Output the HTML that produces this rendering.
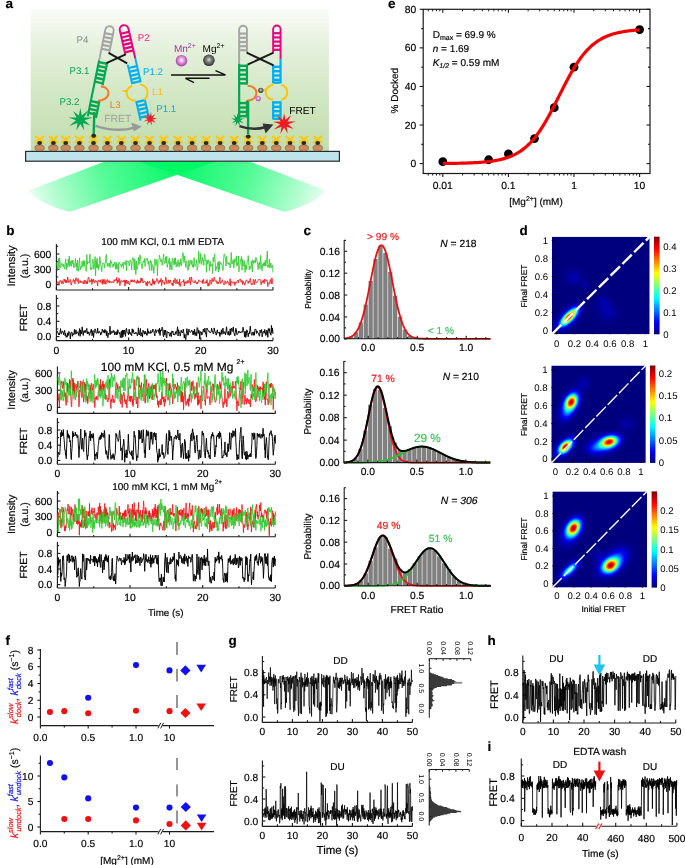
<!DOCTYPE html>
<html><head><meta charset="utf-8"><style>
html,body{margin:0;padding:0;background:#fff;}
svg{display:block;font-family:"Liberation Sans",sans-serif;will-change:transform;text-rendering:geometricPrecision;}
</style></head><body>
<svg width="685" height="865" viewBox="0 0 685 865">
<defs><linearGradient id="abg" x1="0" y1="0" x2="0" y2="1"><stop offset="0" stop-color="#fafcf8"/><stop offset="0.25" stop-color="#e6f1de"/><stop offset="0.6" stop-color="#d2e7c4"/><stop offset="1" stop-color="#c2dcae"/></linearGradient>
<linearGradient id="beamL" gradientUnits="userSpaceOnUse" x1="188" y1="163" x2="30" y2="222"><stop offset="0" stop-color="#00f864"/><stop offset="0.1" stop-color="#00f864" stop-opacity="0.95"/><stop offset="0.5" stop-color="#00f864" stop-opacity="0.66"/><stop offset="0.8" stop-color="#00f864" stop-opacity="0.3"/><stop offset="1" stop-color="#00f864" stop-opacity="0"/></linearGradient>
<linearGradient id="beamR" gradientUnits="userSpaceOnUse" x1="166.2" y1="163" x2="324.2" y2="222"><stop offset="0" stop-color="#00f864"/><stop offset="0.1" stop-color="#00f864" stop-opacity="0.95"/><stop offset="0.5" stop-color="#00f864" stop-opacity="0.66"/><stop offset="0.8" stop-color="#00f864" stop-opacity="0.3"/><stop offset="1" stop-color="#00f864" stop-opacity="0"/></linearGradient>
<radialGradient id="mnball" cx="0.5" cy="0.45" r="0.55"><stop offset="0" stop-color="#ffffff"/><stop offset="0.35" stop-color="#e9a6e6"/><stop offset="1" stop-color="#a33aa2"/></radialGradient>
<radialGradient id="mgball" cx="0.5" cy="0.45" r="0.55"><stop offset="0" stop-color="#e0e0e0"/><stop offset="0.35" stop-color="#8a8a8a"/><stop offset="1" stop-color="#2a2a2a"/></radialGradient>
<filter id="jet" x="0" y="0" width="685" height="865" filterUnits="userSpaceOnUse" color-interpolation-filters="sRGB"><feComponentTransfer><feFuncR type="table" tableValues="0.000 0.000 0.000 0.000 0.000 0.000 0.000 0.000 0.000 0.000 0.000 0.000 0.000 0.000 0.000 0.000 0.000 0.000 0.000 0.000 0.000 0.000 0.000 0.000 0.000 0.062 0.125 0.188 0.250 0.312 0.375 0.438 0.500 0.562 0.625 0.688 0.750 0.812 0.875 0.938 1.000 1.000 1.000 1.000 1.000 1.000 1.000 1.000 1.000 1.000 1.000 1.000 1.000 1.000 1.000 1.000 1.000 0.938 0.875 0.812 0.750 0.688 0.625 0.562 0.500"/><feFuncG type="table" tableValues="0.000 0.000 0.000 0.000 0.000 0.000 0.000 0.000 0.000 0.062 0.125 0.188 0.250 0.312 0.375 0.438 0.500 0.562 0.625 0.688 0.750 0.812 0.875 0.938 1.000 1.000 1.000 1.000 1.000 1.000 1.000 1.000 1.000 1.000 1.000 1.000 1.000 1.000 1.000 1.000 1.000 0.938 0.875 0.812 0.750 0.688 0.625 0.562 0.500 0.438 0.375 0.312 0.250 0.188 0.125 0.062 0.000 0.000 0.000 0.000 0.000 0.000 0.000 0.000 0.000"/><feFuncB type="table" tableValues="0.500 0.562 0.625 0.688 0.750 0.812 0.875 0.938 1.000 1.000 1.000 1.000 1.000 1.000 1.000 1.000 1.000 1.000 1.000 1.000 1.000 1.000 1.000 1.000 1.000 0.938 0.875 0.812 0.750 0.688 0.625 0.562 0.500 0.438 0.375 0.312 0.250 0.188 0.125 0.062 0.000 0.000 0.000 0.000 0.000 0.000 0.000 0.000 0.000 0.000 0.000 0.000 0.000 0.000 0.000 0.000 0.000 0.000 0.000 0.000 0.000 0.000 0.000 0.000 0.000"/><feFuncA type="identity"/></feComponentTransfer></filter>
<linearGradient id="jetbar" x1="0" y1="1" x2="0" y2="0"><stop offset="0" stop-color="#000080"/><stop offset="0.02" stop-color="#00008f"/><stop offset="0.03" stop-color="#00009f"/><stop offset="0.05" stop-color="#0000af"/><stop offset="0.06" stop-color="#0000bf"/><stop offset="0.08" stop-color="#0000cf"/><stop offset="0.09" stop-color="#0000df"/><stop offset="0.11" stop-color="#0000ef"/><stop offset="0.12" stop-color="#0000ff"/><stop offset="0.14" stop-color="#0010ff"/><stop offset="0.16" stop-color="#0020ff"/><stop offset="0.17" stop-color="#0030ff"/><stop offset="0.19" stop-color="#0040ff"/><stop offset="0.2" stop-color="#0050ff"/><stop offset="0.22" stop-color="#0060ff"/><stop offset="0.23" stop-color="#0070ff"/><stop offset="0.25" stop-color="#0080ff"/><stop offset="0.27" stop-color="#008fff"/><stop offset="0.28" stop-color="#009fff"/><stop offset="0.3" stop-color="#00afff"/><stop offset="0.31" stop-color="#00bfff"/><stop offset="0.33" stop-color="#00cfff"/><stop offset="0.34" stop-color="#00dfff"/><stop offset="0.36" stop-color="#00efff"/><stop offset="0.38" stop-color="#00ffff"/><stop offset="0.39" stop-color="#10ffef"/><stop offset="0.41" stop-color="#20ffdf"/><stop offset="0.42" stop-color="#30ffcf"/><stop offset="0.44" stop-color="#40ffbf"/><stop offset="0.45" stop-color="#50ffaf"/><stop offset="0.47" stop-color="#60ff9f"/><stop offset="0.48" stop-color="#70ff8f"/><stop offset="0.5" stop-color="#80ff80"/><stop offset="0.52" stop-color="#8fff70"/><stop offset="0.53" stop-color="#9fff60"/><stop offset="0.55" stop-color="#afff50"/><stop offset="0.56" stop-color="#bfff40"/><stop offset="0.58" stop-color="#cfff30"/><stop offset="0.59" stop-color="#dfff20"/><stop offset="0.61" stop-color="#efff10"/><stop offset="0.62" stop-color="#ffff00"/><stop offset="0.64" stop-color="#ffef00"/><stop offset="0.66" stop-color="#ffdf00"/><stop offset="0.67" stop-color="#ffcf00"/><stop offset="0.69" stop-color="#ffbf00"/><stop offset="0.7" stop-color="#ffaf00"/><stop offset="0.72" stop-color="#ff9f00"/><stop offset="0.73" stop-color="#ff8f00"/><stop offset="0.75" stop-color="#ff8000"/><stop offset="0.77" stop-color="#ff7000"/><stop offset="0.78" stop-color="#ff6000"/><stop offset="0.8" stop-color="#ff5000"/><stop offset="0.81" stop-color="#ff4000"/><stop offset="0.83" stop-color="#ff3000"/><stop offset="0.84" stop-color="#ff2000"/><stop offset="0.86" stop-color="#ff1000"/><stop offset="0.88" stop-color="#ff0000"/><stop offset="0.89" stop-color="#ef0000"/><stop offset="0.91" stop-color="#df0000"/><stop offset="0.92" stop-color="#cf0000"/><stop offset="0.94" stop-color="#bf0000"/><stop offset="0.95" stop-color="#af0000"/><stop offset="0.97" stop-color="#9f0000"/><stop offset="0.98" stop-color="#8f0000"/><stop offset="1" stop-color="#800000"/></linearGradient>
<radialGradient id="bg1"><stop offset="0" stop-color="#fff" stop-opacity="0.970"/><stop offset="0.08" stop-color="#fff" stop-opacity="0.940"/><stop offset="0.17" stop-color="#fff" stop-opacity="0.856"/><stop offset="0.25" stop-color="#fff" stop-opacity="0.732"/><stop offset="0.33" stop-color="#fff" stop-opacity="0.588"/><stop offset="0.42" stop-color="#fff" stop-opacity="0.444"/><stop offset="0.5" stop-color="#fff" stop-opacity="0.315"/><stop offset="0.58" stop-color="#fff" stop-opacity="0.210"/><stop offset="0.67" stop-color="#fff" stop-opacity="0.131"/><stop offset="0.75" stop-color="#fff" stop-opacity="0.077"/><stop offset="0.83" stop-color="#fff" stop-opacity="0.043"/><stop offset="0.92" stop-color="#fff" stop-opacity="0.022"/><stop offset="1" stop-color="#fff" stop-opacity="0.000"/></radialGradient>
<radialGradient id="bg2"><stop offset="0" stop-color="#fff" stop-opacity="0.250"/><stop offset="0.08" stop-color="#fff" stop-opacity="0.242"/><stop offset="0.17" stop-color="#fff" stop-opacity="0.221"/><stop offset="0.25" stop-color="#fff" stop-opacity="0.189"/><stop offset="0.33" stop-color="#fff" stop-opacity="0.152"/><stop offset="0.42" stop-color="#fff" stop-opacity="0.114"/><stop offset="0.5" stop-color="#fff" stop-opacity="0.081"/><stop offset="0.58" stop-color="#fff" stop-opacity="0.054"/><stop offset="0.67" stop-color="#fff" stop-opacity="0.034"/><stop offset="0.75" stop-color="#fff" stop-opacity="0.020"/><stop offset="0.83" stop-color="#fff" stop-opacity="0.011"/><stop offset="0.92" stop-color="#fff" stop-opacity="0.006"/><stop offset="1" stop-color="#fff" stop-opacity="0.000"/></radialGradient>
<radialGradient id="bg3"><stop offset="0" stop-color="#fff" stop-opacity="0.050"/><stop offset="0.08" stop-color="#fff" stop-opacity="0.048"/><stop offset="0.17" stop-color="#fff" stop-opacity="0.044"/><stop offset="0.25" stop-color="#fff" stop-opacity="0.038"/><stop offset="0.33" stop-color="#fff" stop-opacity="0.030"/><stop offset="0.42" stop-color="#fff" stop-opacity="0.023"/><stop offset="0.5" stop-color="#fff" stop-opacity="0.016"/><stop offset="0.58" stop-color="#fff" stop-opacity="0.011"/><stop offset="0.67" stop-color="#fff" stop-opacity="0.007"/><stop offset="0.75" stop-color="#fff" stop-opacity="0.004"/><stop offset="0.83" stop-color="#fff" stop-opacity="0.002"/><stop offset="0.92" stop-color="#fff" stop-opacity="0.001"/><stop offset="1" stop-color="#fff" stop-opacity="0.000"/></radialGradient>
<radialGradient id="bg4"><stop offset="0" stop-color="#fff" stop-opacity="0.040"/><stop offset="0.08" stop-color="#fff" stop-opacity="0.039"/><stop offset="0.17" stop-color="#fff" stop-opacity="0.035"/><stop offset="0.25" stop-color="#fff" stop-opacity="0.030"/><stop offset="0.33" stop-color="#fff" stop-opacity="0.024"/><stop offset="0.42" stop-color="#fff" stop-opacity="0.018"/><stop offset="0.5" stop-color="#fff" stop-opacity="0.013"/><stop offset="0.58" stop-color="#fff" stop-opacity="0.009"/><stop offset="0.67" stop-color="#fff" stop-opacity="0.005"/><stop offset="0.75" stop-color="#fff" stop-opacity="0.003"/><stop offset="0.83" stop-color="#fff" stop-opacity="0.002"/><stop offset="0.92" stop-color="#fff" stop-opacity="0.001"/><stop offset="1" stop-color="#fff" stop-opacity="0.000"/></radialGradient>
<radialGradient id="bg5"><stop offset="0" stop-color="#fff" stop-opacity="0.050"/><stop offset="0.08" stop-color="#fff" stop-opacity="0.048"/><stop offset="0.17" stop-color="#fff" stop-opacity="0.044"/><stop offset="0.25" stop-color="#fff" stop-opacity="0.038"/><stop offset="0.33" stop-color="#fff" stop-opacity="0.030"/><stop offset="0.42" stop-color="#fff" stop-opacity="0.023"/><stop offset="0.5" stop-color="#fff" stop-opacity="0.016"/><stop offset="0.58" stop-color="#fff" stop-opacity="0.011"/><stop offset="0.67" stop-color="#fff" stop-opacity="0.007"/><stop offset="0.75" stop-color="#fff" stop-opacity="0.004"/><stop offset="0.83" stop-color="#fff" stop-opacity="0.002"/><stop offset="0.92" stop-color="#fff" stop-opacity="0.001"/><stop offset="1" stop-color="#fff" stop-opacity="0.000"/></radialGradient>
<radialGradient id="bg6"><stop offset="0" stop-color="#fff" stop-opacity="0.040"/><stop offset="0.08" stop-color="#fff" stop-opacity="0.039"/><stop offset="0.17" stop-color="#fff" stop-opacity="0.035"/><stop offset="0.25" stop-color="#fff" stop-opacity="0.030"/><stop offset="0.33" stop-color="#fff" stop-opacity="0.024"/><stop offset="0.42" stop-color="#fff" stop-opacity="0.018"/><stop offset="0.5" stop-color="#fff" stop-opacity="0.013"/><stop offset="0.58" stop-color="#fff" stop-opacity="0.009"/><stop offset="0.67" stop-color="#fff" stop-opacity="0.005"/><stop offset="0.75" stop-color="#fff" stop-opacity="0.003"/><stop offset="0.83" stop-color="#fff" stop-opacity="0.002"/><stop offset="0.92" stop-color="#fff" stop-opacity="0.001"/><stop offset="1" stop-color="#fff" stop-opacity="0.000"/></radialGradient>
<clipPath id="hc7"><rect x="551.8" y="236.7" width="97.9" height="97.6"/></clipPath>
<radialGradient id="bg8"><stop offset="0" stop-color="#fff" stop-opacity="0.920"/><stop offset="0.08" stop-color="#fff" stop-opacity="0.892"/><stop offset="0.17" stop-color="#fff" stop-opacity="0.812"/><stop offset="0.25" stop-color="#fff" stop-opacity="0.694"/><stop offset="0.33" stop-color="#fff" stop-opacity="0.558"/><stop offset="0.42" stop-color="#fff" stop-opacity="0.421"/><stop offset="0.5" stop-color="#fff" stop-opacity="0.299"/><stop offset="0.58" stop-color="#fff" stop-opacity="0.199"/><stop offset="0.67" stop-color="#fff" stop-opacity="0.125"/><stop offset="0.75" stop-color="#fff" stop-opacity="0.073"/><stop offset="0.83" stop-color="#fff" stop-opacity="0.040"/><stop offset="0.92" stop-color="#fff" stop-opacity="0.021"/><stop offset="1" stop-color="#fff" stop-opacity="0.000"/></radialGradient>
<radialGradient id="bg9"><stop offset="0" stop-color="#fff" stop-opacity="0.260"/><stop offset="0.08" stop-color="#fff" stop-opacity="0.252"/><stop offset="0.17" stop-color="#fff" stop-opacity="0.229"/><stop offset="0.25" stop-color="#fff" stop-opacity="0.196"/><stop offset="0.33" stop-color="#fff" stop-opacity="0.158"/><stop offset="0.42" stop-color="#fff" stop-opacity="0.119"/><stop offset="0.5" stop-color="#fff" stop-opacity="0.084"/><stop offset="0.58" stop-color="#fff" stop-opacity="0.056"/><stop offset="0.67" stop-color="#fff" stop-opacity="0.035"/><stop offset="0.75" stop-color="#fff" stop-opacity="0.021"/><stop offset="0.83" stop-color="#fff" stop-opacity="0.011"/><stop offset="0.92" stop-color="#fff" stop-opacity="0.006"/><stop offset="1" stop-color="#fff" stop-opacity="0.000"/></radialGradient>
<radialGradient id="bg10"><stop offset="0" stop-color="#fff" stop-opacity="0.100"/><stop offset="0.08" stop-color="#fff" stop-opacity="0.097"/><stop offset="0.17" stop-color="#fff" stop-opacity="0.088"/><stop offset="0.25" stop-color="#fff" stop-opacity="0.075"/><stop offset="0.33" stop-color="#fff" stop-opacity="0.061"/><stop offset="0.42" stop-color="#fff" stop-opacity="0.046"/><stop offset="0.5" stop-color="#fff" stop-opacity="0.032"/><stop offset="0.58" stop-color="#fff" stop-opacity="0.022"/><stop offset="0.67" stop-color="#fff" stop-opacity="0.014"/><stop offset="0.75" stop-color="#fff" stop-opacity="0.008"/><stop offset="0.83" stop-color="#fff" stop-opacity="0.004"/><stop offset="0.92" stop-color="#fff" stop-opacity="0.002"/><stop offset="1" stop-color="#fff" stop-opacity="0.000"/></radialGradient>
<radialGradient id="bg11"><stop offset="0" stop-color="#fff" stop-opacity="0.900"/><stop offset="0.08" stop-color="#fff" stop-opacity="0.872"/><stop offset="0.17" stop-color="#fff" stop-opacity="0.794"/><stop offset="0.25" stop-color="#fff" stop-opacity="0.679"/><stop offset="0.33" stop-color="#fff" stop-opacity="0.546"/><stop offset="0.42" stop-color="#fff" stop-opacity="0.412"/><stop offset="0.5" stop-color="#fff" stop-opacity="0.292"/><stop offset="0.58" stop-color="#fff" stop-opacity="0.195"/><stop offset="0.67" stop-color="#fff" stop-opacity="0.122"/><stop offset="0.75" stop-color="#fff" stop-opacity="0.072"/><stop offset="0.83" stop-color="#fff" stop-opacity="0.040"/><stop offset="0.92" stop-color="#fff" stop-opacity="0.021"/><stop offset="1" stop-color="#fff" stop-opacity="0.000"/></radialGradient>
<radialGradient id="bg12"><stop offset="0" stop-color="#fff" stop-opacity="0.180"/><stop offset="0.08" stop-color="#fff" stop-opacity="0.174"/><stop offset="0.17" stop-color="#fff" stop-opacity="0.159"/><stop offset="0.25" stop-color="#fff" stop-opacity="0.136"/><stop offset="0.33" stop-color="#fff" stop-opacity="0.109"/><stop offset="0.42" stop-color="#fff" stop-opacity="0.082"/><stop offset="0.5" stop-color="#fff" stop-opacity="0.058"/><stop offset="0.58" stop-color="#fff" stop-opacity="0.039"/><stop offset="0.67" stop-color="#fff" stop-opacity="0.024"/><stop offset="0.75" stop-color="#fff" stop-opacity="0.014"/><stop offset="0.83" stop-color="#fff" stop-opacity="0.008"/><stop offset="0.92" stop-color="#fff" stop-opacity="0.004"/><stop offset="1" stop-color="#fff" stop-opacity="0.000"/></radialGradient>
<radialGradient id="bg13"><stop offset="0" stop-color="#fff" stop-opacity="0.900"/><stop offset="0.08" stop-color="#fff" stop-opacity="0.872"/><stop offset="0.17" stop-color="#fff" stop-opacity="0.794"/><stop offset="0.25" stop-color="#fff" stop-opacity="0.679"/><stop offset="0.33" stop-color="#fff" stop-opacity="0.546"/><stop offset="0.42" stop-color="#fff" stop-opacity="0.412"/><stop offset="0.5" stop-color="#fff" stop-opacity="0.292"/><stop offset="0.58" stop-color="#fff" stop-opacity="0.195"/><stop offset="0.67" stop-color="#fff" stop-opacity="0.122"/><stop offset="0.75" stop-color="#fff" stop-opacity="0.072"/><stop offset="0.83" stop-color="#fff" stop-opacity="0.040"/><stop offset="0.92" stop-color="#fff" stop-opacity="0.021"/><stop offset="1" stop-color="#fff" stop-opacity="0.000"/></radialGradient>
<radialGradient id="bg14"><stop offset="0" stop-color="#fff" stop-opacity="0.240"/><stop offset="0.08" stop-color="#fff" stop-opacity="0.233"/><stop offset="0.17" stop-color="#fff" stop-opacity="0.212"/><stop offset="0.25" stop-color="#fff" stop-opacity="0.181"/><stop offset="0.33" stop-color="#fff" stop-opacity="0.146"/><stop offset="0.42" stop-color="#fff" stop-opacity="0.110"/><stop offset="0.5" stop-color="#fff" stop-opacity="0.078"/><stop offset="0.58" stop-color="#fff" stop-opacity="0.052"/><stop offset="0.67" stop-color="#fff" stop-opacity="0.032"/><stop offset="0.75" stop-color="#fff" stop-opacity="0.019"/><stop offset="0.83" stop-color="#fff" stop-opacity="0.011"/><stop offset="0.92" stop-color="#fff" stop-opacity="0.005"/><stop offset="1" stop-color="#fff" stop-opacity="0.000"/></radialGradient>
<radialGradient id="bg15"><stop offset="0" stop-color="#fff" stop-opacity="0.120"/><stop offset="0.08" stop-color="#fff" stop-opacity="0.116"/><stop offset="0.17" stop-color="#fff" stop-opacity="0.106"/><stop offset="0.25" stop-color="#fff" stop-opacity="0.091"/><stop offset="0.33" stop-color="#fff" stop-opacity="0.073"/><stop offset="0.42" stop-color="#fff" stop-opacity="0.055"/><stop offset="0.5" stop-color="#fff" stop-opacity="0.039"/><stop offset="0.58" stop-color="#fff" stop-opacity="0.026"/><stop offset="0.67" stop-color="#fff" stop-opacity="0.016"/><stop offset="0.75" stop-color="#fff" stop-opacity="0.010"/><stop offset="0.83" stop-color="#fff" stop-opacity="0.005"/><stop offset="0.92" stop-color="#fff" stop-opacity="0.003"/><stop offset="1" stop-color="#fff" stop-opacity="0.000"/></radialGradient>
<radialGradient id="bg16"><stop offset="0" stop-color="#fff" stop-opacity="0.050"/><stop offset="0.08" stop-color="#fff" stop-opacity="0.048"/><stop offset="0.17" stop-color="#fff" stop-opacity="0.044"/><stop offset="0.25" stop-color="#fff" stop-opacity="0.038"/><stop offset="0.33" stop-color="#fff" stop-opacity="0.030"/><stop offset="0.42" stop-color="#fff" stop-opacity="0.023"/><stop offset="0.5" stop-color="#fff" stop-opacity="0.016"/><stop offset="0.58" stop-color="#fff" stop-opacity="0.011"/><stop offset="0.67" stop-color="#fff" stop-opacity="0.007"/><stop offset="0.75" stop-color="#fff" stop-opacity="0.004"/><stop offset="0.83" stop-color="#fff" stop-opacity="0.002"/><stop offset="0.92" stop-color="#fff" stop-opacity="0.001"/><stop offset="1" stop-color="#fff" stop-opacity="0.000"/></radialGradient>
<radialGradient id="bg17"><stop offset="0" stop-color="#fff" stop-opacity="0.040"/><stop offset="0.08" stop-color="#fff" stop-opacity="0.039"/><stop offset="0.17" stop-color="#fff" stop-opacity="0.035"/><stop offset="0.25" stop-color="#fff" stop-opacity="0.030"/><stop offset="0.33" stop-color="#fff" stop-opacity="0.024"/><stop offset="0.42" stop-color="#fff" stop-opacity="0.018"/><stop offset="0.5" stop-color="#fff" stop-opacity="0.013"/><stop offset="0.58" stop-color="#fff" stop-opacity="0.009"/><stop offset="0.67" stop-color="#fff" stop-opacity="0.005"/><stop offset="0.75" stop-color="#fff" stop-opacity="0.003"/><stop offset="0.83" stop-color="#fff" stop-opacity="0.002"/><stop offset="0.92" stop-color="#fff" stop-opacity="0.001"/><stop offset="1" stop-color="#fff" stop-opacity="0.000"/></radialGradient>
<clipPath id="hc18"><rect x="551.3" y="365.5" width="94.5" height="97.4"/></clipPath>
<radialGradient id="bg19"><stop offset="0" stop-color="#fff" stop-opacity="0.950"/><stop offset="0.08" stop-color="#fff" stop-opacity="0.921"/><stop offset="0.17" stop-color="#fff" stop-opacity="0.838"/><stop offset="0.25" stop-color="#fff" stop-opacity="0.717"/><stop offset="0.33" stop-color="#fff" stop-opacity="0.576"/><stop offset="0.42" stop-color="#fff" stop-opacity="0.435"/><stop offset="0.5" stop-color="#fff" stop-opacity="0.308"/><stop offset="0.58" stop-color="#fff" stop-opacity="0.205"/><stop offset="0.67" stop-color="#fff" stop-opacity="0.129"/><stop offset="0.75" stop-color="#fff" stop-opacity="0.076"/><stop offset="0.83" stop-color="#fff" stop-opacity="0.042"/><stop offset="0.92" stop-color="#fff" stop-opacity="0.022"/><stop offset="1" stop-color="#fff" stop-opacity="0.000"/></radialGradient>
<radialGradient id="bg20"><stop offset="0" stop-color="#fff" stop-opacity="0.250"/><stop offset="0.08" stop-color="#fff" stop-opacity="0.242"/><stop offset="0.17" stop-color="#fff" stop-opacity="0.221"/><stop offset="0.25" stop-color="#fff" stop-opacity="0.189"/><stop offset="0.33" stop-color="#fff" stop-opacity="0.152"/><stop offset="0.42" stop-color="#fff" stop-opacity="0.114"/><stop offset="0.5" stop-color="#fff" stop-opacity="0.081"/><stop offset="0.58" stop-color="#fff" stop-opacity="0.054"/><stop offset="0.67" stop-color="#fff" stop-opacity="0.034"/><stop offset="0.75" stop-color="#fff" stop-opacity="0.020"/><stop offset="0.83" stop-color="#fff" stop-opacity="0.011"/><stop offset="0.92" stop-color="#fff" stop-opacity="0.006"/><stop offset="1" stop-color="#fff" stop-opacity="0.000"/></radialGradient>
<radialGradient id="bg21"><stop offset="0" stop-color="#fff" stop-opacity="0.420"/><stop offset="0.08" stop-color="#fff" stop-opacity="0.407"/><stop offset="0.17" stop-color="#fff" stop-opacity="0.371"/><stop offset="0.25" stop-color="#fff" stop-opacity="0.317"/><stop offset="0.33" stop-color="#fff" stop-opacity="0.255"/><stop offset="0.42" stop-color="#fff" stop-opacity="0.192"/><stop offset="0.5" stop-color="#fff" stop-opacity="0.136"/><stop offset="0.58" stop-color="#fff" stop-opacity="0.091"/><stop offset="0.67" stop-color="#fff" stop-opacity="0.057"/><stop offset="0.75" stop-color="#fff" stop-opacity="0.033"/><stop offset="0.83" stop-color="#fff" stop-opacity="0.018"/><stop offset="0.92" stop-color="#fff" stop-opacity="0.010"/><stop offset="1" stop-color="#fff" stop-opacity="0.000"/></radialGradient>
<radialGradient id="bg22"><stop offset="0" stop-color="#fff" stop-opacity="0.100"/><stop offset="0.08" stop-color="#fff" stop-opacity="0.097"/><stop offset="0.17" stop-color="#fff" stop-opacity="0.088"/><stop offset="0.25" stop-color="#fff" stop-opacity="0.075"/><stop offset="0.33" stop-color="#fff" stop-opacity="0.061"/><stop offset="0.42" stop-color="#fff" stop-opacity="0.046"/><stop offset="0.5" stop-color="#fff" stop-opacity="0.032"/><stop offset="0.58" stop-color="#fff" stop-opacity="0.022"/><stop offset="0.67" stop-color="#fff" stop-opacity="0.014"/><stop offset="0.75" stop-color="#fff" stop-opacity="0.008"/><stop offset="0.83" stop-color="#fff" stop-opacity="0.004"/><stop offset="0.92" stop-color="#fff" stop-opacity="0.002"/><stop offset="1" stop-color="#fff" stop-opacity="0.000"/></radialGradient>
<radialGradient id="bg23"><stop offset="0" stop-color="#fff" stop-opacity="0.950"/><stop offset="0.08" stop-color="#fff" stop-opacity="0.921"/><stop offset="0.17" stop-color="#fff" stop-opacity="0.838"/><stop offset="0.25" stop-color="#fff" stop-opacity="0.717"/><stop offset="0.33" stop-color="#fff" stop-opacity="0.576"/><stop offset="0.42" stop-color="#fff" stop-opacity="0.435"/><stop offset="0.5" stop-color="#fff" stop-opacity="0.308"/><stop offset="0.58" stop-color="#fff" stop-opacity="0.205"/><stop offset="0.67" stop-color="#fff" stop-opacity="0.129"/><stop offset="0.75" stop-color="#fff" stop-opacity="0.076"/><stop offset="0.83" stop-color="#fff" stop-opacity="0.042"/><stop offset="0.92" stop-color="#fff" stop-opacity="0.022"/><stop offset="1" stop-color="#fff" stop-opacity="0.000"/></radialGradient>
<radialGradient id="bg24"><stop offset="0" stop-color="#fff" stop-opacity="0.250"/><stop offset="0.08" stop-color="#fff" stop-opacity="0.242"/><stop offset="0.17" stop-color="#fff" stop-opacity="0.221"/><stop offset="0.25" stop-color="#fff" stop-opacity="0.189"/><stop offset="0.33" stop-color="#fff" stop-opacity="0.152"/><stop offset="0.42" stop-color="#fff" stop-opacity="0.114"/><stop offset="0.5" stop-color="#fff" stop-opacity="0.081"/><stop offset="0.58" stop-color="#fff" stop-opacity="0.054"/><stop offset="0.67" stop-color="#fff" stop-opacity="0.034"/><stop offset="0.75" stop-color="#fff" stop-opacity="0.020"/><stop offset="0.83" stop-color="#fff" stop-opacity="0.011"/><stop offset="0.92" stop-color="#fff" stop-opacity="0.006"/><stop offset="1" stop-color="#fff" stop-opacity="0.000"/></radialGradient>
<radialGradient id="bg25"><stop offset="0" stop-color="#fff" stop-opacity="0.090"/><stop offset="0.08" stop-color="#fff" stop-opacity="0.087"/><stop offset="0.17" stop-color="#fff" stop-opacity="0.079"/><stop offset="0.25" stop-color="#fff" stop-opacity="0.068"/><stop offset="0.33" stop-color="#fff" stop-opacity="0.055"/><stop offset="0.42" stop-color="#fff" stop-opacity="0.041"/><stop offset="0.5" stop-color="#fff" stop-opacity="0.029"/><stop offset="0.58" stop-color="#fff" stop-opacity="0.019"/><stop offset="0.67" stop-color="#fff" stop-opacity="0.012"/><stop offset="0.75" stop-color="#fff" stop-opacity="0.007"/><stop offset="0.83" stop-color="#fff" stop-opacity="0.004"/><stop offset="0.92" stop-color="#fff" stop-opacity="0.002"/><stop offset="1" stop-color="#fff" stop-opacity="0.000"/></radialGradient>
<radialGradient id="bg26"><stop offset="0" stop-color="#fff" stop-opacity="0.050"/><stop offset="0.08" stop-color="#fff" stop-opacity="0.048"/><stop offset="0.17" stop-color="#fff" stop-opacity="0.044"/><stop offset="0.25" stop-color="#fff" stop-opacity="0.038"/><stop offset="0.33" stop-color="#fff" stop-opacity="0.030"/><stop offset="0.42" stop-color="#fff" stop-opacity="0.023"/><stop offset="0.5" stop-color="#fff" stop-opacity="0.016"/><stop offset="0.58" stop-color="#fff" stop-opacity="0.011"/><stop offset="0.67" stop-color="#fff" stop-opacity="0.007"/><stop offset="0.75" stop-color="#fff" stop-opacity="0.004"/><stop offset="0.83" stop-color="#fff" stop-opacity="0.002"/><stop offset="0.92" stop-color="#fff" stop-opacity="0.001"/><stop offset="1" stop-color="#fff" stop-opacity="0.000"/></radialGradient>
<clipPath id="hc27"><rect x="552.4" y="491.4" width="94.6" height="96.2"/></clipPath></defs>
<line x1="56.4" y1="244" x2="56.4" y2="290" stroke="#1a1a1a" stroke-width="1.1" />
<line x1="56.4" y1="284.6" x2="59.4" y2="284.6" stroke="#1a1a1a" stroke-width="1.1" />
<line x1="56.4" y1="269.3" x2="59.4" y2="269.3" stroke="#1a1a1a" stroke-width="1.1" />
<line x1="56.4" y1="254" x2="59.4" y2="254" stroke="#1a1a1a" stroke-width="1.1" />
<line x1="56.4" y1="276.95" x2="58.2" y2="276.95" stroke="#1a1a1a" stroke-width="1.1" />
<line x1="56.4" y1="261.65" x2="58.2" y2="261.65" stroke="#1a1a1a" stroke-width="1.1" />
<line x1="56.4" y1="246.35" x2="58.2" y2="246.35" stroke="#1a1a1a" stroke-width="1.1" />
<line x1="56.4" y1="290" x2="273" y2="290" stroke="#1a1a1a" stroke-width="1.1" />
<line x1="56.4" y1="290" x2="56.4" y2="287" stroke="#1a1a1a" stroke-width="1.1" />
<line x1="128.6" y1="290" x2="128.6" y2="287" stroke="#1a1a1a" stroke-width="1.1" />
<line x1="200.8" y1="290" x2="200.8" y2="287" stroke="#1a1a1a" stroke-width="1.1" />
<line x1="273" y1="290" x2="273" y2="287" stroke="#1a1a1a" stroke-width="1.1" />
<line x1="92.5" y1="290" x2="92.5" y2="288.2" stroke="#1a1a1a" stroke-width="1.1" />
<line x1="164.7" y1="290" x2="164.7" y2="288.2" stroke="#1a1a1a" stroke-width="1.1" />
<line x1="236.9" y1="290" x2="236.9" y2="288.2" stroke="#1a1a1a" stroke-width="1.1" />
<line x1="56.4" y1="295" x2="56.4" y2="340.6" stroke="#1a1a1a" stroke-width="1.1" />
<line x1="56.4" y1="336.6" x2="59.4" y2="336.6" stroke="#1a1a1a" stroke-width="1.1" />
<line x1="56.4" y1="321.3" x2="59.4" y2="321.3" stroke="#1a1a1a" stroke-width="1.1" />
<line x1="56.4" y1="306" x2="59.4" y2="306" stroke="#1a1a1a" stroke-width="1.1" />
<line x1="56.4" y1="328.95" x2="58.2" y2="328.95" stroke="#1a1a1a" stroke-width="1.1" />
<line x1="56.4" y1="313.65" x2="58.2" y2="313.65" stroke="#1a1a1a" stroke-width="1.1" />
<line x1="56.4" y1="298.35" x2="58.2" y2="298.35" stroke="#1a1a1a" stroke-width="1.1" />
<line x1="56.4" y1="340.6" x2="273" y2="340.6" stroke="#1a1a1a" stroke-width="1.1" />
<line x1="56.4" y1="340.6" x2="56.4" y2="337.6" stroke="#1a1a1a" stroke-width="1.1" />
<line x1="128.6" y1="340.6" x2="128.6" y2="337.6" stroke="#1a1a1a" stroke-width="1.1" />
<line x1="200.8" y1="340.6" x2="200.8" y2="337.6" stroke="#1a1a1a" stroke-width="1.1" />
<line x1="273" y1="340.6" x2="273" y2="337.6" stroke="#1a1a1a" stroke-width="1.1" />
<line x1="92.5" y1="340.6" x2="92.5" y2="338.8" stroke="#1a1a1a" stroke-width="1.1" />
<line x1="164.7" y1="340.6" x2="164.7" y2="338.8" stroke="#1a1a1a" stroke-width="1.1" />
<line x1="236.9" y1="340.6" x2="236.9" y2="338.8" stroke="#1a1a1a" stroke-width="1.1" />
<path d="M56.9 262.17 57.42 270.6 57.93 264.68 58.45 258.41 58.96 268.67 59.48 258 59.99 261.38 60.51 267.72 61.03 265.23 61.54 265.03 62.06 263.15 62.57 265.39 63.09 266.72 63.6 264.32 64.12 267.64 64.64 268.84 65.15 263.15 65.67 258.87 66.18 269.94 66.7 262.91 67.21 265.91 67.73 267.41 68.25 259.01 68.76 265.3 69.28 256.05 69.79 266.5 70.31 261.15 70.82 263.97 71.34 266.39 71.86 260.23 72.37 263.64 72.89 260.16 73.4 263.14 73.92 267.91 74.43 263.39 74.95 262.69 75.47 258.53 75.98 267.08 76.5 263.11 77.01 270.83 77.53 259.93 78.04 267.89 78.56 271.22 79.08 263.2 79.59 257.85 80.11 269.92 80.62 267.92 81.14 266.34 81.65 268.11 82.17 261.18 82.69 266.63 83.2 266.24 83.72 260.25 84.23 266.39 84.75 260.94 85.26 267.38 85.78 268.49 86.3 271.35 86.81 254.38 87.33 264.39 87.84 261.81 88.36 263.07 88.87 262.19 89.39 262.7 89.91 254.17 90.42 267.69 90.94 270.07 91.45 267.57 91.97 269.05 92.48 259.5 93 259.16 93.52 267.34 94.03 269.31 94.55 264.55 95.06 256.54 95.58 275.87 96.09 260.51 96.61 267.86 97.13 258.15 97.64 267.87 98.16 264.24 98.67 269.84 99.19 267.41 99.7 256.56 100.22 259.16 100.74 264.77 101.25 266.92 101.77 271.62 102.28 264.73 102.8 263.07 103.31 263.31 103.83 263.36 104.35 268.07 104.86 263.23 105.38 263.1 105.89 257 106.41 254.36 106.92 263.55 107.44 266.44 107.96 263.22 108.47 265.71 108.99 266.33 109.5 263.19 110.02 267.71 110.53 260.14 111.05 263.4 111.57 261.78 112.08 263.76 112.6 266.26 113.11 267.28 113.63 264.01 114.14 265.44 114.66 261.85 115.18 262.95 115.69 269.18 116.21 262.62 116.72 269.09 117.24 265.75 117.75 264.28 118.27 272.45 118.79 262.5 119.3 262.23 119.82 263.65 120.33 264.87 120.85 264.64 121.36 267.41 121.88 264.16 122.4 265.46 122.91 262.5 123.43 268.45 123.94 261.84 124.46 262.27 124.97 263.57 125.49 264.94 126.01 260.39 126.52 270.57 127.04 260.81 127.55 261.81 128.07 261.62 128.58 261.17 129.1 265.93 129.62 264.12 130.13 260 130.65 260.95 131.16 261.98 131.68 269.88 132.19 260.46 132.71 257.56 133.23 258.29 133.74 261.85 134.26 270.07 134.77 258.6 135.29 263.6 135.8 274.55 136.32 261.19 136.84 269.77 137.35 268.88 137.87 265.84 138.38 257.08 138.9 264.63 139.41 261.68 139.93 254.9 140.45 255.61 140.96 263.4 141.48 264.03 141.99 268.71 142.51 266.11 143.02 260.97 143.54 261.11 144.06 262.42 144.57 258.36 145.09 266.47 145.6 263.18 146.12 259.57 146.63 260.24 147.15 258.01 147.67 261.1 148.18 264.35 148.7 261.26 149.21 267.53 149.73 270.45 150.24 260.26 150.76 263.18 151.28 261.51 151.79 270.72 152.31 264.6 152.82 265.68 153.34 266.89 153.85 273.28 154.37 264.46 154.89 258.81 155.4 261.18 155.92 265.68 156.43 262.99 156.95 259.45 157.46 275.6 157.98 263.5 158.5 260.43 159.01 259.79 159.53 255.12 160.04 257.72 160.56 261.49 161.07 261.54 161.59 259.31 162.11 265.4 162.62 263.11 163.14 258.77 163.65 253.94 164.17 263.66 164.68 263.15 165.2 262.01 165.72 256.76 166.23 263.06 166.75 256.18 167.26 267.36 167.78 263.78 168.29 263.83 168.81 259.31 169.33 258.13 169.84 269.85 170.36 267.13 170.87 261.38 171.39 265.95 171.9 269.91 172.42 258.16 172.94 260.66 173.45 260.66 173.97 265.11 174.48 258.2 175 264.03 175.51 257.89 176.03 267.11 176.55 266.85 177.06 261.99 177.58 266.15 178.09 259.82 178.61 261.73 179.12 267.16 179.64 262.59 180.16 264.54 180.67 258.72 181.19 265.83 181.7 264.94 182.22 257.37 182.73 252.65 183.25 253.75 183.77 262.63 184.28 261.92 184.8 255.89 185.31 263.5 185.83 267.41 186.34 262.39 186.86 260.85 187.38 266.73 187.89 270.48 188.41 269.52 188.92 259.87 189.44 266.41 189.95 263.57 190.47 261.95 190.99 260.08 191.5 264.46 192.02 260.64 192.53 267.01 193.05 264.59 193.56 267.63 194.08 257.73 194.6 263.05 195.11 266.32 195.63 264.54 196.14 263.94 196.66 259.71 197.17 270.25 197.69 267.69 198.21 264.66 198.72 251.3 199.24 258.54 199.75 263.44 200.27 259.66 200.78 253.48 201.3 264 201.82 264.61 202.33 257.36 202.85 260.66 203.36 259.84 203.88 265.26 204.39 254.09 204.91 255.08 205.43 260.33 205.94 259.78 206.46 272.23 206.97 260 207.49 263.82 208 260.93 208.52 259.79 209.04 264.49 209.55 270.68 210.07 261.24 210.58 266.33 211.1 264.44 211.61 265.7 212.13 264.49 212.65 273.53 213.16 257.34 213.68 261.76 214.19 257.82 214.71 253.84 215.22 262.82 215.74 271.2 216.26 267.03 216.77 268.46 217.29 265.23 217.8 262.56 218.32 272.12 218.83 261.35 219.35 269.86 219.87 261.56 220.38 263.43 220.9 264.36 221.41 263.26 221.93 265.4 222.44 265.74 222.96 270.65 223.48 263.06 223.99 254.45 224.51 253.83 225.02 256.86 225.54 259.69 226.05 266.03 226.57 256.3 227.09 263.18 227.6 263.24 228.12 264.26 228.63 262.5 229.15 264.92 229.66 263.31 230.18 267.9 230.7 264.64 231.21 252.46 231.73 263.24 232.24 264.02 232.76 260.48 233.27 259.67 233.79 268.04 234.31 263.88 234.82 258.71 235.34 261.69 235.85 262.37 236.37 255.79 236.88 266.04 237.4 262.55 237.92 265.31 238.43 256.08 238.95 271.88 239.46 266 239.98 265.35 240.49 259.88 241.01 260.14 241.53 256.52 242.04 270.15 242.56 259.48 243.07 264.27 243.59 265.98 244.1 260.45 244.62 267.15 245.14 272.46 245.65 264.62 246.17 269.8 246.68 265.9 247.2 261.22 247.71 261.49 248.23 255.64 248.75 263.84 249.26 269.96 249.78 266.4 250.29 267.14 250.81 268.51 251.32 260.93 251.84 265.89 252.36 272 252.87 259.73 253.39 263.44 253.9 261.29 254.42 262.44 254.93 260.03 255.45 262.75 255.97 257.25 256.48 260.97 257 261.13 257.51 261.04 258.03 269.61 258.54 263.68 259.06 264.12 259.58 261.97 260.09 269.16 260.61 255.42 261.12 262.45 261.64 268.48 262.15 270.77 262.67 264.22 263.19 263.34 263.7 266.22 264.22 262.5 264.73 265.87 265.25 260.39 265.76 266.25 266.28 263.1 266.8 258.43 267.31 251.12 267.83 267.55 268.34 265.06 268.86 266.78 269.37 259.32 269.89 268.19 270.41 265.15 270.92 263.06 271.44 267.42 271.95 267.32 272.47 265.11 272.98 272.57" fill="none" stroke="#2fca2f" stroke-width="0.85" stroke-linejoin="round" />
<path d="M56.9 284.6 57.42 282.6 57.93 281.51 58.45 282.16 58.96 285.23 59.48 282.69 59.99 280.25 60.51 280.72 61.03 281.95 61.54 283.51 62.06 280.57 62.57 282.92 63.09 284.06 63.6 283.35 64.12 278.99 64.64 281.37 65.15 279.55 65.67 282.72 66.18 279.98 66.7 282.96 67.21 282.1 67.73 276.98 68.25 280.31 68.76 282.77 69.28 281.96 69.79 281.16 70.31 279.45 70.82 282.74 71.34 285.17 71.86 282.34 72.37 281.77 72.89 281.58 73.4 279.24 73.92 281.18 74.43 280.22 74.95 283.93 75.47 280.11 75.98 277.73 76.5 280.3 77.01 281.3 77.53 281.5 78.04 278.33 78.56 283.59 79.08 282.01 79.59 280.9 80.11 280.35 80.62 282.64 81.14 281.2 81.65 282.33 82.17 281.56 82.69 282.05 83.2 284.01 83.72 281.84 84.23 280.1 84.75 283.67 85.26 282.26 85.78 280.51 86.3 283.87 86.81 281.44 87.33 283.85 87.84 279.6 88.36 277.31 88.87 277.88 89.39 282.22 89.91 280.36 90.42 281.56 90.94 281.6 91.45 278.8 91.97 284.35 92.48 279.75 93 281.89 93.52 279.07 94.03 281.43 94.55 283.1 95.06 281.26 95.58 280.37 96.09 281.73 96.61 280.85 97.13 282.81 97.64 285.93 98.16 280.05 98.67 280.44 99.19 281.51 99.7 281.66 100.22 279.79 100.74 282.68 101.25 283.16 101.77 282.16 102.28 279.49 102.8 284.48 103.31 279.49 103.83 283.03 104.35 283.93 104.86 279.35 105.38 281.98 105.89 284.31 106.41 282.49 106.92 279.99 107.44 279.48 107.96 282.62 108.47 281.01 108.99 280.41 109.5 283.04 110.02 281.11 110.53 281.86 111.05 282.83 111.57 282.75 112.08 281.67 112.6 281.74 113.11 282.89 113.63 282.62 114.14 279.64 114.66 281.38 115.18 280.08 115.69 279.47 116.21 280.65 116.72 277.39 117.24 283.39 117.75 280.23 118.27 282.41 118.79 278.2 119.3 278.5 119.82 285.58 120.33 283.67 120.85 280.51 121.36 280.26 121.88 280.37 122.4 281.93 122.91 280.91 123.43 280.53 123.94 281.95 124.46 279.8 124.97 286.17 125.49 280.57 126.01 283.8 126.52 279.94 127.04 282.24 127.55 283.52 128.07 281.07 128.58 283.56 129.1 283.56 129.62 284.83 130.13 281.85 130.65 280.83 131.16 279.81 131.68 282.07 132.19 279.76 132.71 281.76 133.23 281.98 133.74 280.68 134.26 279.74 134.77 282.46 135.29 282.27 135.8 282.11 136.32 281.63 136.84 283.54 137.35 279.8 137.87 282.57 138.38 280.9 138.9 283.39 139.41 281.1 139.93 281.04 140.45 282.61 140.96 277.88 141.48 281.08 141.99 278.35 142.51 279.94 143.02 283.08 143.54 282.54 144.06 280.95 144.57 281.68 145.09 281.7 145.6 282.35 146.12 285.3 146.63 282.23 147.15 286.09 147.67 281.07 148.18 283.2 148.7 283.18 149.21 282.22 149.73 281.27 150.24 284.57 150.76 285.18 151.28 283.86 151.79 285.75 152.31 283.67 152.82 278.71 153.34 283.84 153.85 280.53 154.37 284.45 154.89 281.22 155.4 282.41 155.92 281.91 156.43 280.69 156.95 278.39 157.46 281.42 157.98 281.55 158.5 283.68 159.01 280.66 159.53 282.27 160.04 280.18 160.56 281.88 161.07 278.42 161.59 285.64 162.11 282.37 162.62 280.09 163.14 282.47 163.65 283.33 164.17 282.31 164.68 284.47 165.2 281.56 165.72 277.07 166.23 279.58 166.75 283.94 167.26 283.49 167.78 282.58 168.29 279.85 168.81 283.39 169.33 283.13 169.84 280.08 170.36 280.12 170.87 282.52 171.39 283.96 171.9 284.8 172.42 283.15 172.94 286.12 173.45 280.34 173.97 283.02 174.48 280.86 175 278.17 175.51 279.52 176.03 284.03 176.55 280.11 177.06 279.55 177.58 283.24 178.09 283.64 178.61 282.01 179.12 284.9 179.64 278.94 180.16 286.46 180.67 283.94 181.19 282.32 181.7 282.24 182.22 281.47 182.73 281.27 183.25 282.21 183.77 279.59 184.28 285.94 184.8 281.8 185.31 283.18 185.83 281.54 186.34 281.37 186.86 283.56 187.38 283.04 187.89 280.26 188.41 281.12 188.92 283.11 189.44 277.84 189.95 277.32 190.47 284.63 190.99 281.21 191.5 276.93 192.02 280.28 192.53 281.37 193.05 282.2 193.56 282.84 194.08 282.21 194.6 282.86 195.11 280.35 195.63 282.57 196.14 282.65 196.66 284.12 197.17 281.89 197.69 283.53 198.21 282.15 198.72 279.78 199.24 281.09 199.75 280.82 200.27 281.1 200.78 281.68 201.3 282.04 201.82 282.39 202.33 280.32 202.85 283.9 203.36 279.2 203.88 281.73 204.39 283.25 204.91 282.74 205.43 283.11 205.94 281.48 206.46 283.19 206.97 279.58 207.49 283.31 208 286.2 208.52 283.21 209.04 285.69 209.55 281.87 210.07 279.74 210.58 280.54 211.1 284.39 211.61 283.27 212.13 278.35 212.65 281.18 213.16 281.79 213.68 279.75 214.19 277.04 214.71 279.28 215.22 281.52 215.74 281.11 216.26 280.6 216.77 282.98 217.29 283.85 217.8 281.69 218.32 283.63 218.83 281.91 219.35 281.61 219.87 277.26 220.38 283.44 220.9 282.03 221.41 282.11 221.93 280.95 222.44 279.77 222.96 282.75 223.48 283.39 223.99 284.97 224.51 283.59 225.02 280.76 225.54 281.71 226.05 283.76 226.57 282.52 227.09 281.73 227.6 280.82 228.12 282.94 228.63 282.28 229.15 285.32 229.66 284.03 230.18 278.66 230.7 286.04 231.21 282.45 231.73 281.37 232.24 282.52 232.76 283.36 233.27 281.91 233.79 281.8 234.31 281.95 234.82 285.43 235.34 282.08 235.85 283.45 236.37 282.86 236.88 281.36 237.4 280.55 237.92 280.06 238.43 282.76 238.95 280 239.46 279.52 239.98 279.59 240.49 279.1 241.01 282.08 241.53 282.13 242.04 280.2 242.56 284.44 243.07 281.39 243.59 282.82 244.1 282.51 244.62 285.17 245.14 283.52 245.65 281.83 246.17 280.07 246.68 279.88 247.2 281.95 247.71 282.16 248.23 283.4 248.75 281.02 249.26 282.27 249.78 280.62 250.29 278.4 250.81 281.86 251.32 284.7 251.84 283.46 252.36 284.62 252.87 284.11 253.39 279.27 253.9 281.36 254.42 284.74 254.93 280.53 255.45 279.35 255.97 282.49 256.48 283.11 257 282.45 257.51 281.24 258.03 280.55 258.54 279.5 259.06 279.45 259.58 279.5 260.09 279.16 260.61 280.51 261.12 284.76 261.64 282.05 262.15 281.19 262.67 282.54 263.19 280.03 263.7 282.49 264.22 283.59 264.73 279 265.25 280.5 265.76 281.37 266.28 280 266.8 279.74 267.31 281.13 267.83 286.56 268.34 283.1 268.86 282.68 269.37 283.7 269.89 281.41 270.41 279.48 270.92 282.73 271.44 283.99 271.95 277.86 272.47 282.67 272.98 284.18" fill="none" stroke="#f01414" stroke-width="0.85" stroke-linejoin="round" />
<path d="M56.9 332.2 57.42 331.4 57.93 332.94 58.45 334.59 58.96 333.42 59.48 334.86 59.99 332.04 60.51 328.61 61.03 333.52 61.54 333.86 62.06 330.89 62.57 331.25 63.09 331.92 63.6 334.69 64.12 332.28 64.64 330.34 65.15 335.8 65.67 333.43 66.18 337.29 66.7 335.65 67.21 337.13 67.73 332.83 68.25 335.59 68.76 331.47 69.28 331.78 69.79 332.7 70.31 338.94 70.82 333.64 71.34 332.33 71.86 331.9 72.37 336.3 72.89 333.48 73.4 334.82 73.92 334.37 74.43 329.36 74.95 334.36 75.47 332.29 75.98 329.83 76.5 333.76 77.01 332.5 77.53 331.91 78.04 332.03 78.56 335.48 79.08 332 79.59 328.56 80.11 336.34 80.62 329.9 81.14 331.88 81.65 333.92 82.17 326.85 82.69 330.16 83.2 335.41 83.72 332 84.23 330.66 84.75 332.71 85.26 330.37 85.78 332.38 86.3 330.41 86.81 328.35 87.33 334.01 87.84 331.66 88.36 333.44 88.87 331.86 89.39 335.38 89.91 333.75 90.42 332.73 90.94 329.79 91.45 329.13 91.97 335.74 92.48 334.33 93 330.47 93.52 337.54 94.03 333.44 94.55 332.46 95.06 328.84 95.58 330.36 96.09 333.08 96.61 333.19 97.13 332.87 97.64 328.12 98.16 333.35 98.67 333.01 99.19 331.26 99.7 332.52 100.22 332.73 100.74 335.18 101.25 332.23 101.77 333.39 102.28 329.08 102.8 330.45 103.31 332.27 103.83 330.41 104.35 333.11 104.86 329.38 105.38 332.22 105.89 330.64 106.41 335.66 106.92 331.27 107.44 336.72 107.96 337.65 108.47 333.02 108.99 334.61 109.5 331.76 110.02 326.19 110.53 334.43 111.05 333.87 111.57 331.65 112.08 330.88 112.6 332.67 113.11 332.75 113.63 330.32 114.14 330.81 114.66 334.97 115.18 332.41 115.69 332.11 116.21 335.02 116.72 331.51 117.24 334.5 117.75 329.6 118.27 331.69 118.79 331.96 119.3 333.78 119.82 332.52 120.33 337.55 120.85 335.23 121.36 331.23 121.88 337.9 122.4 329.93 122.91 336.88 123.43 330.18 123.94 334.47 124.46 330.12 124.97 331.85 125.49 336.32 126.01 328.86 126.52 328.34 127.04 332.38 127.55 332.93 128.07 332.63 128.58 334.81 129.1 329.26 129.62 333.65 130.13 332.34 130.65 334.33 131.16 333.88 131.68 335.62 132.19 328.84 132.71 332.61 133.23 329.61 133.74 332.17 134.26 334.06 134.77 333.08 135.29 333.7 135.8 332.18 136.32 333.21 136.84 333 137.35 335.89 137.87 334.36 138.38 327.77 138.9 334 139.41 335.02 139.93 331.3 140.45 328.43 140.96 336.09 141.48 332.76 141.99 333.89 142.51 336.92 143.02 330.23 143.54 332.26 144.06 332.01 144.57 334.22 145.09 330.98 145.6 333.65 146.12 332.58 146.63 335.17 147.15 335.46 147.67 328.63 148.18 333.56 148.7 331.42 149.21 332.29 149.73 333.38 150.24 333.56 150.76 330.51 151.28 333.01 151.79 332.61 152.31 332.14 152.82 329.05 153.34 330.38 153.85 331.18 154.37 333.71 154.89 335.9 155.4 329.66 155.92 329.61 156.43 332.58 156.95 330.75 157.46 330.11 157.98 329.98 158.5 329.73 159.01 333.42 159.53 328.14 160.04 335.54 160.56 329.89 161.07 330.88 161.59 329.86 162.11 327.17 162.62 328.23 163.14 335.27 163.65 336.72 164.17 330.01 164.68 334.92 165.2 332.23 165.72 329.95 166.23 336.6 166.75 337.85 167.26 331.51 167.78 332.08 168.29 332.86 168.81 332.1 169.33 334.51 169.84 336.25 170.36 332.65 170.87 334.8 171.39 336.6 171.9 330.85 172.42 332.37 172.94 331.11 173.45 334.85 173.97 333.96 174.48 334.88 175 334.58 175.51 331.68 176.03 334.3 176.55 331.25 177.06 331.29 177.58 326.78 178.09 335.93 178.61 329.82 179.12 332.44 179.64 332.24 180.16 336.08 180.67 333.43 181.19 330.21 181.7 332.42 182.22 331.98 182.73 332.98 183.25 329.11 183.77 332.26 184.28 338.09 184.8 334.05 185.31 337.47 185.83 339.6 186.34 333.62 186.86 328.63 187.38 332.08 187.89 335.34 188.41 334.72 188.92 329.17 189.44 331.78 189.95 332.07 190.47 332.34 190.99 332.1 191.5 330.04 192.02 330.72 192.53 331.62 193.05 334.99 193.56 330.83 194.08 334.03 194.6 329.27 195.11 335.6 195.63 332.57 196.14 332.22 196.66 335.75 197.17 327.59 197.69 328.29 198.21 333.44 198.72 330.13 199.24 331.19 199.75 339.2 200.27 331.53 200.78 332.37 201.3 331.98 201.82 335.08 202.33 332.92 202.85 332.68 203.36 329.02 203.88 331.31 204.39 332.22 204.91 328.11 205.43 333.69 205.94 333.24 206.46 337.07 206.97 328 207.49 329.62 208 329.75 208.52 330.41 209.04 331.91 209.55 331.62 210.07 332.88 210.58 332.75 211.1 332.06 211.61 328.15 212.13 330.71 212.65 332.36 213.16 333.75 213.68 333.9 214.19 327.91 214.71 330.84 215.22 332.02 215.74 333.13 216.26 335.17 216.77 332.38 217.29 329.86 217.8 333.25 218.32 332.81 218.83 332.79 219.35 331.91 219.87 336.47 220.38 332.83 220.9 334.49 221.41 329.83 221.93 334.26 222.44 330.66 222.96 328.12 223.48 333.04 223.99 333.81 224.51 331.69 225.02 332.21 225.54 334.86 226.05 330.97 226.57 326.8 227.09 332.89 227.6 332.74 228.12 335 228.63 331.35 229.15 335.54 229.66 335.17 230.18 328.77 230.7 334.63 231.21 329.31 231.73 328.12 232.24 331.51 232.76 330.72 233.27 326.97 233.79 332.73 234.31 333.79 234.82 335.82 235.34 332.09 235.85 328.24 236.37 329.63 236.88 334.72 237.4 334.49 237.92 333.55 238.43 331.42 238.95 332.75 239.46 331.63 239.98 331.41 240.49 333 241.01 332.31 241.53 331.65 242.04 332.43 242.56 330.85 243.07 327.19 243.59 330.62 244.1 332.05 244.62 336.72 245.14 331.16 245.65 337.41 246.17 335.97 246.68 329.91 247.2 330.31 247.71 332.6 248.23 336.78 248.75 333.2 249.26 334.02 249.78 330.5 250.29 326.16 250.81 331.62 251.32 334.29 251.84 335.34 252.36 332.35 252.87 332.67 253.39 335.28 253.9 331.89 254.42 335.28 254.93 329.22 255.45 329.36 255.97 329.3 256.48 333.47 257 330.82 257.51 332.55 258.03 333.24 258.54 333.11 259.06 335.68 259.58 336.07 260.09 330.07 260.61 332.71 261.12 331.62 261.64 329.52 262.15 336.84 262.67 334.3 263.19 331.73 263.7 331.15 264.22 333.21 264.73 329.45 265.25 331.64 265.76 335.45 266.28 334.69 266.8 330.04 267.31 330.96 267.83 337.29 268.34 328.59 268.86 330.6 269.37 328.6 269.89 333.23 270.41 332.99 270.92 335.22 271.44 325.41 271.95 332.67 272.47 327.95 272.98 333.93" fill="none" stroke="#000" stroke-width="0.95" stroke-linejoin="round" />
<line x1="57.4" y1="366.6" x2="57.4" y2="413.4" stroke="#1a1a1a" stroke-width="1.1" />
<line x1="57.4" y1="407.4" x2="60.4" y2="407.4" stroke="#1a1a1a" stroke-width="1.1" />
<line x1="57.4" y1="390.2" x2="60.4" y2="390.2" stroke="#1a1a1a" stroke-width="1.1" />
<line x1="57.4" y1="373" x2="60.4" y2="373" stroke="#1a1a1a" stroke-width="1.1" />
<line x1="57.4" y1="398.8" x2="59.2" y2="398.8" stroke="#1a1a1a" stroke-width="1.1" />
<line x1="57.4" y1="381.6" x2="59.2" y2="381.6" stroke="#1a1a1a" stroke-width="1.1" />
<line x1="57.4" y1="413.4" x2="275.3" y2="413.4" stroke="#1a1a1a" stroke-width="1.1" />
<line x1="57.4" y1="413.4" x2="57.4" y2="410.4" stroke="#1a1a1a" stroke-width="1.1" />
<line x1="130.03" y1="413.4" x2="130.03" y2="410.4" stroke="#1a1a1a" stroke-width="1.1" />
<line x1="202.67" y1="413.4" x2="202.67" y2="410.4" stroke="#1a1a1a" stroke-width="1.1" />
<line x1="275.3" y1="413.4" x2="275.3" y2="410.4" stroke="#1a1a1a" stroke-width="1.1" />
<line x1="93.72" y1="413.4" x2="93.72" y2="411.6" stroke="#1a1a1a" stroke-width="1.1" />
<line x1="166.35" y1="413.4" x2="166.35" y2="411.6" stroke="#1a1a1a" stroke-width="1.1" />
<line x1="238.98" y1="413.4" x2="238.98" y2="411.6" stroke="#1a1a1a" stroke-width="1.1" />
<line x1="57.4" y1="418" x2="57.4" y2="464.2" stroke="#1a1a1a" stroke-width="1.1" />
<line x1="57.4" y1="460.4" x2="60.4" y2="460.4" stroke="#1a1a1a" stroke-width="1.1" />
<line x1="57.4" y1="445.2" x2="60.4" y2="445.2" stroke="#1a1a1a" stroke-width="1.1" />
<line x1="57.4" y1="430" x2="60.4" y2="430" stroke="#1a1a1a" stroke-width="1.1" />
<line x1="57.4" y1="452.8" x2="59.2" y2="452.8" stroke="#1a1a1a" stroke-width="1.1" />
<line x1="57.4" y1="437.6" x2="59.2" y2="437.6" stroke="#1a1a1a" stroke-width="1.1" />
<line x1="57.4" y1="422.4" x2="59.2" y2="422.4" stroke="#1a1a1a" stroke-width="1.1" />
<line x1="57.4" y1="464.2" x2="275.3" y2="464.2" stroke="#1a1a1a" stroke-width="1.1" />
<line x1="57.4" y1="464.2" x2="57.4" y2="461.2" stroke="#1a1a1a" stroke-width="1.1" />
<line x1="130.03" y1="464.2" x2="130.03" y2="461.2" stroke="#1a1a1a" stroke-width="1.1" />
<line x1="202.67" y1="464.2" x2="202.67" y2="461.2" stroke="#1a1a1a" stroke-width="1.1" />
<line x1="275.3" y1="464.2" x2="275.3" y2="461.2" stroke="#1a1a1a" stroke-width="1.1" />
<line x1="93.72" y1="464.2" x2="93.72" y2="462.4" stroke="#1a1a1a" stroke-width="1.1" />
<line x1="166.35" y1="464.2" x2="166.35" y2="462.4" stroke="#1a1a1a" stroke-width="1.1" />
<line x1="238.98" y1="464.2" x2="238.98" y2="462.4" stroke="#1a1a1a" stroke-width="1.1" />
<path d="M57.9 402.2 58.26 400.48 58.63 399.19 58.99 393.51 59.35 406.8 59.72 399.7 60.08 395.74 60.44 393.52 60.81 388.74 61.17 380.73 61.53 383.11 61.89 381.96 62.26 384.59 62.62 388.42 62.98 387.33 63.35 381.35 63.71 386.31 64.07 389.75 64.44 392.25 64.8 396.76 65.16 392.6 65.53 399.01 65.89 403.05 66.25 405.42 66.62 394.87 66.98 393.3 67.34 382.99 67.71 391.64 68.07 386.77 68.43 385.21 68.8 385.04 69.16 387.93 69.52 379.39 69.88 391.45 70.25 380.45 70.61 392.38 70.97 400.57 71.34 405.54 71.7 406.83 72.06 396.31 72.43 388.14 72.79 378.1 73.15 390.65 73.52 379.6 73.88 391.68 74.24 382.87 74.61 395.17 74.97 388.61 75.33 386.41 75.7 386.21 76.06 383.86 76.42 390.54 76.78 386.13 77.15 385.95 77.51 386.88 77.87 381.02 78.24 390.67 78.6 398.54 78.96 406.85 79.33 402.02 79.69 390.16 80.05 391.45 80.42 386.27 80.78 380.85 81.14 393.51 81.51 395.89 81.87 397.55 82.23 390.62 82.6 381.67 82.96 396.09 83.32 398.39 83.68 402.19 84.05 393.59 84.41 385.86 84.77 382.18 85.14 391.27 85.5 383.87 85.86 386.92 86.23 393.77 86.59 394.55 86.95 401.24 87.32 396.37 87.68 403.65 88.04 402.15 88.41 394.49 88.77 392.85 89.13 393.03 89.5 390.9 89.86 384.78 90.22 385.13 90.59 390.99 90.95 385.73 91.31 383.23 91.67 384.4 92.04 388.93 92.4 390.37 92.76 387.31 93.13 384.22 93.49 385.63 93.85 390.94 94.22 397.58 94.58 406.08 94.94 407.59 95.31 398.02 95.67 399 96.03 396.74 96.4 399.4 96.76 396.18 97.12 399.43 97.49 399.85 97.85 400.33 98.21 392.9 98.57 391.4 98.94 392.96 99.3 384.53 99.66 384.98 100.03 391.31 100.39 379.46 100.75 390.21 101.12 386.84 101.48 385.68 101.84 392.52 102.21 383.91 102.57 386.57 102.93 380.86 103.3 390.54 103.66 383.76 104.02 388.3 104.39 386.64 104.75 384.47 105.11 395.12 105.47 393.66 105.84 399.67 106.2 395.46 106.56 395.67 106.93 395.46 107.29 401.64 107.65 401.26 108.02 401.82 108.38 398.04 108.74 399.2 109.11 384.29 109.47 379.36 109.83 397.55 110.2 399.45 110.56 402.78 110.92 408.52 111.29 399.31 111.65 401.77 112.01 399.53 112.38 396.21 112.74 395.26 113.1 402.56 113.46 398.96 113.83 400.52 114.19 402.89 114.55 401.26 114.92 399.7 115.28 394.65 115.64 390.8 116.01 383.95 116.37 383.8 116.73 382.47 117.1 389.66 117.46 388.11 117.82 384.4 118.19 391.17 118.55 390.63 118.91 391.87 119.28 387.05 119.64 386.32 120 388.59 120.36 388.7 120.73 404.03 121.09 396.75 121.45 393.79 121.82 396.24 122.18 407.41 122.54 395.4 122.91 395.77 123.27 396 123.63 392.4 124 392.33 124.36 394.33 124.72 402.06 125.09 399.76 125.45 403.99 125.81 404.31 126.18 399.54 126.54 401.48 126.9 408.17 127.26 400.73 127.63 395.99 127.99 394.93 128.35 387.28 128.72 394.43 129.08 401.16 129.44 399.78 129.81 395.93 130.17 396.47 130.53 402.04 130.9 396.04 131.26 399.15 131.62 396.5 131.99 395.95 132.35 404.55 132.71 399.24 133.08 406.51 133.44 401.05 133.8 394.81 134.16 379.39 134.53 389.41 134.89 387.6 135.25 387.79 135.62 387.83 135.98 400 136.34 404.03 136.71 400.88 137.07 397.05 137.43 400.51 137.8 408.07 138.16 400.69 138.52 391.96 138.89 377.28 139.25 383.85 139.61 387.03 139.98 385.38 140.34 390.85 140.7 386.76 141.07 386.3 141.43 382.6 141.79 392 142.15 397.17 142.52 394.69 142.88 394.9 143.24 389.14 143.61 383.82 143.97 386.53 144.33 397.73 144.7 399.79 145.06 403.24 145.42 402.94 145.79 389.22 146.15 382.83 146.51 379.5 146.88 389.43 147.24 395.4 147.6 387.77 147.97 391.1 148.33 387.37 148.69 383.46 149.05 393.31 149.42 398.78 149.78 390.84 150.14 396.09 150.51 391.46 150.87 386.4 151.23 393.25 151.6 385.36 151.96 385.38 152.32 384.43 152.69 399.63 153.05 390.16 153.41 387.95 153.78 384.91 154.14 389.18 154.5 388.68 154.87 384.86 155.23 387.05 155.59 392.35 155.96 383.59 156.32 392.22 156.68 397.91 157.04 395.74 157.41 399.79 157.77 405.08 158.13 400.97 158.5 407.4 158.86 402.09 159.22 400.54 159.59 402.13 159.95 403.89 160.31 405.08 160.68 400.05 161.04 398.91 161.4 404.67 161.77 392.4 162.13 393.77 162.49 399.14 162.86 397 163.22 398.64 163.58 401.85 163.94 396.38 164.31 406.4 164.67 402.84 165.03 398.94 165.4 402.59 165.76 399.33 166.12 389.07 166.49 378 166.85 393.33 167.21 396.69 167.58 397.53 167.94 400.36 168.3 399.59 168.67 390.33 169.03 383.82 169.39 391.08 169.76 383.11 170.12 384.64 170.48 386.25 170.84 389.04 171.21 393.69 171.57 388.68 171.93 393.63 172.3 396.89 172.66 403.93 173.02 401.53 173.39 390.35 173.75 384.06 174.11 387.58 174.48 388.66 174.84 387.31 175.2 384.08 175.57 386.19 175.93 387.63 176.29 389.85 176.66 387.21 177.02 392.34 177.38 382.62 177.75 387.14 178.11 386.04 178.47 386.14 178.83 386 179.2 388.53 179.56 388.66 179.92 386.76 180.29 390.99 180.65 395.91 181.01 402.21 181.38 400.9 181.74 391.19 182.1 401.28 182.47 392.35 182.83 402.28 183.19 396.06 183.56 409.7 183.92 401.59 184.28 399.01 184.65 383.44 185.01 396.03 185.37 391.28 185.73 404.92 186.1 405.48 186.46 402.2 186.82 401.39 187.19 402.12 187.55 399.16 187.91 404.31 188.28 398.48 188.64 406.29 189 399.59 189.37 394.52 189.73 401.4 190.09 396.26 190.46 391.92 190.82 390.82 191.18 381.8 191.55 390.42 191.91 390.74 192.27 383.02 192.63 385.7 193 380.84 193.36 393.41 193.72 391.03 194.09 386.31 194.45 397.79 194.81 399.28 195.18 398.3 195.54 393.55 195.9 396.6 196.27 397.39 196.63 384.52 196.99 382.53 197.36 393.17 197.72 405.42 198.08 392.4 198.45 404.37 198.81 399.91 199.17 403.4 199.54 400.85 199.9 398.15 200.26 395.58 200.62 398.23 200.99 408.8 201.35 397.87 201.71 388.47 202.08 386.7 202.44 386.84 202.8 386.46 203.17 386.64 203.53 386.57 203.89 389.54 204.26 399.52 204.62 400.9 204.98 400.68 205.35 405.41 205.71 397.34 206.07 391.11 206.44 383.53 206.8 393.95 207.16 398.54 207.52 397.41 207.89 396.64 208.25 397.59 208.61 396.82 208.98 397.11 209.34 397.1 209.7 401.23 210.07 404.91 210.43 395.92 210.79 389.76 211.16 387.15 211.52 391.42 211.88 391.58 212.25 385.21 212.61 383.79 212.97 383.49 213.34 391.58 213.7 384.4 214.06 394.03 214.42 396.77 214.79 400.81 215.15 402.25 215.51 402.17 215.88 401.35 216.24 397.49 216.6 396.23 216.97 387.55 217.33 384.09 217.69 389.3 218.06 388.1 218.42 386.42 218.78 388.43 219.15 387.07 219.51 387.4 219.87 381.63 220.24 389.07 220.6 383.9 220.96 388.77 221.33 390.16 221.69 394.87 222.05 397.44 222.41 403.52 222.78 404.03 223.14 407.76 223.5 401.8 223.87 402.79 224.23 404.45 224.59 398.89 224.96 388.47 225.32 402.56 225.68 402.58 226.05 402.21 226.41 398.7 226.77 407.07 227.14 402.7 227.5 391.25 227.86 391.79 228.23 392.33 228.59 398.37 228.95 398.04 229.31 391.04 229.68 384.96 230.04 396.19 230.4 396.28 230.77 392.64 231.13 386.44 231.49 386.8 231.86 387.64 232.22 393.21 232.58 385.64 232.95 381.22 233.31 385.54 233.67 388.23 234.04 386.18 234.4 386.29 234.76 386.97 235.13 388.55 235.49 381.44 235.85 389.38 236.21 393.85 236.58 405.09 236.94 410.84 237.3 404.85 237.67 400.77 238.03 401.11 238.39 403.5 238.76 405.91 239.12 397.58 239.48 391.91 239.85 389.74 240.21 388.43 240.57 389.9 240.94 381.25 241.3 395.3 241.66 401.59 242.03 404.08 242.39 399.67 242.75 390.31 243.12 382.08 243.48 389.6 243.84 396.29 244.2 404.68 244.57 402.45 244.93 395.09 245.29 398.21 245.66 401.06 246.02 399.95 246.38 404.11 246.75 398.55 247.11 399.1 247.47 398.28 247.84 402.16 248.2 399.4 248.56 401.71 248.93 403.54 249.29 402.67 249.65 404.03 250.02 399.49 250.38 407.04 250.74 401.49 251.1 394.44 251.47 398.11 251.83 396.04 252.19 384.56 252.56 386.91 252.92 387.59 253.28 387.28 253.65 391.43 254.01 387.52 254.37 379.49 254.74 386.06 255.1 394.58 255.46 401.66 255.83 401.8 256.19 401.31 256.55 396.8 256.92 393.53 257.28 389.18 257.64 385.23 258 389.26 258.37 387.39 258.73 392.55 259.09 392.13 259.46 390.48 259.82 386.32 260.18 390.5 260.55 386.96 260.91 388.95 261.27 388.84 261.64 388.32 262 388.98 262.36 387.88 262.73 396.75 263.09 381.75 263.45 395.16 263.82 388.36 264.18 383.91 264.54 399.3 264.9 396.3 265.27 405.21 265.63 390.28 265.99 388.53 266.36 381.78 266.72 396.49 267.08 399.8 267.45 398.94 267.81 401.58 268.17 404.91 268.54 400.75 268.9 399.23 269.26 384.72 269.63 385.44 269.99 384.02 270.35 387.71 270.72 383.45 271.08 387.39 271.44 383.22 271.81 384.06 272.17 384.01 272.53 391.33 272.89 392.81 273.26 409.56 273.62 396.36 273.98 396.05 274.35 389.3 274.71 391.43 275.07 391.44 275.44 394.37" fill="none" stroke="#f01414" stroke-width="0.85" stroke-linejoin="round" />
<path d="M57.9 381.26 58.26 376.96 58.63 382.89 58.99 385.13 59.35 373.38 59.72 380.75 60.08 380.87 60.44 389.28 60.81 399.72 61.17 390.23 61.53 392.14 61.89 400.35 62.26 391.98 62.62 396.5 62.98 390.07 63.35 400.38 63.71 401.11 64.07 391.88 64.44 384.87 64.8 377.83 65.16 378.46 65.53 382.8 65.89 385.01 66.25 381.91 66.62 387.2 66.98 395.13 67.34 399.05 67.71 402.45 68.07 395.58 68.43 395.7 68.8 383.45 69.16 392.76 69.52 395.16 69.88 387.9 70.25 395.5 70.61 388.61 70.97 385.2 71.34 370.79 71.7 379.91 72.06 389.48 72.43 391.54 72.79 394.46 73.15 391.12 73.52 395.32 73.88 399.3 74.24 395.96 74.61 394.43 74.97 392.81 75.33 400.19 75.7 399.83 76.06 388.97 76.42 397.23 76.78 393.18 77.15 391.87 77.51 391.36 77.87 387.3 78.24 388.23 78.6 386.52 78.96 382.61 79.33 387.77 79.69 386.56 80.05 388.42 80.42 389.76 80.78 390.65 81.14 392.15 81.51 382.65 81.87 383.61 82.23 387.97 82.6 392.83 82.96 389.43 83.32 379.59 83.68 386.5 84.05 390.56 84.41 397.2 84.77 395.08 85.14 399.49 85.5 390.29 85.86 402.53 86.23 394.9 86.59 378.64 86.95 386.33 87.32 381.07 87.68 383.78 88.04 389.67 88.41 383.66 88.77 385.88 89.13 398.49 89.5 391.09 89.86 398.35 90.22 402.05 90.59 390.91 90.95 397.93 91.31 385.34 91.67 401 92.04 390.58 92.4 392.47 92.76 399.65 93.13 402.89 93.49 392.7 93.85 391.77 94.22 386.28 94.58 374.37 94.94 377.26 95.31 386.85 95.67 388.33 96.03 380.44 96.4 386.55 96.76 381.89 97.12 379.61 97.49 385.03 97.85 378.22 98.21 382.4 98.57 383.8 98.94 397.03 99.3 393.63 99.66 395.95 100.03 392.89 100.39 398.21 100.75 390.68 101.12 389.3 101.48 395.4 101.84 396.55 102.21 389.33 102.57 395.9 102.93 406.24 103.3 399.21 103.66 394.47 104.02 389.26 104.39 399.09 104.75 396.46 105.11 387.89 105.47 383.34 105.84 381.86 106.2 385.35 106.56 387.61 106.93 379.59 107.29 380.69 107.65 389.27 108.02 375.27 108.38 384.09 108.74 385.98 109.11 393.99 109.47 391.39 109.83 385.14 110.2 388.22 110.56 377.84 110.92 386.36 111.29 372.81 111.65 377.21 112.01 375.35 112.38 384.24 112.74 386.84 113.1 376.81 113.46 377.62 113.83 380.8 114.19 380.68 114.55 374.74 114.92 378.02 115.28 387.08 115.64 387.18 116.01 397.97 116.37 395.78 116.73 388.89 117.1 390.93 117.46 393.91 117.82 399 118.19 391.54 118.55 389.45 118.91 393.19 119.28 401.49 119.64 400.91 120 401.01 120.36 392.05 120.73 380.74 121.09 381.14 121.45 386.22 121.82 387.52 122.18 379.53 122.54 383.95 122.91 387.99 123.27 377.57 123.63 390.97 124 388.98 124.36 384.27 124.72 378.35 125.09 391.26 125.45 375.67 125.81 375.03 126.18 376.5 126.54 375.77 126.9 372.82 127.26 380.22 127.63 383.24 127.99 390.77 128.35 394.72 128.72 389.93 129.08 378.8 129.44 386.54 129.81 388.17 130.17 385.54 130.53 388.98 130.9 383.32 131.26 378.54 131.62 380.37 131.99 383.03 132.35 372.51 132.71 374.86 133.08 378.03 133.44 382.36 133.8 389.38 134.16 396.63 134.53 392.67 134.89 400.03 135.25 396.21 135.62 387.85 135.98 379.89 136.34 385.65 136.71 376.59 137.07 380.2 137.43 377.75 137.8 375.62 138.16 379.74 138.52 387.7 138.89 398.23 139.25 390.43 139.61 398.73 139.98 398.59 140.34 389.19 140.7 394.53 141.07 400.73 141.43 397.31 141.79 387.51 142.15 389.68 142.52 389.19 142.88 394.16 143.24 401.28 143.61 395.84 143.97 391.77 144.33 374.77 144.7 387.07 145.06 374.5 145.42 383.24 145.79 392.69 146.15 389.91 146.51 396.05 146.88 393.57 147.24 401.63 147.6 394.66 147.97 402.67 148.33 386.71 148.69 397.32 149.05 390.56 149.42 389.76 149.78 385.73 150.14 396.08 150.51 389.54 150.87 398.61 151.23 391.26 151.6 399.39 151.96 399.27 152.32 383.22 152.69 392.93 153.05 393.42 153.41 395.36 153.78 399.99 154.14 398.02 154.5 394.7 154.87 396.58 155.23 391.92 155.59 395.68 155.96 390.58 156.32 387.01 156.68 386.11 157.04 383.09 157.41 383.83 157.77 380.24 158.13 373.47 158.5 381.55 158.86 380.58 159.22 392 159.59 386.53 159.95 390 160.31 371.87 160.68 382 161.04 383.53 161.4 386.67 161.77 376.97 162.13 396.34 162.49 384.7 162.86 370.93 163.22 383.51 163.58 382.06 163.94 378.04 164.31 385.74 164.67 382.42 165.03 378.43 165.4 382.82 165.76 381.02 166.12 391.75 166.49 394.97 166.85 390.93 167.21 383.09 167.58 385.33 167.94 383.67 168.3 397.13 168.67 389.69 169.03 396.09 169.39 395.88 169.76 405.08 170.12 398.51 170.48 391.17 170.84 397.42 171.21 392.32 171.57 393.7 171.93 386.13 172.3 386.51 172.66 373.7 173.02 386.79 173.39 378.53 173.75 384.31 174.11 392.5 174.48 399.06 174.84 393.41 175.2 391.84 175.57 397.72 175.93 391.79 176.29 390.32 176.66 393.44 177.02 391.18 177.38 392.59 177.75 401.99 178.11 398.11 178.47 385.64 178.83 395.17 179.2 392.66 179.56 389.24 179.92 396.24 180.29 390.88 180.65 387.23 181.01 380.55 181.38 377.01 181.74 383.89 182.1 390.95 182.47 386.96 182.83 385.41 183.19 382.88 183.56 382.79 183.92 381.04 184.28 383.45 184.65 387.48 185.01 395.54 185.37 386.32 185.73 378.07 186.1 387.5 186.46 383.46 186.82 381.72 187.19 376.81 187.55 381.87 187.91 386.03 188.28 385.37 188.64 380.65 189 381.83 189.37 385.13 189.73 379.84 190.09 389.94 190.46 393.39 190.82 396.41 191.18 395.21 191.55 402.49 191.91 393.16 192.27 398.51 192.63 398.22 193 396.36 193.36 394.22 193.72 389.54 194.09 393.69 194.45 389.79 194.81 386.33 195.18 386.8 195.54 387.02 195.9 390.83 196.27 391.87 196.63 394.74 196.99 395.89 197.36 385.13 197.72 384.56 198.08 381.59 198.45 376.75 198.81 380.62 199.17 387.35 199.54 383.96 199.9 382.21 200.26 379.3 200.62 380.35 200.99 370.43 201.35 390.87 201.71 389.76 202.08 397.34 202.44 401.22 202.8 394.47 203.17 390.27 203.53 393.51 203.89 390.62 204.26 380.81 204.62 384.35 204.98 372.97 205.35 379.24 205.71 387.18 206.07 387.57 206.44 388.91 206.8 386.12 207.16 380.35 207.52 392.64 207.89 381.72 208.25 378.61 208.61 376.2 208.98 385.12 209.34 382.1 209.7 382.14 210.07 384.36 210.43 381.46 210.79 391.94 211.16 390.53 211.52 386.42 211.88 402.49 212.25 392.71 212.61 399.81 212.97 399.26 213.34 396.41 213.7 396.39 214.06 386.5 214.42 389.57 214.79 375.97 215.15 374.53 215.51 381.05 215.88 387.29 216.24 385.8 216.6 399.81 216.97 392.91 217.33 392.79 217.69 394.07 218.06 385.8 218.42 393.58 218.78 395.21 219.15 384.63 219.51 403.79 219.87 399.98 220.24 393.72 220.6 398.29 220.96 391.39 221.33 393.21 221.69 380.69 222.05 372.13 222.41 379.89 222.78 381.24 223.14 376.96 223.5 380.71 223.87 385.32 224.23 382.94 224.59 383.22 224.96 388.26 225.32 375.69 225.68 380.29 226.05 385.96 226.41 382.54 226.77 384.36 227.14 378.29 227.5 389.49 227.86 384.7 228.23 388.76 228.59 378.54 228.95 388.45 229.31 394.17 229.68 391.18 230.04 391.04 230.4 382.9 230.77 382.72 231.13 387.76 231.49 388.91 231.86 393.3 232.22 388.63 232.58 398.78 232.95 395.09 233.31 395.32 233.67 393.61 234.04 397.34 234.4 396.49 234.76 390.87 235.13 399.37 235.49 399.38 235.85 393.79 236.21 380.7 236.58 382.76 236.94 377.11 237.3 380.64 237.67 383.37 238.03 376.29 238.39 384.34 238.76 379.66 239.12 389.04 239.48 387.61 239.85 389.27 240.21 398.69 240.57 394.47 240.94 407.76 241.3 400.01 241.66 388.59 242.03 379.9 242.39 378.7 242.75 386.56 243.12 394.44 243.48 389.05 243.84 388.14 244.2 386.7 244.57 383.47 244.93 372.61 245.29 394.2 245.66 376.84 246.02 373.74 246.38 374.09 246.75 385.99 247.11 385.73 247.47 381.67 247.84 369.97 248.2 383.7 248.56 380.82 248.93 379.35 249.29 377.42 249.65 380.82 250.02 386.28 250.38 390.66 250.74 379.35 251.1 374.22 251.47 383.39 251.83 388.23 252.19 387.95 252.56 399.9 252.92 392.72 253.28 396.95 253.65 393.27 254.01 396.86 254.37 387.84 254.74 399.76 255.1 394.68 255.46 388.72 255.83 372.59 256.19 383.72 256.55 385.6 256.92 391.23 257.28 397.3 257.64 390.56 258 397.22 258.37 391.11 258.73 394.4 259.09 395.84 259.46 400.83 259.82 392.85 260.18 393.93 260.55 390.16 260.91 399.81 261.27 400.29 261.64 403 262 396.73 262.36 391.27 262.73 395.28 263.09 399.74 263.45 395.19 263.82 393.29 264.18 396.87 264.54 384.69 264.9 386.07 265.27 383.76 265.63 393.27 265.99 383.94 266.36 392.61 266.72 390.31 267.08 387.99 267.45 379.73 267.81 372.89 268.17 381.89 268.54 383.68 268.9 398.06 269.26 395.62 269.63 403.06 269.99 401.31 270.35 394.87 270.72 394.55 271.08 405.24 271.44 394.64 271.81 393.32 272.17 398.33 272.53 389.55 272.89 389.14 273.26 385.63 273.62 391.51 273.98 388.13 274.35 391.38 274.71 394.99 275.07 399.12 275.44 392.16" fill="none" stroke="#2fca2f" stroke-width="0.85" stroke-linejoin="round" />
<path d="M57.9 457.33 58.26 452.43 58.63 453.43 58.99 453.8 59.35 454.4 59.72 454.71 60.08 448.34 60.44 441.52 60.81 432.5 61.17 436.78 61.53 430.37 61.89 435.62 62.26 432.51 62.62 435.58 62.98 436.02 63.35 429.53 63.71 436.2 64.07 438.96 64.44 444.2 64.8 449.9 65.16 449.7 65.53 455.25 65.89 453.18 66.25 458.69 66.62 448 66.98 440.25 67.34 430.19 67.71 437.3 68.07 433.6 68.43 434.46 68.8 438.23 69.16 435.38 69.52 436.07 69.88 441.95 70.25 440.45 70.61 447.46 70.97 457.09 71.34 459.65 71.7 451.62 72.06 448.24 72.43 439.26 72.79 431.3 73.15 436.8 73.52 433.01 73.88 436.01 74.24 435.5 74.61 435.56 74.97 435.32 75.33 432.15 75.7 434.97 76.06 435.76 76.42 436.11 76.78 434.35 77.15 437.87 77.51 436.75 77.87 435.47 78.24 443.77 78.6 449.34 78.96 457.58 79.33 450.13 79.69 445.21 80.05 440.88 80.42 435.47 80.78 429.08 81.14 441.24 81.51 449.25 81.87 448.14 82.23 441.29 82.6 438.14 82.96 449.05 83.32 449.86 83.68 451.51 84.05 440.18 84.41 438.18 84.77 430.14 85.14 436.26 85.5 435.49 85.86 432.69 86.23 438.58 86.59 452.17 86.95 456.83 87.32 459.82 87.68 455.45 88.04 456.13 88.41 449.99 88.77 444.11 89.13 436.42 89.5 437.45 89.86 433.81 90.22 431 90.59 440.82 90.95 435.65 91.31 436.51 91.67 433.92 92.04 438.03 92.4 435.74 92.76 438.28 93.13 433.33 93.49 435.04 93.85 442.62 94.22 447.94 94.58 456.54 94.94 460.27 95.31 454.14 95.67 455.02 96.03 456.28 96.4 453.03 96.76 452.37 97.12 458.95 97.49 458.07 97.85 451.43 98.21 444.96 98.57 444.26 98.94 438.69 99.3 437.14 99.66 436.74 100.03 439.83 100.39 435.23 100.75 438.97 101.12 438.77 101.48 432.71 101.84 437.27 102.21 435.52 102.57 433.53 102.93 433 103.3 436.28 103.66 435.19 104.02 437.67 104.39 430.34 104.75 433.47 105.11 445.3 105.47 448.99 105.84 453.81 106.2 454.47 106.56 450.63 106.93 451.93 107.29 457.38 107.65 456.09 108.02 459.49 108.38 455.13 108.74 448.57 109.11 434.46 109.47 435.04 109.83 448.13 110.2 450.92 110.56 455.52 110.92 459.42 111.29 458.31 111.65 456.88 112.01 454.87 112.38 456.31 112.74 458.37 113.1 453.6 113.46 457.38 113.83 457.26 114.19 459.77 114.55 458.08 114.92 453.98 115.28 453.61 115.64 442.36 116.01 433.27 116.37 436.39 116.73 434.64 117.1 438.5 117.46 438.43 117.82 439.02 118.19 441.49 118.55 440.32 118.91 438.3 119.28 432.54 119.64 430.44 120 434.47 120.36 438.61 120.73 450.73 121.09 449.54 121.45 449 121.82 447.79 122.18 460.2 122.54 453.16 122.91 445.23 123.27 445.43 123.63 439.18 124 441.16 124.36 450.86 124.72 462.3 125.09 453.54 125.45 455.4 125.81 457.2 126.18 449.82 126.54 455.44 126.9 457.99 127.26 455.55 127.63 451.96 127.99 444.33 128.35 434.22 128.72 443.74 129.08 450.29 129.44 451.08 129.81 453.39 130.17 453.55 130.53 454.33 130.9 454.46 131.26 451.69 131.62 455.9 131.99 450.55 132.35 458.55 132.71 456.57 133.08 459.77 133.44 449.98 133.8 440.68 134.16 431.18 134.53 437.21 134.89 435.3 135.25 436.34 135.62 444.27 135.98 452.39 136.34 455.67 136.71 460.78 137.07 455.52 137.43 455.78 137.8 457.71 138.16 451.88 138.52 446.11 138.89 429.99 139.25 439.14 139.61 430.88 139.98 433.61 140.34 436.36 140.7 438.62 141.07 432.35 141.43 430.39 141.79 437.98 142.15 443.01 142.52 439.16 142.88 441.2 143.24 429.62 143.61 436.94 143.97 440.61 144.33 452.57 144.7 449.87 145.06 457.92 145.42 455.29 145.79 442.52 146.15 435.72 146.51 429.86 146.88 436.29 147.24 435.36 147.6 433.63 147.97 430.8 148.33 435.5 148.69 432.36 149.05 440.68 149.42 449.84 149.78 448.78 150.14 442.08 150.51 437.93 150.87 431.86 151.23 439.27 151.6 431.98 151.96 432.6 152.32 442.43 152.69 444.34 153.05 442.81 153.41 433.97 153.78 433.2 154.14 434.5 154.5 432.49 154.87 436.91 155.23 434.65 155.59 439.79 155.96 433.14 156.32 441.72 156.68 450.18 157.04 452.53 157.41 453.87 157.77 462.3 158.13 455.73 158.5 459.99 158.86 452.8 159.22 448.75 159.59 457.32 159.95 455.63 160.31 456.56 160.68 454.84 161.04 454 161.4 452.17 161.77 451.81 162.13 444.52 162.49 451.65 162.86 455.05 163.22 452.54 163.58 453.81 163.94 458.51 164.31 457.84 164.67 457.16 165.03 455.99 165.4 452.57 165.76 452.68 166.12 440.83 166.49 433.58 166.85 440.57 167.21 447.67 167.58 451.51 167.94 454.45 168.3 446.56 168.67 440.55 169.03 430.21 169.39 440.73 169.76 431.67 170.12 436.06 170.48 436.12 170.84 438.08 171.21 440.65 171.57 436.41 171.93 444.12 172.3 447.59 172.66 460.04 173.02 451.76 173.39 448.22 173.75 442.87 174.11 437.34 174.48 437.56 174.84 438.54 175.2 436.87 175.57 435.3 175.93 435.83 176.29 439.35 176.66 436.08 177.02 437.87 177.38 434.86 177.75 430.01 178.11 433.54 178.47 436.21 178.83 439.95 179.2 439.35 179.56 440.13 179.92 433.25 180.29 444.34 180.65 448.82 181.01 457.61 181.38 455.58 181.74 445.01 182.1 444.11 182.47 443.13 182.83 451.3 183.19 453.35 183.56 458.76 183.92 452.23 184.28 446.11 184.65 439.33 185.01 440.82 185.37 441.68 185.73 458.68 186.1 453.13 186.46 455.12 186.82 458.98 187.19 456.63 187.55 456.5 187.91 457.81 188.28 450.34 188.64 461.27 189 454.75 189.37 454.9 189.73 457.49 190.09 448.57 190.46 439.66 190.82 434.88 191.18 434.13 191.55 433.35 191.91 441.11 192.27 431.11 192.63 428.83 193 432.52 193.36 432.43 193.72 439.33 194.09 435.66 194.45 444.47 194.81 450.67 195.18 453.08 195.54 451.29 195.9 442.53 196.27 440.76 196.63 435.77 196.99 435.06 197.36 444.17 197.72 451.05 198.08 450.46 198.45 459.29 198.81 458.83 199.17 458.15 199.54 452.42 199.9 449.85 200.26 454.89 200.62 457.88 200.99 457.06 201.35 445.97 201.71 444.76 202.08 431.18 202.44 431.28 202.8 435.12 203.17 433.48 203.53 433.18 203.89 437.73 204.26 452 204.62 452.47 204.98 456.91 205.35 458.03 205.71 448.71 206.07 442.77 206.44 438.13 206.8 446.71 207.16 451.68 207.52 451.7 207.89 450.25 208.25 453.99 208.61 452.46 208.98 457.31 209.34 456.06 209.7 455.03 210.07 458.92 210.43 451.82 210.79 441.88 211.16 436.23 211.52 438.35 211.88 434.22 212.25 436.07 212.61 432.41 212.97 435.33 213.34 436.18 213.7 434.96 214.06 442.65 214.42 450.9 214.79 456.99 215.15 453.7 215.51 454 215.88 445.33 216.24 446.99 216.6 436.44 216.97 436.5 217.33 434.83 217.69 436.61 218.06 436.78 218.42 433.09 218.78 434.81 219.15 438.64 219.51 431.52 219.87 432.48 220.24 436.96 220.6 432.95 220.96 437.42 221.33 438.95 221.69 449.62 222.05 458.13 222.41 456.9 222.78 458.02 223.14 455.29 223.5 455.34 223.87 455.74 224.23 450.59 224.59 452.59 224.96 441.9 225.32 454.4 225.68 455.14 226.05 452.62 226.41 455.06 226.77 456.95 227.14 456.35 227.5 449.38 227.86 443.73 228.23 443.82 228.59 451.63 228.95 445.61 229.31 442.2 229.68 432.59 230.04 442.87 230.4 448.79 230.77 449.49 231.13 440.84 231.49 432.96 231.86 434.64 232.22 437.24 232.58 437.54 232.95 430.59 233.31 436.12 233.67 436.15 234.04 431.14 234.4 432.22 234.76 433.8 235.13 436.46 235.49 428.61 235.85 441.04 236.21 447.44 236.58 456.33 236.94 459.87 237.3 459.64 237.67 454.68 238.03 454.72 238.39 456.52 238.76 459.18 239.12 453.11 239.48 443.09 239.85 439.47 240.21 432.76 240.57 432.03 240.94 427.26 241.3 439.66 241.66 450.69 242.03 458.32 242.39 458.84 242.75 443.86 243.12 435.82 243.48 439.4 243.84 447.26 244.2 454.16 244.57 455.23 244.93 453.96 245.29 451.71 245.66 458.87 246.02 457.14 246.38 459.8 246.75 451.23 247.11 452.14 247.47 453.7 247.84 459.26 248.2 455.35 248.56 456.51 248.93 455.61 249.29 456.38 249.65 454.36 250.02 456.97 250.38 453.4 250.74 455.15 251.1 456.68 251.47 449.32 251.83 443.42 252.19 433 252.56 436.09 252.92 434.48 253.28 436.44 253.65 439.55 254.01 432.74 254.37 438.34 254.74 433.38 255.1 440.96 255.46 453.72 255.83 458.53 256.19 457.31 256.55 451.34 256.92 445.53 257.28 433.21 257.64 436 258 434.22 258.37 436.55 258.73 434.45 259.09 437.46 259.46 435.4 259.82 433.66 260.18 435.19 260.55 436.62 260.91 438.42 261.27 434.84 261.64 434.34 262 436.06 262.36 437.51 262.73 433.77 263.09 428.25 263.45 436.18 263.82 434.36 264.18 434.24 264.54 449.47 264.9 448.65 265.27 457.85 265.63 445.05 265.99 442.88 266.36 437.54 266.72 442.78 267.08 448.53 267.45 457.44 267.81 455.99 268.17 459.7 268.54 456.48 268.9 446.79 269.26 436.55 269.63 433.31 269.99 434.54 270.35 431.95 270.72 432.42 271.08 430.58 271.44 432.23 271.81 435.66 272.17 434.58 272.53 441.65 272.89 448.14 273.26 455.27 273.62 451.23 273.98 448.16 274.35 437.23 274.71 441.09 275.07 435.13 275.44 443.67" fill="none" stroke="#000" stroke-width="0.95" stroke-linejoin="round" />
<line x1="57.4" y1="491" x2="57.4" y2="536.8" stroke="#1a1a1a" stroke-width="1.1" />
<line x1="57.4" y1="532.4" x2="60.4" y2="532.4" stroke="#1a1a1a" stroke-width="1.1" />
<line x1="57.4" y1="516.7" x2="60.4" y2="516.7" stroke="#1a1a1a" stroke-width="1.1" />
<line x1="57.4" y1="501" x2="60.4" y2="501" stroke="#1a1a1a" stroke-width="1.1" />
<line x1="57.4" y1="524.55" x2="59.2" y2="524.55" stroke="#1a1a1a" stroke-width="1.1" />
<line x1="57.4" y1="508.85" x2="59.2" y2="508.85" stroke="#1a1a1a" stroke-width="1.1" />
<line x1="57.4" y1="493.15" x2="59.2" y2="493.15" stroke="#1a1a1a" stroke-width="1.1" />
<line x1="57.4" y1="536.8" x2="275.3" y2="536.8" stroke="#1a1a1a" stroke-width="1.1" />
<line x1="57.4" y1="536.8" x2="57.4" y2="533.8" stroke="#1a1a1a" stroke-width="1.1" />
<line x1="130.03" y1="536.8" x2="130.03" y2="533.8" stroke="#1a1a1a" stroke-width="1.1" />
<line x1="202.67" y1="536.8" x2="202.67" y2="533.8" stroke="#1a1a1a" stroke-width="1.1" />
<line x1="275.3" y1="536.8" x2="275.3" y2="533.8" stroke="#1a1a1a" stroke-width="1.1" />
<line x1="93.72" y1="536.8" x2="93.72" y2="535" stroke="#1a1a1a" stroke-width="1.1" />
<line x1="166.35" y1="536.8" x2="166.35" y2="535" stroke="#1a1a1a" stroke-width="1.1" />
<line x1="238.98" y1="536.8" x2="238.98" y2="535" stroke="#1a1a1a" stroke-width="1.1" />
<line x1="57.4" y1="542" x2="57.4" y2="588" stroke="#1a1a1a" stroke-width="1.1" />
<line x1="57.4" y1="584.6" x2="60.4" y2="584.6" stroke="#1a1a1a" stroke-width="1.1" />
<line x1="57.4" y1="569" x2="60.4" y2="569" stroke="#1a1a1a" stroke-width="1.1" />
<line x1="57.4" y1="553.4" x2="60.4" y2="553.4" stroke="#1a1a1a" stroke-width="1.1" />
<line x1="57.4" y1="576.8" x2="59.2" y2="576.8" stroke="#1a1a1a" stroke-width="1.1" />
<line x1="57.4" y1="561.2" x2="59.2" y2="561.2" stroke="#1a1a1a" stroke-width="1.1" />
<line x1="57.4" y1="545.6" x2="59.2" y2="545.6" stroke="#1a1a1a" stroke-width="1.1" />
<line x1="57.4" y1="588" x2="275.3" y2="588" stroke="#1a1a1a" stroke-width="1.1" />
<line x1="57.4" y1="588" x2="57.4" y2="585" stroke="#1a1a1a" stroke-width="1.1" />
<line x1="130.03" y1="588" x2="130.03" y2="585" stroke="#1a1a1a" stroke-width="1.1" />
<line x1="202.67" y1="588" x2="202.67" y2="585" stroke="#1a1a1a" stroke-width="1.1" />
<line x1="275.3" y1="588" x2="275.3" y2="585" stroke="#1a1a1a" stroke-width="1.1" />
<line x1="93.72" y1="588" x2="93.72" y2="586.2" stroke="#1a1a1a" stroke-width="1.1" />
<line x1="166.35" y1="588" x2="166.35" y2="586.2" stroke="#1a1a1a" stroke-width="1.1" />
<line x1="238.98" y1="588" x2="238.98" y2="586.2" stroke="#1a1a1a" stroke-width="1.1" />
<path d="M57.9 520.29 58.26 512.61 58.63 519.63 58.99 512.86 59.35 511.92 59.72 511.09 60.08 509.17 60.44 519.26 60.81 527.12 61.17 528.29 61.53 520.51 61.89 518.66 62.26 522.28 62.62 510.2 62.98 507.16 63.35 511.42 63.71 509.5 64.07 524.78 64.44 530.81 64.8 526.53 65.16 531.22 65.53 525.74 65.89 528.2 66.25 525.57 66.62 523.4 66.98 511.08 67.34 508.73 67.71 510.79 68.07 504.11 68.43 513.7 68.8 513.02 69.16 513.92 69.52 512.71 69.88 506.1 70.25 525.57 70.61 513.36 70.97 514.39 71.34 507.3 71.7 515.44 72.06 509.42 72.43 509.19 72.79 513.14 73.15 520.86 73.52 514.54 73.88 517.11 74.24 509.02 74.61 521.56 74.97 504.45 75.33 512.01 75.7 512.71 76.06 513.16 76.42 523.7 76.78 522.31 77.15 519.04 77.51 524.45 77.87 514.17 78.24 523.82 78.6 522.22 78.96 514.06 79.33 535.23 79.69 521.49 80.05 522.2 80.42 526.75 80.78 523.27 81.14 527.58 81.51 519.79 81.87 526.07 82.23 518.16 82.6 505.56 82.96 517.95 83.32 511.79 83.68 510.33 84.05 508.5 84.41 526.21 84.77 516 85.14 527.02 85.5 528.56 85.86 513.95 86.23 510.91 86.59 527.57 86.95 516.37 87.32 516.08 87.68 515.7 88.04 511.5 88.41 516.17 88.77 511.6 89.13 516.25 89.5 503.47 89.86 514.24 90.22 521.67 90.59 514.12 90.95 513.85 91.31 509.98 91.67 513.47 92.04 507.7 92.4 513.54 92.76 514.95 93.13 512.62 93.49 511.23 93.85 512.57 94.22 507.96 94.58 513.53 94.94 518.16 95.31 517.1 95.67 515.19 96.03 513.46 96.4 520.65 96.76 519.72 97.12 512.55 97.49 518.11 97.85 515.6 98.21 507.17 98.57 506.77 98.94 514.76 99.3 509.13 99.66 503.13 100.03 521.1 100.39 506.11 100.75 521.09 101.12 510.11 101.48 519.52 101.84 513.31 102.21 522.13 102.57 520.08 102.93 511.83 103.3 514.44 103.66 514.45 104.02 512.21 104.39 522.23 104.75 503.44 105.11 516.72 105.47 512.27 105.84 507.39 106.2 516.94 106.56 509.02 106.93 516.35 107.29 516.95 107.65 512.36 108.02 514.3 108.38 517.43 108.74 521.1 109.11 527.72 109.47 524.58 109.83 522.27 110.2 525.61 110.56 526.15 110.92 525.47 111.29 529.08 111.65 531.68 112.01 511.79 112.38 519.39 112.74 524.75 113.1 530.55 113.46 523.37 113.83 527.85 114.19 525.5 114.55 527.05 114.92 525.13 115.28 529.99 115.64 526.47 116.01 523.09 116.37 514.64 116.73 508.29 117.1 510.57 117.46 511.3 117.82 514.01 118.19 515.78 118.55 516.18 118.91 516.34 119.28 506.17 119.64 519.47 120 515.16 120.36 512.49 120.73 512.77 121.09 518.47 121.45 519.68 121.82 516.03 122.18 520.38 122.54 513.08 122.91 516.15 123.27 514.97 123.63 512.92 124 518.9 124.36 511.17 124.72 519.51 125.09 510.49 125.45 516.01 125.81 509.73 126.18 516.72 126.54 515.28 126.9 515.21 127.26 511.34 127.63 509.76 127.99 504.36 128.35 513.3 128.72 510.54 129.08 517.26 129.44 523.82 129.81 508.26 130.17 514.53 130.53 523.68 130.9 528.29 131.26 509.67 131.62 515.23 131.99 522.85 132.35 504.04 132.71 511 133.08 517.78 133.44 509.88 133.8 514.23 134.16 502.6 134.53 515.15 134.89 515.3 135.25 512.07 135.62 520.6 135.98 510.15 136.34 521.54 136.71 519.67 137.07 509.39 137.43 509.91 137.8 510.69 138.16 513.23 138.52 502.51 138.89 517.55 139.25 513.73 139.61 512.63 139.98 518.24 140.34 510.08 140.7 514.28 141.07 514.14 141.43 521.34 141.79 515 142.15 521.95 142.52 510.05 142.88 519.37 143.24 506.81 143.61 500.99 143.97 506.46 144.33 515.5 144.7 522.59 145.06 511.11 145.42 514.05 145.79 507.54 146.15 513.89 146.51 510.33 146.88 518.28 147.24 515.49 147.6 523.05 147.97 518.8 148.33 512.34 148.69 511.27 149.05 518.89 149.42 510.63 149.78 518.3 150.14 512.91 150.51 520.97 150.87 518.74 151.23 515.78 151.6 518.13 151.96 521.34 152.32 509.06 152.69 516.74 153.05 514.5 153.41 511.04 153.78 518.35 154.14 507.56 154.5 515.68 154.87 512.58 155.23 504.1 155.59 511.01 155.96 518.06 156.32 509.25 156.68 517.23 157.04 514.82 157.41 506.79 157.77 524.7 158.13 505.02 158.5 520.73 158.86 518.58 159.22 527.3 159.59 530.08 159.95 524.26 160.31 525.18 160.68 522.75 161.04 525.56 161.4 525.41 161.77 525.41 162.13 526.92 162.49 528.18 162.86 530.33 163.22 528.09 163.58 523.9 163.94 520.79 164.31 530.36 164.67 517.28 165.03 506.02 165.4 517.52 165.76 513.3 166.12 520.83 166.49 527.89 166.85 511.59 167.21 510.37 167.58 510.43 167.94 513.43 168.3 522.16 168.67 511.61 169.03 512.08 169.39 518.2 169.76 520.42 170.12 508.11 170.48 513.22 170.84 514.9 171.21 512.83 171.57 512.01 171.93 514.69 172.3 510.29 172.66 504.46 173.02 514 173.39 516.27 173.75 513.25 174.11 515.59 174.48 513.46 174.84 515.95 175.2 516.61 175.57 522.27 175.93 531.01 176.29 515.61 176.66 522.06 177.02 517.19 177.38 506.88 177.75 514.66 178.11 520.23 178.47 526.16 178.83 510.51 179.2 514.66 179.56 510.32 179.92 514.59 180.29 512.85 180.65 515.52 181.01 509.22 181.38 511.1 181.74 516.57 182.1 516.19 182.47 509.92 182.83 518.23 183.19 514.52 183.56 512.79 183.92 508.06 184.28 519.69 184.65 515.24 185.01 513.53 185.37 519.51 185.73 511.74 186.1 502.9 186.46 516.18 186.82 518.78 187.19 515.1 187.55 513.16 187.91 522.18 188.28 514.26 188.64 516.89 189 510.4 189.37 506.46 189.73 502.84 190.09 511.81 190.46 514.42 190.82 515.5 191.18 509.68 191.55 515.43 191.91 514.51 192.27 505.45 192.63 508.31 193 522.77 193.36 532.14 193.72 524.23 194.09 521.41 194.45 521.07 194.81 524.64 195.18 528.97 195.54 525.68 195.9 528.93 196.27 529.19 196.63 521.79 196.99 514.57 197.36 515.31 197.72 526.38 198.08 522.71 198.45 522.9 198.81 506.12 199.17 515.67 199.54 521.78 199.9 523.04 200.26 521.25 200.62 515.14 200.99 508.49 201.35 511.52 201.71 508.41 202.08 513.65 202.44 509.39 202.8 516.33 203.17 513.73 203.53 512.68 203.89 512.04 204.26 508.02 204.62 515.46 204.98 514.91 205.35 517.05 205.71 514.96 206.07 506.6 206.44 512.54 206.8 516.06 207.16 509.76 207.52 511.17 207.89 516.1 208.25 524.1 208.61 509.69 208.98 514.58 209.34 522.19 209.7 532.1 210.07 528.4 210.43 520.52 210.79 527.96 211.16 529.81 211.52 524.52 211.88 530.88 212.25 523.3 212.61 522.02 212.97 528.32 213.34 528.29 213.7 524.42 214.06 522.01 214.42 527.63 214.79 517.81 215.15 512.23 215.51 520.3 215.88 512.78 216.24 511.3 216.6 510.59 216.97 507.48 217.33 515.07 217.69 504.14 218.06 510.09 218.42 511.21 218.78 513.72 219.15 512 219.51 504.17 219.87 511.96 220.24 510.74 220.6 515.83 220.96 512.86 221.33 508.55 221.69 511.2 222.05 518.87 222.41 512.28 222.78 517.32 223.14 531.35 223.5 522.34 223.87 527.5 224.23 523.75 224.59 520.51 224.96 515.86 225.32 521.58 225.68 528.53 226.05 514.7 226.41 528.64 226.77 527.42 227.14 526.7 227.5 523.53 227.86 515.31 228.23 509.39 228.59 513.74 228.95 515.76 229.31 515.06 229.68 514.88 230.04 508.75 230.4 510.33 230.77 510.61 231.13 519.79 231.49 516.93 231.86 519.69 232.22 510.71 232.58 517.88 232.95 509.59 233.31 510.62 233.67 514.61 234.04 508.32 234.4 523.86 234.76 516.84 235.13 515.6 235.49 513.49 235.85 515 236.21 520.96 236.58 507.45 236.94 514.44 237.3 514.11 237.67 516.25 238.03 519.67 238.39 518.08 238.76 509.46 239.12 518.49 239.48 509.51 239.85 514.15 240.21 512.69 240.57 510.24 240.94 515.73 241.3 521.47 241.66 515.88 242.03 504.58 242.39 517.24 242.75 522.5 243.12 525.36 243.48 532.59 243.84 524.35 244.2 525.82 244.57 527.61 244.93 526.95 245.29 518.24 245.66 514.3 246.02 513.1 246.38 511.96 246.75 523.86 247.11 513.95 247.47 523.79 247.84 530.02 248.2 525.72 248.56 526.11 248.93 521.67 249.29 517.13 249.65 515.54 250.02 520.28 250.38 516.61 250.74 506.87 251.1 523.72 251.47 532.08 251.83 525.86 252.19 522.84 252.56 523.53 252.92 520.74 253.28 527.01 253.65 527.29 254.01 521.66 254.37 516.78 254.74 523.83 255.1 509.8 255.46 518.58 255.83 506.75 256.19 506.96 256.55 504.42 256.92 510.87 257.28 516.65 257.64 511.63 258 519.19 258.37 515.37 258.73 516.49 259.09 515.88 259.46 504.8 259.82 508.42 260.18 511.01 260.55 505.56 260.91 502.43 261.27 517.27 261.64 512.8 262 515.96 262.36 514.9 262.73 519.1 263.09 515.55 263.45 521.79 263.82 515.87 264.18 513.15 264.54 509.96 264.9 510.5 265.27 509.74 265.63 511.95 265.99 513.71 266.36 511.4 266.72 518.64 267.08 513.72 267.45 509.38 267.81 508.39 268.17 520.98 268.54 518.8 268.9 525.51 269.26 535.8 269.63 526.53 269.99 521.36 270.35 524.62 270.72 518.29 271.08 523.42 271.44 526.38 271.81 523.99 272.17 518.86 272.53 510.63 272.89 513.9 273.26 523.55 273.62 513.24 273.98 516.42 274.35 515.67 274.71 524.41 275.07 517.7 275.44 511.54" fill="none" stroke="#f01414" stroke-width="0.85" stroke-linejoin="round" />
<path d="M57.9 514.71 58.26 531.71 58.63 519.93 58.99 525.37 59.35 519.97 59.72 520.99 60.08 521.54 60.44 513.35 60.81 510.01 61.17 512.34 61.53 506.72 61.89 510.66 62.26 513.81 62.62 526.59 62.98 519.77 63.35 523.15 63.71 524.27 64.07 515.12 64.44 512.39 64.8 511.82 65.16 507.13 65.53 507.79 65.89 512.53 66.25 512.94 66.62 520.26 66.98 523.34 67.34 519.06 67.71 518.17 68.07 521.57 68.43 528.01 68.8 527.06 69.16 519.75 69.52 530.35 69.88 525.52 70.25 518.45 70.61 525.37 70.97 514.6 71.34 529.44 71.7 521.28 72.06 528.49 72.43 522.32 72.79 522.12 73.15 521.22 73.52 524.51 73.88 521.83 74.24 519.06 74.61 508.38 74.97 521.19 75.33 520.89 75.7 521.95 76.06 520.77 76.42 507.54 76.78 520.03 77.15 520.95 77.51 520.76 77.87 514.5 78.24 520.54 78.6 498.98 78.96 510.79 79.33 498.65 79.69 501.08 80.05 515.41 80.42 514.14 80.78 509.12 81.14 514.66 81.51 511.67 81.87 505.29 82.23 520.5 82.6 527.74 82.96 521.8 83.32 520.21 83.68 527.86 84.05 523.8 84.41 513.4 84.77 506.62 85.14 508.34 85.5 512.64 85.86 517.44 86.23 528.27 86.59 520.57 86.95 516.95 87.32 528.08 87.68 520.63 88.04 525.74 88.41 525.41 88.77 518.12 89.13 523.93 89.5 524.11 89.86 521.79 90.22 520.29 90.59 513.15 90.95 527.74 91.31 520.4 91.67 522.44 92.04 517.28 92.4 523.75 92.76 532.65 93.13 514.53 93.49 527.47 93.85 520.19 94.22 528.92 94.58 522.12 94.94 522.28 95.31 519.85 95.67 517.43 96.03 522.9 96.4 519.81 96.76 523.16 97.12 522.08 97.49 515.26 97.85 516.84 98.21 522.71 98.57 523.29 98.94 523.31 99.3 519.47 99.66 527.33 100.03 515.38 100.39 519.12 100.75 513.84 101.12 523.47 101.48 517.79 101.84 528.56 102.21 513.89 102.57 512.96 102.93 523.63 103.3 522.09 103.66 509.54 104.02 512.53 104.39 523.17 104.75 523.57 105.11 516.8 105.47 526.51 105.84 524.64 106.2 524.46 106.56 514.77 106.93 522.93 107.29 515.28 107.65 526.11 108.02 523.48 108.38 520.71 108.74 517.05 109.11 519.11 109.47 512.27 109.83 506.9 110.2 515.99 110.56 513.49 110.92 510.55 111.29 514.36 111.65 515.85 112.01 523.88 112.38 523.79 112.74 520.93 113.1 510.72 113.46 514.51 113.83 511.1 114.19 511.52 114.55 520.14 114.92 507.17 115.28 502.64 115.64 502.7 116.01 516.26 116.37 514.12 116.73 521.31 117.1 524.18 117.46 525.37 117.82 523.04 118.19 517.2 118.55 519.03 118.91 522.41 119.28 524.91 119.64 524.33 120 521.83 120.36 514.15 120.73 526.12 121.09 523.43 121.45 522.38 121.82 522.92 122.18 519.61 122.54 518.84 122.91 527.19 123.27 524.8 123.63 515.91 124 522.84 124.36 520.33 124.72 521.17 125.09 522.74 125.45 518.46 125.81 526.99 126.18 524.48 126.54 520 126.9 517.79 127.26 524.52 127.63 517.19 127.99 521.44 128.35 524.86 128.72 523 129.08 523.95 129.44 517.43 129.81 521.03 130.17 528.09 130.53 523.86 130.9 511.63 131.26 522.85 131.62 520.73 131.99 520.61 132.35 520.72 132.71 527.29 133.08 518.56 133.44 525.12 133.8 520.52 134.16 517.91 134.53 527 134.89 522.2 135.25 525.83 135.62 521.98 135.98 521.5 136.34 524.15 136.71 527.42 137.07 521.8 137.43 519.7 137.8 521.44 138.16 527.22 138.52 514.6 138.89 517.27 139.25 520.63 139.61 527.73 139.98 520.63 140.34 521.2 140.7 526.02 141.07 516.34 141.43 520.53 141.79 517.46 142.15 525.45 142.52 525.13 142.88 524.89 143.24 521.74 143.61 525.56 143.97 525.26 144.33 519.11 144.7 513.86 145.06 513.98 145.42 522.33 145.79 527.94 146.15 524.94 146.51 515.1 146.88 524.06 147.24 522.99 147.6 522.31 147.97 518.99 148.33 520.07 148.69 525.67 149.05 523.45 149.42 517.67 149.78 518.8 150.14 516.94 150.51 521.42 150.87 521.82 151.23 523.83 151.6 519.1 151.96 523.72 152.32 523.19 152.69 531.7 153.05 519.52 153.41 525.03 153.78 525.36 154.14 519.23 154.5 524.28 154.87 523.9 155.23 524.57 155.59 525.37 155.96 518.36 156.32 524.67 156.68 519.99 157.04 526.53 157.41 524.38 157.77 521.58 158.13 525.82 158.5 517.63 158.86 512.23 159.22 503.68 159.59 510.75 159.95 512.23 160.31 515.47 160.68 500.51 161.04 499.09 161.4 510.22 161.77 503.09 162.13 509.32 162.49 508.56 162.86 505.65 163.22 512.47 163.58 509.27 163.94 511.55 164.31 505.97 164.67 517.57 165.03 530.26 165.4 525.35 165.76 513.87 166.12 519.85 166.49 513.28 166.85 528.32 167.21 518.84 167.58 522.56 167.94 520.51 168.3 514.9 168.67 509.11 169.03 523.53 169.39 525.36 169.76 517.83 170.12 521.57 170.48 516.12 170.84 523.16 171.21 525.1 171.57 522 171.93 518.99 172.3 518.01 172.66 518.15 173.02 529.3 173.39 525.68 173.75 521.62 174.11 522.18 174.48 523.3 174.84 518.23 175.2 515.64 175.57 512.3 175.93 505.16 176.29 506.88 176.66 522.45 177.02 513.92 177.38 525.36 177.75 521.71 178.11 523.49 178.47 521.96 178.83 530.11 179.2 527.62 179.56 523.26 179.92 525.47 180.29 520.72 180.65 523.5 181.01 523.89 181.38 516.67 181.74 517 182.1 521.22 182.47 518.61 182.83 518.72 183.19 518.28 183.56 525.21 183.92 519.53 184.28 514.7 184.65 521.1 185.01 525.01 185.37 527.69 185.73 522.62 186.1 521.6 186.46 520.24 186.82 521.98 187.19 521.35 187.55 517.46 187.91 522.37 188.28 518.5 188.64 520.17 189 525.77 189.37 521.35 189.73 523.4 190.09 526.35 190.46 529.18 190.82 527.6 191.18 519.73 191.55 524.94 191.91 523.13 192.27 527.9 192.63 523.47 193 514.43 193.36 516.76 193.72 520.18 194.09 512.96 194.45 512.12 194.81 512.38 195.18 506.07 195.54 511.71 195.9 505.49 196.27 514.93 196.63 514.82 196.99 517.26 197.36 515.84 197.72 508.12 198.08 522.82 198.45 512.75 198.81 523.44 199.17 530.23 199.54 510.57 199.9 508.88 200.26 510.67 200.62 518.37 200.99 522.36 201.35 526.4 201.71 526.19 202.08 513.66 202.44 520.52 202.8 519.99 203.17 520.12 203.53 516.86 203.89 520.2 204.26 515.35 204.62 508.92 204.98 526.08 205.35 523.49 205.71 523.65 206.07 527.17 206.44 518.7 206.8 526.59 207.16 524.57 207.52 528.65 207.89 518.2 208.25 522.22 208.61 520.65 208.98 518.29 209.34 514.33 209.7 510.41 210.07 509.44 210.43 517.02 210.79 513.45 211.16 513.42 211.52 506.54 211.88 507.46 212.25 516.75 212.61 507.27 212.97 510.76 213.34 505.95 213.7 513.28 214.06 519.32 214.42 515.89 214.79 518.76 215.15 523.55 215.51 523.62 215.88 518.55 216.24 527.38 216.6 521.21 216.97 522.93 217.33 530.94 217.69 521.7 218.06 525.82 218.42 530.8 218.78 529.51 219.15 520.26 219.51 517.77 219.87 523.88 220.24 516.27 220.6 518.58 220.96 517.33 221.33 518.38 221.69 523.74 222.05 524.02 222.41 518.72 222.78 510.94 223.14 508.13 223.5 514.3 223.87 509.7 224.23 512.19 224.59 513.14 224.96 521.81 225.32 510.91 225.68 505.77 226.05 512.95 226.41 506.77 226.77 508.41 227.14 520.06 227.5 514.7 227.86 514.9 228.23 517.95 228.59 516.33 228.95 527.57 229.31 522.51 229.68 516.63 230.04 518.59 230.4 517.37 230.77 523.41 231.13 523.67 231.49 525.76 231.86 516.33 232.22 525.09 232.58 517.22 232.95 517.04 233.31 516.32 233.67 528.89 234.04 524.79 234.4 516.42 234.76 525.56 235.13 525.27 235.49 525.51 235.85 513.86 236.21 519.61 236.58 520.68 236.94 521.25 237.3 520.24 237.67 521.38 238.03 520.6 238.39 516.37 238.76 513.48 239.12 525.94 239.48 518.84 239.85 521.21 240.21 513.27 240.57 522.11 240.94 520.77 241.3 515.83 241.66 523.16 242.03 520.83 242.39 518.88 242.75 510.91 243.12 516.24 243.48 512.06 243.84 511.6 244.2 512.31 244.57 515.4 244.93 514.73 245.29 510 245.66 521.85 246.02 516.15 246.38 526.53 246.75 521.75 247.11 522.1 247.47 523.52 247.84 508.01 248.2 515.91 248.56 518.66 248.93 512.6 249.29 516.09 249.65 512.73 250.02 519.75 250.38 525.58 250.74 521.04 251.1 520.06 251.47 508.7 251.83 514.34 252.19 512.58 252.56 504.63 252.92 513.5 253.28 522.76 253.65 514.9 254.01 517.2 254.37 512.69 254.74 528.03 255.1 527.1 255.46 518.73 255.83 530.43 256.19 523.06 256.55 520.28 256.92 522.92 257.28 521.14 257.64 523.77 258 524.14 258.37 521.64 258.73 521.78 259.09 519.22 259.46 520.96 259.82 524.77 260.18 522.58 260.55 516.08 260.91 531.19 261.27 524.06 261.64 520.79 262 527.45 262.36 527.51 262.73 516.88 263.09 521.76 263.45 518.04 263.82 517.51 264.18 520.69 264.54 530.32 264.9 520.57 265.27 526.45 265.63 519.59 265.99 521.42 266.36 526.71 266.72 521.7 267.08 517.33 267.45 516.94 267.81 525.51 268.17 513.2 268.54 514.25 268.9 507.24 269.26 510.56 269.63 512.05 269.99 508.88 270.35 511.24 270.72 512.29 271.08 511.38 271.44 507.19 271.81 513.41 272.17 519.88 272.53 524.85 272.89 522.57 273.26 520.96 273.62 526.85 273.98 525.42 274.35 522.75 274.71 517.28 275.07 524.99 275.44 522.64" fill="none" stroke="#2fca2f" stroke-width="0.85" stroke-linejoin="round" />
<path d="M57.9 574.52 58.26 557.43 58.63 565.36 58.99 560.84 59.35 560.54 59.72 562.51 60.08 559.2 60.44 571.47 60.81 581.47 61.17 572.83 61.53 576.35 61.89 574.83 62.26 569.08 62.62 556.49 62.98 557.1 63.35 555.66 63.71 561.39 64.07 579.54 64.44 577.93 64.8 578.96 65.16 586.55 65.53 583.41 65.89 578.72 66.25 576.68 66.62 571.13 66.98 555.9 67.34 555.41 67.71 561.03 68.07 554.94 68.43 553.85 68.8 558.12 69.16 562.91 69.52 554.79 69.88 560.2 70.25 560.9 70.61 559.26 70.97 561.43 71.34 556.09 71.7 557.07 72.06 555.6 72.43 557.72 72.79 562.27 73.15 560.17 73.52 556.74 73.88 560.99 74.24 559.52 74.61 570 74.97 561.58 75.33 555.83 75.7 557.16 76.06 559.73 76.42 569.96 76.78 577.34 77.15 575.98 77.51 576.22 77.87 570.2 78.24 567.76 78.6 575.95 78.96 576.21 79.33 586.55 79.69 581.7 80.05 581.32 80.42 569.96 80.78 568.6 81.14 575.7 81.51 576.7 81.87 579.17 82.23 569.12 82.6 553.81 82.96 561.67 83.32 558.63 83.68 554.45 84.05 558.49 84.41 575.97 84.77 577.51 85.14 580.03 85.5 579.12 85.86 565.71 86.23 558.08 86.59 570.07 86.95 566.24 87.32 558.2 87.68 559.29 88.04 558.64 88.41 558.8 88.77 560.77 89.13 561.16 89.5 559.56 89.86 562.8 90.22 563.81 90.59 555.33 90.95 560.43 91.31 559.72 91.67 560.09 92.04 559.56 92.4 559.56 92.76 559.42 93.13 562.31 93.49 556.55 93.85 561.93 94.22 556.21 94.58 566 94.94 563.16 95.31 556.35 95.67 560.13 96.03 561.86 96.4 558.4 96.76 563.11 97.12 559.39 97.49 566.98 97.85 561.14 98.21 561.79 98.57 557.85 98.94 556.74 99.3 562.47 99.66 554.31 100.03 561.6 100.39 566.46 100.75 567.53 101.12 554.54 101.48 559.93 101.84 561.79 102.21 562.12 102.57 572.82 102.93 564.71 103.3 559.92 103.66 563.26 104.02 569.85 104.39 567.43 104.75 556.84 105.11 560.86 105.47 560.43 105.84 554.44 106.2 560.51 106.56 555.79 106.93 559.66 107.29 562.13 107.65 557.96 108.02 561.63 108.38 555.57 108.74 566.01 109.11 578.54 109.47 576.73 109.83 576.88 110.2 579.66 110.56 575.78 110.92 579.5 111.29 576.71 111.65 572.35 112.01 559.3 112.38 558.26 112.74 571.81 113.1 580.12 113.46 580.51 113.83 576.33 114.19 581.13 114.55 577.29 114.92 573.68 115.28 577.55 115.64 584.08 116.01 578.32 116.37 565.73 116.73 560.57 117.1 555.94 117.46 557.57 117.82 558.22 118.19 560.48 118.55 561.31 118.91 560.46 119.28 559.4 119.64 557.88 120 558.22 120.36 560.61 120.73 559.39 121.09 558.32 121.45 564.99 121.82 562.15 122.18 562.25 122.54 560.28 122.91 560.51 123.27 560.45 123.63 562.49 124 557.37 124.36 558.67 124.72 565.04 125.09 559.55 125.45 563.33 125.81 553.95 126.18 561.1 126.54 560.9 126.9 559.31 127.26 560.25 127.63 559.78 127.99 554.46 128.35 558.84 128.72 556.82 129.08 555.85 129.44 562.82 129.81 553.98 130.17 557.3 130.53 565.96 130.9 572 131.26 556.87 131.62 558.21 131.99 561.36 132.35 552.01 132.71 557.7 133.08 560.37 133.44 558.94 133.8 556.56 134.16 555.83 134.53 557.65 134.89 555.54 135.25 554.7 135.62 563.67 135.98 561.19 136.34 562.69 136.71 559.25 137.07 554.79 137.43 557.41 137.8 563.04 138.16 560.55 138.52 556.16 138.89 561.34 139.25 559.89 139.61 558.56 139.98 565.61 140.34 556.99 140.7 558.44 141.07 557.69 141.43 562.82 141.79 562.12 142.15 561.55 142.52 558.74 142.88 559.34 143.24 559.15 143.61 553.63 143.97 555.25 144.33 561.96 144.7 571.3 145.06 563.44 145.42 560.62 145.79 555 146.15 554.27 146.51 561.37 146.88 560.47 147.24 559.3 147.6 562.44 147.97 562.82 148.33 560.9 148.69 556.75 149.05 561.06 149.42 560.26 149.78 561.12 150.14 564.1 150.51 554.65 150.87 567.34 151.23 561.74 151.6 557.72 151.96 564.2 152.32 557.57 152.69 555.42 153.05 562.42 153.41 558.88 153.78 563.26 154.14 557.89 154.5 559.28 154.87 558.86 155.23 555.05 155.59 558.01 155.96 555.11 156.32 557.47 156.68 563.55 157.04 558.71 157.41 557.95 157.77 564.37 158.13 555.16 158.5 568.91 158.86 577.47 159.22 581.66 159.59 578.45 159.95 577.69 160.31 579.77 160.68 578.42 161.04 585.71 161.4 574.17 161.77 582.38 162.13 585.92 162.49 581.87 162.86 581.45 163.22 576.89 163.58 581.72 163.94 577.75 164.31 581.87 164.67 561.82 165.03 557.77 165.4 553.09 165.76 562.94 166.12 566.93 166.49 572.31 166.85 557.66 167.21 557.33 167.58 564.87 167.94 572.91 168.3 573.01 168.67 564.57 169.03 562.01 169.39 562.77 169.76 564.38 170.12 559.26 170.48 557.78 170.84 563.95 171.21 561.44 171.57 559.57 171.93 560.36 172.3 561.92 172.66 556.91 173.02 556.79 173.39 557.34 173.75 560.29 174.11 553.01 174.48 553.83 174.84 570.49 175.2 579.11 175.57 574.77 175.93 581.36 176.29 567.84 176.66 559.45 177.02 561.94 177.38 560.37 177.75 564.82 178.11 561.41 178.47 566.22 178.83 552.05 179.2 554.62 179.56 555.54 179.92 558.61 180.29 556.3 180.65 555.39 181.01 556.24 181.38 556.57 181.74 562.64 182.1 558.19 182.47 561.39 182.83 563.53 183.19 563.4 183.56 558.2 183.92 556.13 184.28 564.16 184.65 553.84 185.01 554.75 185.37 560.89 185.73 561.16 186.1 559.87 186.46 556.37 186.82 560.9 187.19 563.3 187.55 558.49 187.91 566.48 188.28 559.17 188.64 555.79 189 558.62 189.37 557.05 189.73 558 190.09 557.22 190.46 559.16 190.82 562.39 191.18 560.38 191.55 559.88 191.91 555.47 192.27 554.25 192.63 558.25 193 571.69 193.36 581.17 193.72 579.37 194.09 574.15 194.45 577.64 194.81 578.93 195.18 581.29 195.54 575.82 195.9 577.79 196.27 578.92 196.63 568.85 196.99 554.05 197.36 569.73 197.72 573.15 198.08 574.63 198.45 569.02 198.81 556.71 199.17 560.05 199.54 571.94 199.9 579.64 200.26 572.2 200.62 557.94 200.99 559.59 201.35 557.76 201.71 556.9 202.08 569.98 202.44 558.61 202.8 565.61 203.17 559.09 203.53 562.55 203.89 559.29 204.26 555.11 204.62 565.3 204.98 559.01 205.35 559.9 205.71 565.91 206.07 557.49 206.44 559.53 206.8 561.33 207.16 562.03 207.52 548.99 207.89 560.95 208.25 565.61 208.61 562.73 208.98 560.86 209.34 570.47 209.7 579.01 210.07 582.22 210.43 576.95 210.79 580.35 211.16 583.26 211.52 581.45 211.88 580.03 212.25 575.94 212.61 577.14 212.97 579.87 213.34 578.68 213.7 578.04 214.06 571.99 214.42 580.8 214.79 567.65 215.15 557.23 215.51 562.8 215.88 559.01 216.24 559.1 216.6 561.2 216.97 557.76 217.33 556.23 217.69 555.89 218.06 560.28 218.42 559.01 218.78 551.85 219.15 563.3 219.51 558.9 219.87 556.69 220.24 559.14 220.6 557.47 220.96 559.07 221.33 557.14 221.69 555.39 222.05 560.37 222.41 558.99 222.78 569.38 223.14 580.09 223.5 578.82 223.87 582.5 224.23 576.28 224.59 573.11 224.96 573.1 225.32 574.52 225.68 581.95 226.05 573.71 226.41 581.12 226.77 578.93 227.14 572.63 227.5 582.3 227.86 566.41 228.23 558.71 228.59 560.14 228.95 562.54 229.31 558.24 229.68 561.18 230.04 556.17 230.4 555.58 230.77 564.21 231.13 561.31 231.49 560.7 231.86 563.56 232.22 563.35 232.58 559.35 232.95 560.33 233.31 565.12 233.67 561.42 234.04 557.92 234.4 563.64 234.76 562.7 235.13 554.38 235.49 555.27 235.85 565.01 236.21 564.12 236.58 558.39 236.94 563.59 237.3 560.48 237.67 561.14 238.03 557.78 238.39 568.02 238.76 566.94 239.12 563.7 239.48 556.28 239.85 560.15 240.21 565.3 240.57 558.01 240.94 557.29 241.3 560.46 241.66 560.74 242.03 558.19 242.39 565.19 242.75 578.24 243.12 576.98 243.48 578.91 243.84 580.01 244.2 581.79 244.57 577.9 244.93 579.75 245.29 570 245.66 556.56 246.02 558.02 246.38 556.76 246.75 564.86 247.11 557.79 247.47 571.15 247.84 581.43 248.2 581.57 248.56 574.73 248.93 576.01 249.29 571.57 249.65 563.41 250.02 559.59 250.38 561.16 250.74 554.14 251.1 574.04 251.47 584.82 251.83 579.6 252.19 578.71 252.56 578.31 252.92 576.25 253.28 571.88 253.65 579.88 254.01 571 254.37 565.47 254.74 558.83 255.1 556.81 255.46 560.5 255.83 555.73 256.19 559.54 256.55 554.62 256.92 558.54 257.28 563.14 257.64 561.75 258 564.72 258.37 565.4 258.73 558.76 259.09 556.76 259.46 553.16 259.82 559.82 260.18 560.43 260.55 563.32 260.91 556.37 261.27 558.35 261.64 561.61 262 557.36 262.36 557.78 262.73 565.84 263.09 566.73 263.45 578.3 263.82 570.49 264.18 561.02 264.54 553.84 264.9 554.55 265.27 553.59 265.63 563.45 265.99 561.81 266.36 556.64 266.72 563.65 267.08 562.03 267.45 565.62 267.81 553.5 268.17 565.67 268.54 577.23 268.9 578.02 269.26 580.13 269.63 580.07 269.99 576.71 270.35 581.11 270.72 574.68 271.08 580.38 271.44 581.65 271.81 564.89 272.17 560.12 272.53 557.8 272.89 561.02 273.26 567.1 273.62 557.83 273.98 564.1 274.35 556.05 274.71 564.78 275.07 565.82 275.44 558.62" fill="none" stroke="#000" stroke-width="0.95" stroke-linejoin="round" />
<path d="M104.7 161.5L215.5 161.5L69.6 212Q40 204 28 190.8Z" fill="url(#beamL)"/>
<path d="M249.5 161.5L138.7 161.5L284.6 212Q314.2 204 326.2 190.8Z" fill="url(#beamR)"/>
<rect x="30.7" y="9" width="298.2" height="142.5" fill="url(#abg)"/>
<rect x="25.6" y="151.4" width="313.8" height="9.8" fill="#bee3ec" stroke="#2a2a2a" stroke-width="1.2"/>
<ellipse cx="39.6" cy="147.9" rx="4.8" ry="3.1" fill="#c98b5e" stroke="#6e4a30" stroke-width="0.5"/>
<path d="M35.4 136.2L43.8 142.8M43.8 136.2L35.4 142.8" stroke="#ffc80a" stroke-width="2.3"/>
<ellipse cx="39.6" cy="143" rx="2.4" ry="2.1" fill="#252830"/>
<ellipse cx="53.4" cy="147.9" rx="4.8" ry="3.1" fill="#c98b5e" stroke="#6e4a30" stroke-width="0.5"/>
<path d="M49.2 136.2L57.6 142.8M57.6 136.2L49.2 142.8" stroke="#ffc80a" stroke-width="2.3"/>
<ellipse cx="53.4" cy="143" rx="2.4" ry="2.1" fill="#252830"/>
<ellipse cx="65.7" cy="147.9" rx="4.8" ry="3.1" fill="#c98b5e" stroke="#6e4a30" stroke-width="0.5"/>
<path d="M61.5 136.2L69.9 142.8M69.9 136.2L61.5 142.8" stroke="#ffc80a" stroke-width="2.3"/>
<ellipse cx="65.7" cy="143" rx="2.4" ry="2.1" fill="#252830"/>
<ellipse cx="79.4" cy="147.9" rx="4.8" ry="3.1" fill="#c98b5e" stroke="#6e4a30" stroke-width="0.5"/>
<path d="M75.2 136.2L83.6 142.8M83.6 136.2L75.2 142.8" stroke="#ffc80a" stroke-width="2.3"/>
<ellipse cx="79.4" cy="143" rx="2.4" ry="2.1" fill="#252830"/>
<ellipse cx="93.5" cy="147.9" rx="4.8" ry="3.1" fill="#c98b5e" stroke="#6e4a30" stroke-width="0.5"/>
<path d="M89.3 136.2L97.7 142.8M97.7 136.2L89.3 142.8" stroke="#ffc80a" stroke-width="2.3"/>
<ellipse cx="93.5" cy="143" rx="2.4" ry="2.1" fill="#252830"/>
<ellipse cx="107.4" cy="147.9" rx="4.8" ry="3.1" fill="#c98b5e" stroke="#6e4a30" stroke-width="0.5"/>
<path d="M103.2 136.2L111.6 142.8M111.6 136.2L103.2 142.8" stroke="#ffc80a" stroke-width="2.3"/>
<ellipse cx="107.4" cy="143" rx="2.4" ry="2.1" fill="#252830"/>
<ellipse cx="121.3" cy="147.9" rx="4.8" ry="3.1" fill="#c98b5e" stroke="#6e4a30" stroke-width="0.5"/>
<path d="M117.1 136.2L125.5 142.8M125.5 136.2L117.1 142.8" stroke="#ffc80a" stroke-width="2.3"/>
<ellipse cx="121.3" cy="143" rx="2.4" ry="2.1" fill="#252830"/>
<ellipse cx="135.5" cy="147.9" rx="4.8" ry="3.1" fill="#c98b5e" stroke="#6e4a30" stroke-width="0.5"/>
<path d="M131.3 136.2L139.7 142.8M139.7 136.2L131.3 142.8" stroke="#ffc80a" stroke-width="2.3"/>
<ellipse cx="135.5" cy="143" rx="2.4" ry="2.1" fill="#252830"/>
<ellipse cx="149.5" cy="147.9" rx="4.8" ry="3.1" fill="#c98b5e" stroke="#6e4a30" stroke-width="0.5"/>
<path d="M145.3 136.2L153.7 142.8M153.7 136.2L145.3 142.8" stroke="#ffc80a" stroke-width="2.3"/>
<ellipse cx="149.5" cy="143" rx="2.4" ry="2.1" fill="#252830"/>
<ellipse cx="163.7" cy="147.9" rx="4.8" ry="3.1" fill="#c98b5e" stroke="#6e4a30" stroke-width="0.5"/>
<path d="M159.5 136.2L167.9 142.8M167.9 136.2L159.5 142.8" stroke="#ffc80a" stroke-width="2.3"/>
<ellipse cx="163.7" cy="143" rx="2.4" ry="2.1" fill="#252830"/>
<ellipse cx="178" cy="147.9" rx="4.8" ry="3.1" fill="#c98b5e" stroke="#6e4a30" stroke-width="0.5"/>
<path d="M173.8 136.2L182.2 142.8M182.2 136.2L173.8 142.8" stroke="#ffc80a" stroke-width="2.3"/>
<ellipse cx="178" cy="143" rx="2.4" ry="2.1" fill="#252830"/>
<ellipse cx="192.1" cy="147.9" rx="4.8" ry="3.1" fill="#c98b5e" stroke="#6e4a30" stroke-width="0.5"/>
<path d="M187.9 136.2L196.3 142.8M196.3 136.2L187.9 142.8" stroke="#ffc80a" stroke-width="2.3"/>
<ellipse cx="192.1" cy="143" rx="2.4" ry="2.1" fill="#252830"/>
<ellipse cx="206.1" cy="147.9" rx="4.8" ry="3.1" fill="#c98b5e" stroke="#6e4a30" stroke-width="0.5"/>
<path d="M201.9 136.2L210.3 142.8M210.3 136.2L201.9 142.8" stroke="#ffc80a" stroke-width="2.3"/>
<ellipse cx="206.1" cy="143" rx="2.4" ry="2.1" fill="#252830"/>
<ellipse cx="220.1" cy="147.9" rx="4.8" ry="3.1" fill="#c98b5e" stroke="#6e4a30" stroke-width="0.5"/>
<path d="M215.9 136.2L224.3 142.8M224.3 136.2L215.9 142.8" stroke="#ffc80a" stroke-width="2.3"/>
<ellipse cx="220.1" cy="143" rx="2.4" ry="2.1" fill="#252830"/>
<ellipse cx="234.2" cy="147.9" rx="4.8" ry="3.1" fill="#c98b5e" stroke="#6e4a30" stroke-width="0.5"/>
<path d="M230 136.2L238.4 142.8M238.4 136.2L230 142.8" stroke="#ffc80a" stroke-width="2.3"/>
<ellipse cx="234.2" cy="143" rx="2.4" ry="2.1" fill="#252830"/>
<ellipse cx="248.2" cy="147.9" rx="4.8" ry="3.1" fill="#c98b5e" stroke="#6e4a30" stroke-width="0.5"/>
<path d="M244 136.2L252.4 142.8M252.4 136.2L244 142.8" stroke="#ffc80a" stroke-width="2.3"/>
<ellipse cx="248.2" cy="143" rx="2.4" ry="2.1" fill="#252830"/>
<ellipse cx="262.3" cy="147.9" rx="4.8" ry="3.1" fill="#c98b5e" stroke="#6e4a30" stroke-width="0.5"/>
<path d="M258.1 136.2L266.5 142.8M266.5 136.2L258.1 142.8" stroke="#ffc80a" stroke-width="2.3"/>
<ellipse cx="262.3" cy="143" rx="2.4" ry="2.1" fill="#252830"/>
<ellipse cx="276.3" cy="147.9" rx="4.8" ry="3.1" fill="#c98b5e" stroke="#6e4a30" stroke-width="0.5"/>
<path d="M272.1 136.2L280.5 142.8M280.5 136.2L272.1 142.8" stroke="#ffc80a" stroke-width="2.3"/>
<ellipse cx="276.3" cy="143" rx="2.4" ry="2.1" fill="#252830"/>
<ellipse cx="290" cy="147.9" rx="4.8" ry="3.1" fill="#c98b5e" stroke="#6e4a30" stroke-width="0.5"/>
<path d="M285.8 136.2L294.2 142.8M294.2 136.2L285.8 142.8" stroke="#ffc80a" stroke-width="2.3"/>
<ellipse cx="290" cy="143" rx="2.4" ry="2.1" fill="#252830"/>
<ellipse cx="303.8" cy="147.9" rx="4.8" ry="3.1" fill="#c98b5e" stroke="#6e4a30" stroke-width="0.5"/>
<path d="M299.6 136.2L308 142.8M308 136.2L299.6 142.8" stroke="#ffc80a" stroke-width="2.3"/>
<ellipse cx="303.8" cy="143" rx="2.4" ry="2.1" fill="#252830"/>
<ellipse cx="317.7" cy="147.9" rx="4.8" ry="3.1" fill="#c98b5e" stroke="#6e4a30" stroke-width="0.5"/>
<path d="M313.5 136.2L321.9 142.8M321.9 136.2L313.5 142.8" stroke="#ffc80a" stroke-width="2.3"/>
<ellipse cx="317.7" cy="143" rx="2.4" ry="2.1" fill="#252830"/>
<line x1="94.3" y1="112" x2="93.7" y2="135" stroke="#00a651" stroke-width="2.4" />
<ellipse cx="93.7" cy="135.8" rx="2.4" ry="2.1" fill="#252830"/>
<g transform="translate(109.5 30.4) rotate(11.5)"><path d="M-4.2 32L-4.2 0A4.2 4.2 0 0 1 4.2 0L4.2 22.6" fill="none" stroke="#a5a5a5" stroke-width="1.9"/><line x1="-4.2" y1="3.6" x2="4.2" y2="3.6" stroke="#a5a5a5" stroke-width="2.2"/><line x1="-4.2" y1="7.6" x2="4.2" y2="7.6" stroke="#a5a5a5" stroke-width="2.2"/><line x1="-4.2" y1="11.6" x2="4.2" y2="11.6" stroke="#a5a5a5" stroke-width="2.2"/><line x1="-4.2" y1="15.6" x2="4.2" y2="15.6" stroke="#a5a5a5" stroke-width="2.2"/><line x1="-4.2" y1="19.6" x2="4.2" y2="19.6" stroke="#a5a5a5" stroke-width="2.2"/><line x1="-4.2" y1="31.6" x2="-4.2" y2="88.5" stroke="#00a651" stroke-width="2.1"/><line x1="4.2" y1="32.2" x2="4.2" y2="55.2" stroke="#00a651" stroke-width="2.1"/><line x1="-4.2" y1="33.2" x2="4.2" y2="33.2" stroke="#00a651" stroke-width="2.4"/><line x1="-4.2" y1="37.2" x2="4.2" y2="37.2" stroke="#00a651" stroke-width="2.4"/><line x1="-4.2" y1="41.2" x2="4.2" y2="41.2" stroke="#00a651" stroke-width="2.4"/><line x1="-4.2" y1="45.2" x2="4.2" y2="45.2" stroke="#00a651" stroke-width="2.4"/><line x1="-4.2" y1="49.2" x2="4.2" y2="49.2" stroke="#00a651" stroke-width="2.4"/><line x1="-4.2" y1="53.2" x2="4.2" y2="53.2" stroke="#00a651" stroke-width="2.4"/><line x1="4.2" y1="71.2" x2="4.2" y2="88.5" stroke="#00a651" stroke-width="2.1"/><line x1="-4.2" y1="73" x2="4.2" y2="73" stroke="#00a651" stroke-width="2.4"/><line x1="-4.2" y1="77" x2="4.2" y2="77" stroke="#00a651" stroke-width="2.4"/><line x1="-4.2" y1="81" x2="4.2" y2="81" stroke="#00a651" stroke-width="2.4"/><line x1="-4.2" y1="85" x2="4.2" y2="85" stroke="#00a651" stroke-width="2.4"/></g><path d="M100.8 86.5C106 86.5 108.6 90 108.4 93.4C108.2 97.5 103.5 100.8 97.9 100.8" fill="none" stroke="#f47b20" stroke-width="1.9"/><g transform="translate(124.1 29.5) rotate(-13)"><path d="M-4.4 25L-4.4 0A4.4 4.4 0 0 1 4.4 0L4.4 30.5" fill="none" stroke="#e6007e" stroke-width="1.9"/><line x1="-4.4" y1="3.4" x2="4.4" y2="3.4" stroke="#e6007e" stroke-width="2.2"/><line x1="-4.4" y1="7.2" x2="4.4" y2="7.2" stroke="#e6007e" stroke-width="2.2"/><line x1="-4.4" y1="11" x2="4.4" y2="11" stroke="#e6007e" stroke-width="2.2"/><line x1="-4.4" y1="14.8" x2="4.4" y2="14.8" stroke="#e6007e" stroke-width="2.2"/><line x1="-4.4" y1="18.6" x2="4.4" y2="18.6" stroke="#e6007e" stroke-width="2.2"/><line x1="-4.4" y1="22.4" x2="4.4" y2="22.4" stroke="#e6007e" stroke-width="2.2"/><line x1="4.4" y1="30.3" x2="4.4" y2="55" stroke="#00aeef" stroke-width="1.9"/><line x1="-4.4" y1="35" x2="-4.4" y2="55" stroke="#00aeef" stroke-width="1.9"/><line x1="-4.4" y1="38.5" x2="4.4" y2="38.5" stroke="#00aeef" stroke-width="2.3"/><line x1="-4.4" y1="42.5" x2="4.4" y2="42.5" stroke="#00aeef" stroke-width="2.3"/><line x1="-4.4" y1="46.5" x2="4.4" y2="46.5" stroke="#00aeef" stroke-width="2.3"/><line x1="-4.4" y1="50.5" x2="4.4" y2="50.5" stroke="#00aeef" stroke-width="2.3"/><line x1="-4.4" y1="54" x2="4.4" y2="54" stroke="#00aeef" stroke-width="2.3"/><line x1="-4.4" y1="72.5" x2="-4.4" y2="92.5" stroke="#00aeef" stroke-width="2.0"/><line x1="4.4" y1="72.5" x2="4.4" y2="92.5" stroke="#00aeef" stroke-width="2.0"/><line x1="-4.4" y1="73.5" x2="4.4" y2="73.5" stroke="#00aeef" stroke-width="2.3"/><line x1="-4.4" y1="77.5" x2="4.4" y2="77.5" stroke="#00aeef" stroke-width="2.3"/><line x1="-4.4" y1="81.5" x2="4.4" y2="81.5" stroke="#00aeef" stroke-width="2.3"/><line x1="-4.4" y1="85.5" x2="4.4" y2="85.5" stroke="#00aeef" stroke-width="2.3"/><line x1="-4.4" y1="89.5" x2="4.4" y2="89.5" stroke="#00aeef" stroke-width="2.3"/></g><path d="M108.6 52.8L127.2 63.3M125.7 54.4L106.4 63.1" stroke="#1a1a1a" stroke-width="1.9"/><path d="M132.3 85.6C128.5 87.5 126.3 90.5 126.6 93.6C127 97.5 131 100.8 136.1 100.8" fill="none" stroke="#ffc20e" stroke-width="1.9"/><path d="M139.9 84.1C145 85.5 147.6 89 147.5 92.3C147.4 95.6 145.8 98.6 143.7 99.9" fill="none" stroke="#ffc20e" stroke-width="1.9"/><path d="M127.5 89.8L122.3 90.2L122.5 91.6L127.4 92.4Z" fill="#ffc20e"/>
<path d="M80.3 108.01L81.77 115.56L88.14 110.25L84.02 117.45L92.92 117.38L84.53 120.35L90.34 125.39L83.06 122.89L84.14 130.15L80.3 123.9L76.34 130.49L77.54 122.89L69.21 126L76.07 120.35L68.53 117.52L76.58 117.45L73.09 111L78.83 115.56Z" fill="#00a651"/>
<path d="M151.17 111.87L151.42 116.5L155.4 114.12L152.61 117.83L157.2 118.56L152.67 119.6L155.72 123.11L151.58 121L151.66 125.65L149.84 121.37L146.91 124.98L148.27 120.54L143.71 121.42L147.6 118.89L143.54 116.64L148.15 117.2L146.49 112.86L149.66 116.26Z" fill="#ee1c25"/>
<path d="M95.5 125.8Q116 132.5 134 127.8" fill="none" stroke="#9a9a9a" stroke-width="2.4"/>
<path d="M131.2 122.4L141.6 126.4L133.8 131.6Z" fill="#9a9a9a"/>
<line x1="248.1" y1="100" x2="248.1" y2="134.2" stroke="#00a651" stroke-width="2.4" />
<ellipse cx="248.2" cy="136.6" rx="2.4" ry="2.1" fill="#252830"/>
<g transform="translate(243.05 29.6)"><path d="M-3.9 34.5L-3.9 0A3.9 3.9 0 0 1 3.9 0L3.9 22.8" fill="none" stroke="#a5a5a5" stroke-width="1.9"/><line x1="-3.9" y1="4" x2="3.9" y2="4" stroke="#a5a5a5" stroke-width="2.2"/><line x1="-3.9" y1="8.2" x2="3.9" y2="8.2" stroke="#a5a5a5" stroke-width="2.2"/><line x1="-3.9" y1="12.4" x2="3.9" y2="12.4" stroke="#a5a5a5" stroke-width="2.2"/><line x1="-3.9" y1="16.6" x2="3.9" y2="16.6" stroke="#a5a5a5" stroke-width="2.2"/><line x1="-3.9" y1="20.6" x2="3.9" y2="20.6" stroke="#a5a5a5" stroke-width="2.2"/><line x1="-3.9" y1="34.3" x2="-3.9" y2="88" stroke="#00a651" stroke-width="2.2"/><line x1="3.9" y1="35" x2="3.9" y2="55" stroke="#00a651" stroke-width="2.2"/><line x1="-3.9" y1="36.2" x2="3.9" y2="36.2" stroke="#00a651" stroke-width="2.4"/><line x1="-3.9" y1="40.6" x2="3.9" y2="40.6" stroke="#00a651" stroke-width="2.4"/><line x1="-3.9" y1="45" x2="3.9" y2="45" stroke="#00a651" stroke-width="2.4"/><line x1="-3.9" y1="49.4" x2="3.9" y2="49.4" stroke="#00a651" stroke-width="2.4"/><line x1="-3.9" y1="53.8" x2="3.9" y2="53.8" stroke="#00a651" stroke-width="2.4"/><line x1="3.9" y1="71" x2="3.9" y2="88" stroke="#00a651" stroke-width="2.2"/><line x1="-3.9" y1="73.5" x2="3.9" y2="73.5" stroke="#00a651" stroke-width="2.4"/><line x1="-3.9" y1="77.9" x2="3.9" y2="77.9" stroke="#00a651" stroke-width="2.4"/><line x1="-3.9" y1="82.3" x2="3.9" y2="82.3" stroke="#00a651" stroke-width="2.4"/><line x1="-3.9" y1="86.5" x2="3.9" y2="86.5" stroke="#00a651" stroke-width="2.4"/></g><g transform="translate(276.85 29.2)"><path d="M-3.7 23L-3.7 0A3.7 3.7 0 0 1 3.7 0L3.7 30.3" fill="none" stroke="#e6007e" stroke-width="1.9"/><line x1="-3.7" y1="4" x2="3.7" y2="4" stroke="#e6007e" stroke-width="2.2"/><line x1="-3.7" y1="8.2" x2="3.7" y2="8.2" stroke="#e6007e" stroke-width="2.2"/><line x1="-3.7" y1="12.4" x2="3.7" y2="12.4" stroke="#e6007e" stroke-width="2.2"/><line x1="-3.7" y1="16.6" x2="3.7" y2="16.6" stroke="#e6007e" stroke-width="2.2"/><line x1="-3.7" y1="20.6" x2="3.7" y2="20.6" stroke="#e6007e" stroke-width="2.2"/><line x1="3.7" y1="30.1" x2="3.7" y2="54" stroke="#00aeef" stroke-width="2.2"/><line x1="-3.7" y1="36" x2="-3.7" y2="54" stroke="#00aeef" stroke-width="2.2"/><line x1="-3.7" y1="37.6" x2="3.7" y2="37.6" stroke="#00aeef" stroke-width="2.4"/><line x1="-3.7" y1="42" x2="3.7" y2="42" stroke="#00aeef" stroke-width="2.4"/><line x1="-3.7" y1="46.3" x2="3.7" y2="46.3" stroke="#00aeef" stroke-width="2.4"/><line x1="-3.7" y1="50.6" x2="3.7" y2="50.6" stroke="#00aeef" stroke-width="2.4"/><line x1="-3.7" y1="53.4" x2="3.7" y2="53.4" stroke="#00aeef" stroke-width="2.4"/><line x1="-3.7" y1="72" x2="-3.7" y2="90.2" stroke="#00aeef" stroke-width="2.2"/><line x1="3.7" y1="72" x2="3.7" y2="90.2" stroke="#00aeef" stroke-width="2.2"/><line x1="-3.7" y1="73.2" x2="3.7" y2="73.2" stroke="#00aeef" stroke-width="2.4"/><line x1="-3.7" y1="77.6" x2="3.7" y2="77.6" stroke="#00aeef" stroke-width="2.4"/><line x1="-3.7" y1="82" x2="3.7" y2="82" stroke="#00aeef" stroke-width="2.4"/><line x1="-3.7" y1="86.3" x2="3.7" y2="86.3" stroke="#00aeef" stroke-width="2.4"/><line x1="-3.7" y1="89.6" x2="3.7" y2="89.6" stroke="#00aeef" stroke-width="2.4"/></g><path d="M246.6 52.7L273.6 65.4M273.6 52.7L247.6 64.6" stroke="#1a1a1a" stroke-width="2"/><path d="M247.6 85.8C253.5 85.8 256.4 89.5 256.4 93.1C256.4 96.8 253.5 100.4 247.6 100.4" fill="none" stroke="#f47b20" stroke-width="2"/><path d="M273.2 84.8C268.5 86 265.8 89.2 265.8 92.3C265.8 96 268.5 99.3 273.2 99.7" fill="none" stroke="#ffc20e" stroke-width="2"/><path d="M281.3 84.8C285.2 86 287.2 89.2 287.2 92.3C287.2 95.8 285.2 98.8 281.3 99.7" fill="none" stroke="#ffc20e" stroke-width="2"/><path d="M266.5 88.6L262.6 89.4L263 91L266.2 91.4Z" fill="#ffc20e"/>
<circle cx="260.8" cy="90.3" r="2.6" fill="url(#mgball)"/>
<circle cx="258.2" cy="98.6" r="2.6" fill="url(#mnball)"/>
<path d="M237.7 113L238.59 117.36L242.07 114.59L239.95 118.5L244.4 118.62L240.26 120.25L243.59 123.2L239.37 121.79L240.03 126.19L237.7 122.4L235.37 126.19L236.03 121.79L231.81 123.2L235.14 120.25L231 118.62L235.45 118.5L233.33 114.59L236.81 117.36Z" fill="#00a651"/>
<path d="M284.1 113.18L285.47 119.84L291.3 115.02L287.56 121.6L295.9 121.52L288.04 124.29L293.61 129.09L286.67 126.66L287.74 133.6L284.1 127.6L280.35 133.91L281.53 126.66L273.72 129.59L280.16 124.29L273.07 121.66L280.64 121.6L277.26 115.45L282.73 119.84Z" fill="#ee1c25"/>
<path d="M239.5 126.2Q253 131 266 127" fill="none" stroke="#333" stroke-width="2.4"/>
<path d="M262.6 123.6L273.4 124.6L265.6 133.4Z" fill="#333"/>
<circle cx="181.5" cy="60.7" r="5.8" fill="url(#mnball)"/>
<circle cx="208.9" cy="60.3" r="5.8" fill="url(#mgball)"/>
<path d="M171 74.9L225.4 74.9L215.5 70.6" fill="none" stroke="#111" stroke-width="1.5"/>
<path d="M209.6 78.3L185.5 78.3L194 82.6" fill="none" stroke="#111" stroke-width="1.5"/>
<g fill="#808080"><rect x="348.91" y="336.45" width="4.3" height="2.35"/><rect x="353.81" y="332.35" width="4.3" height="6.45"/><rect x="358.71" y="322.49" width="4.3" height="16.31"/><rect x="363.61" y="304.56" width="4.3" height="34.24"/><rect x="368.51" y="280.88" width="4.3" height="57.92"/><rect x="373.41" y="258.94" width="4.3" height="79.86"/><rect x="378.31" y="245.39" width="4.3" height="93.41"/><rect x="383.21" y="252.95" width="4.3" height="85.85"/><rect x="388.11" y="271.85" width="4.3" height="66.95"/><rect x="393.01" y="295.77" width="4.3" height="43.03"/><rect x="397.91" y="316.8" width="4.3" height="22"/><rect x="402.81" y="329.69" width="4.3" height="9.11"/><rect x="407.71" y="335.8" width="4.3" height="3"/><rect x="412.61" y="337.78" width="4.3" height="1.02"/></g>
<path d="M344.2 338.49 344.69 338.44 345.18 338.38 345.67 338.32 346.16 338.24 346.65 338.16 347.14 338.06 347.63 337.95 348.12 337.83 348.61 337.69 349.1 337.53 349.59 337.36 350.08 337.16 350.57 336.94 351.06 336.7 351.55 336.43 352.04 336.13 352.53 335.79 353.02 335.43 353.51 335.02 354 334.57 354.49 334.09 354.98 333.55 355.47 332.96 355.96 332.33 356.45 331.63 356.94 330.88 357.43 330.07 357.92 329.19 358.41 328.24 358.9 327.23 359.39 326.14 359.88 324.98 360.37 323.74 360.86 322.42 361.35 321.02 361.84 319.54 362.33 317.98 362.82 316.33 363.31 314.6 363.8 312.79 364.29 310.9 364.78 308.94 365.27 306.89 365.76 304.78 366.25 302.59 366.74 300.35 367.23 298.04 367.72 295.68 368.21 293.27 368.7 290.82 369.19 288.35 369.68 285.84 370.17 283.33 370.66 280.81 371.15 278.29 371.64 275.79 372.13 273.32 372.62 270.88 373.11 268.49 373.6 266.16 374.09 263.9 374.58 261.73 375.07 259.64 375.56 257.66 376.05 255.8 376.54 254.06 377.03 252.45 377.52 250.99 378.01 249.68 378.5 248.53 378.99 247.54 379.48 246.73 379.97 246.09 380.46 245.63 380.95 245.36 381.44 245.26 381.93 245.36 382.42 245.63 382.91 246.09 383.4 246.73 383.89 247.54 384.38 248.53 384.87 249.68 385.36 250.99 385.85 252.45 386.34 254.06 386.83 255.8 387.32 257.66 387.81 259.64 388.3 261.73 388.79 263.9 389.28 266.16 389.77 268.49 390.26 270.88 390.75 273.32 391.24 275.79 391.73 278.29 392.22 280.81 392.71 283.33 393.2 285.84 393.69 288.35 394.18 290.82 394.67 293.27 395.16 295.68 395.65 298.04 396.14 300.35 396.63 302.59 397.12 304.78 397.61 306.89 398.1 308.94 398.59 310.9 399.08 312.79 399.57 314.6 400.06 316.33 400.55 317.98 401.04 319.54 401.53 321.02 402.02 322.42 402.51 323.74 403 324.98 403.49 326.14 403.98 327.23 404.47 328.24 404.96 329.19 405.45 330.07 405.94 330.88 406.43 331.63 406.92 332.33 407.41 332.96 407.9 333.55 408.39 334.09 408.88 334.57 409.37 335.02 409.86 335.43 410.35 335.79 410.84 336.13 411.33 336.43 411.82 336.7 412.31 336.94 412.8 337.16 413.29 337.36 413.78 337.53 414.27 337.69 414.76 337.83 415.25 337.95 415.74 338.06 416.23 338.16 416.72 338.24 417.21 338.32 417.7 338.38 418.19 338.44 418.68 338.49 419.17 338.53 419.66 338.57 420.15 338.6 420.64 338.63 421.13 338.66 421.62 338.68 422.11 338.7 422.6 338.71 423.09 338.73 423.58 338.74 424.07 338.75 424.56 338.76 425.05 338.76 425.54 338.77 426.03 338.77 426.52 338.78 427.01 338.78 427.5 338.78 427.99 338.79 428.48 338.79 428.97 338.79 429.46 338.79 429.95 338.79 430.44 338.8 430.93 338.8 431.42 338.8 431.91 338.8 432.4 338.8 432.89 338.8 433.38 338.8 433.87 338.8 434.36 338.8 434.85 338.8 435.34 338.8 435.83 338.8 436.32 338.8 436.81 338.8 437.3 338.8 437.79 338.8 438.28 338.8 438.77 338.8 439.26 338.8 439.75 338.8 440.24 338.8 440.73 338.8 441.22 338.8 441.71 338.8 442.2 338.8 442.69 338.8 443.18 338.8 443.67 338.8 444.16 338.8 444.65 338.8 445.14 338.8 445.63 338.8 446.12 338.8 446.61 338.8 447.1 338.8 447.59 338.8 448.08 338.8 448.57 338.8 449.06 338.8 449.55 338.8 450.04 338.8 450.53 338.8 451.02 338.8 451.51 338.8 452 338.8 452.49 338.8 452.98 338.8 453.47 338.8 453.96 338.8 454.45 338.8 454.94 338.8 455.43 338.8 455.92 338.8 456.41 338.8 456.9 338.8 457.39 338.8 457.88 338.8 458.37 338.8 458.86 338.8 459.35 338.8 459.84 338.8 460.33 338.8 460.82 338.8 461.31 338.8 461.8 338.8 462.29 338.8 462.78 338.8 463.27 338.8 463.76 338.8 464.25 338.8 464.74 338.8 465.23 338.8 465.72 338.8 466.21 338.8 466.7 338.8 467.19 338.8 467.68 338.8 468.17 338.8 468.66 338.8 469.15 338.8 469.64 338.8 470.13 338.8 470.62 338.8 471.11 338.8 471.6 338.8 472.09 338.8 472.58 338.8 473.07 338.8 473.56 338.8 474.05 338.8 474.54 338.8 475.03 338.8 475.52 338.8 476.01 338.8 476.5 338.8 476.99 338.8 477.48 338.8 477.97 338.8 478.46 338.8 478.95 338.8 479.44 338.8 479.93 338.8 480.42 338.8 480.91 338.8 481.4 338.8 481.89 338.8 482.38 338.8 482.87 338.8 483.36 338.8 483.85 338.8 484.34 338.8 484.83 338.8 485.32 338.8 485.81 338.8 486.3 338.8 486.79 338.8 487.28 338.8 487.77 338.8 488.26 338.8 488.75 338.8 489.24 338.8 489.73 338.8 490.22 338.8 490.71 338.8" fill="none" stroke="#e81010" stroke-width="1.8" stroke-linejoin="round" />
<line x1="344.2" y1="240" x2="344.2" y2="338.8" stroke="#1a1a1a" stroke-width="1.1" />
<line x1="344.2" y1="338.8" x2="347.2" y2="338.8" stroke="#1a1a1a" stroke-width="1.1" />
<line x1="344.2" y1="316.92" x2="347.2" y2="316.92" stroke="#1a1a1a" stroke-width="1.1" />
<line x1="344.2" y1="295.04" x2="347.2" y2="295.04" stroke="#1a1a1a" stroke-width="1.1" />
<line x1="344.2" y1="273.16" x2="347.2" y2="273.16" stroke="#1a1a1a" stroke-width="1.1" />
<line x1="344.2" y1="251.28" x2="347.2" y2="251.28" stroke="#1a1a1a" stroke-width="1.1" />
<line x1="344.2" y1="327.86" x2="346" y2="327.86" stroke="#1a1a1a" stroke-width="1.1" />
<line x1="344.2" y1="305.98" x2="346" y2="305.98" stroke="#1a1a1a" stroke-width="1.1" />
<line x1="344.2" y1="284.1" x2="346" y2="284.1" stroke="#1a1a1a" stroke-width="1.1" />
<line x1="344.2" y1="262.22" x2="346" y2="262.22" stroke="#1a1a1a" stroke-width="1.1" />
<line x1="344.2" y1="240.34" x2="346" y2="240.34" stroke="#1a1a1a" stroke-width="1.1" />
<line x1="344.2" y1="338.8" x2="490.22" y2="338.8" stroke="#1a1a1a" stroke-width="1.1" />
<line x1="368.21" y1="338.8" x2="368.21" y2="335.8" stroke="#1a1a1a" stroke-width="1.1" />
<line x1="417.21" y1="338.8" x2="417.21" y2="335.8" stroke="#1a1a1a" stroke-width="1.1" />
<line x1="466.21" y1="338.8" x2="466.21" y2="335.8" stroke="#1a1a1a" stroke-width="1.1" />
<line x1="358.41" y1="338.8" x2="358.41" y2="337" stroke="#1a1a1a" stroke-width="1.1" />
<line x1="378.01" y1="338.8" x2="378.01" y2="337" stroke="#1a1a1a" stroke-width="1.1" />
<line x1="387.81" y1="338.8" x2="387.81" y2="337" stroke="#1a1a1a" stroke-width="1.1" />
<line x1="397.61" y1="338.8" x2="397.61" y2="337" stroke="#1a1a1a" stroke-width="1.1" />
<line x1="407.41" y1="338.8" x2="407.41" y2="337" stroke="#1a1a1a" stroke-width="1.1" />
<line x1="427.01" y1="338.8" x2="427.01" y2="337" stroke="#1a1a1a" stroke-width="1.1" />
<line x1="436.81" y1="338.8" x2="436.81" y2="337" stroke="#1a1a1a" stroke-width="1.1" />
<line x1="446.61" y1="338.8" x2="446.61" y2="337" stroke="#1a1a1a" stroke-width="1.1" />
<line x1="456.41" y1="338.8" x2="456.41" y2="337" stroke="#1a1a1a" stroke-width="1.1" />
<line x1="476.01" y1="338.8" x2="476.01" y2="337" stroke="#1a1a1a" stroke-width="1.1" />
<line x1="485.81" y1="338.8" x2="485.81" y2="337" stroke="#1a1a1a" stroke-width="1.1" />
<g fill="#808080"><rect x="348.51" y="461.43" width="4.3" height="1.17"/><rect x="353.41" y="458.51" width="4.3" height="4.09"/><rect x="358.31" y="448.88" width="4.3" height="13.72"/><rect x="363.21" y="430.92" width="4.3" height="31.68"/><rect x="368.11" y="404.72" width="4.3" height="57.88"/><rect x="373.01" y="389.12" width="4.3" height="73.48"/><rect x="377.91" y="389.92" width="4.3" height="72.68"/><rect x="382.81" y="408.08" width="4.3" height="54.52"/><rect x="387.71" y="426.18" width="4.3" height="36.42"/><rect x="392.61" y="442.69" width="4.3" height="19.91"/><rect x="397.51" y="449.9" width="4.3" height="12.7"/><rect x="402.41" y="451.23" width="4.3" height="11.37"/><rect x="407.31" y="449.48" width="4.3" height="13.12"/><rect x="412.21" y="446.91" width="4.3" height="15.69"/><rect x="417.11" y="446.21" width="4.3" height="16.39"/><rect x="422.01" y="446.73" width="4.3" height="15.87"/><rect x="426.91" y="447.7" width="4.3" height="14.9"/><rect x="431.81" y="450.34" width="4.3" height="12.26"/><rect x="436.71" y="452.61" width="4.3" height="9.99"/><rect x="441.61" y="454.66" width="4.3" height="7.94"/><rect x="446.51" y="457.4" width="4.3" height="5.2"/><rect x="451.41" y="458.99" width="4.3" height="3.61"/><rect x="456.31" y="460.33" width="4.3" height="2.27"/><rect x="461.21" y="460.72" width="4.3" height="1.88"/></g>
<path d="M343.8 462.5 344.29 462.48 344.78 462.45 345.27 462.42 345.76 462.38 346.25 462.34 346.74 462.29 347.23 462.23 347.72 462.16 348.21 462.09 348.7 461.99 349.19 461.89 349.68 461.76 350.17 461.62 350.66 461.46 351.15 461.27 351.64 461.06 352.13 460.82 352.62 460.55 353.11 460.24 353.6 459.89 354.09 459.5 354.58 459.07 355.07 458.58 355.56 458.04 356.05 457.44 356.54 456.78 357.03 456.06 357.52 455.26 358.01 454.39 358.5 453.44 358.99 452.41 359.48 451.29 359.97 450.09 360.46 448.8 360.95 447.41 361.44 445.94 361.93 444.37 362.42 442.7 362.91 440.95 363.4 439.11 363.89 437.18 364.38 435.16 364.87 433.07 365.36 430.91 365.85 428.69 366.34 426.41 366.83 424.08 367.32 421.71 367.81 419.33 368.3 416.92 368.79 414.52 369.28 412.13 369.77 409.77 370.26 407.46 370.75 405.2 371.24 403.01 371.73 400.91 372.22 398.91 372.71 397.03 373.2 395.28 373.69 393.68 374.18 392.23 374.67 390.95 375.16 389.85 375.65 388.94 376.14 388.22 376.63 387.71 377.12 387.4 377.61 387.29 378.1 387.4 378.59 387.71 379.08 388.22 379.57 388.94 380.06 389.85 380.55 390.95 381.04 392.23 381.53 393.68 382.02 395.28 382.51 397.03 383 398.91 383.49 400.91 383.98 403.01 384.47 405.2 384.96 407.46 385.45 409.77 385.94 412.13 386.43 414.52 386.92 416.92 387.41 419.33 387.9 421.71 388.39 424.08 388.88 426.41 389.37 428.69 389.86 430.91 390.35 433.07 390.84 435.16 391.33 437.18 391.82 439.11 392.31 440.95 392.8 442.7 393.29 444.37 393.78 445.94 394.27 447.41 394.76 448.8 395.25 450.09 395.74 451.29 396.23 452.41 396.72 453.44 397.21 454.39 397.7 455.26 398.19 456.06 398.68 456.78 399.17 457.44 399.66 458.04 400.15 458.58 400.64 459.07 401.13 459.5 401.62 459.89 402.11 460.24 402.6 460.55 403.09 460.82 403.58 461.06 404.07 461.27 404.56 461.46 405.05 461.62 405.54 461.76 406.03 461.89 406.52 461.99 407.01 462.09 407.5 462.16 407.99 462.23 408.48 462.29 408.97 462.34 409.46 462.38 409.95 462.42 410.44 462.45 410.93 462.48 411.42 462.5 411.91 462.52 412.4 462.53 412.89 462.54 413.38 462.55 413.87 462.56 414.36 462.57 414.85 462.57 415.34 462.58 415.83 462.58 416.32 462.59 416.81 462.59 417.3 462.59 417.79 462.59 418.28 462.59 418.77 462.6 419.26 462.6 419.75 462.6 420.24 462.6 420.73 462.6 421.22 462.6 421.71 462.6 422.2 462.6 422.69 462.6 423.18 462.6 423.67 462.6 424.16 462.6 424.65 462.6 425.14 462.6 425.63 462.6 426.12 462.6 426.61 462.6 427.1 462.6 427.59 462.6 428.08 462.6 428.57 462.6 429.06 462.6 429.55 462.6 430.04 462.6 430.53 462.6 431.02 462.6 431.51 462.6 432 462.6 432.49 462.6 432.98 462.6 433.47 462.6 433.96 462.6 434.45 462.6 434.94 462.6 435.43 462.6 435.92 462.6 436.41 462.6 436.9 462.6 437.39 462.6 437.88 462.6 438.37 462.6 438.86 462.6 439.35 462.6 439.84 462.6 440.33 462.6 440.82 462.6 441.31 462.6 441.8 462.6 442.29 462.6 442.78 462.6 443.27 462.6 443.76 462.6 444.25 462.6 444.74 462.6 445.23 462.6 445.72 462.6 446.21 462.6 446.7 462.6 447.19 462.6 447.68 462.6 448.17 462.6 448.66 462.6 449.15 462.6 449.64 462.6 450.13 462.6 450.62 462.6 451.11 462.6 451.6 462.6 452.09 462.6 452.58 462.6 453.07 462.6 453.56 462.6 454.05 462.6 454.54 462.6 455.03 462.6 455.52 462.6 456.01 462.6 456.5 462.6 456.99 462.6 457.48 462.6 457.97 462.6 458.46 462.6 458.95 462.6 459.44 462.6 459.93 462.6 460.42 462.6 460.91 462.6 461.4 462.6 461.89 462.6 462.38 462.6 462.87 462.6 463.36 462.6 463.85 462.6 464.34 462.6 464.83 462.6 465.32 462.6 465.81 462.6 466.3 462.6 466.79 462.6 467.28 462.6 467.77 462.6 468.26 462.6 468.75 462.6 469.24 462.6 469.73 462.6 470.22 462.6 470.71 462.6 471.2 462.6 471.69 462.6 472.18 462.6 472.67 462.6 473.16 462.6 473.65 462.6 474.14 462.6 474.63 462.6 475.12 462.6 475.61 462.6 476.1 462.6 476.59 462.6 477.08 462.6 477.57 462.6 478.06 462.6 478.55 462.6 479.04 462.6 479.53 462.6 480.02 462.6 480.51 462.6 481 462.6 481.49 462.6 481.98 462.6 482.47 462.6 482.96 462.6 483.45 462.6 483.94 462.6 484.43 462.6 484.92 462.6 485.41 462.6 485.9 462.6 486.39 462.6 486.88 462.6 487.37 462.6 487.86 462.6 488.35 462.6 488.84 462.6 489.33 462.6 489.82 462.6 490.31 462.6" fill="none" stroke="#e81010" stroke-width="1.8" stroke-linejoin="round" />
<path d="M343.8 462.6 344.29 462.6 344.78 462.6 345.27 462.6 345.76 462.6 346.25 462.6 346.74 462.6 347.23 462.59 347.72 462.59 348.21 462.59 348.7 462.59 349.19 462.59 349.68 462.59 350.17 462.59 350.66 462.59 351.15 462.59 351.64 462.59 352.13 462.59 352.62 462.58 353.11 462.58 353.6 462.58 354.09 462.58 354.58 462.58 355.07 462.57 355.56 462.57 356.05 462.57 356.54 462.56 357.03 462.56 357.52 462.56 358.01 462.55 358.5 462.55 358.99 462.54 359.48 462.54 359.97 462.53 360.46 462.53 360.95 462.52 361.44 462.51 361.93 462.51 362.42 462.5 362.91 462.49 363.4 462.48 363.89 462.47 364.38 462.46 364.87 462.45 365.36 462.44 365.85 462.42 366.34 462.41 366.83 462.39 367.32 462.38 367.81 462.36 368.3 462.34 368.79 462.32 369.28 462.3 369.77 462.27 370.26 462.25 370.75 462.22 371.24 462.19 371.73 462.16 372.22 462.13 372.71 462.1 373.2 462.06 373.69 462.02 374.18 461.98 374.67 461.94 375.16 461.9 375.65 461.85 376.14 461.8 376.63 461.75 377.12 461.69 377.61 461.63 378.1 461.57 378.59 461.5 379.08 461.43 379.57 461.36 380.06 461.29 380.55 461.21 381.04 461.13 381.53 461.04 382.02 460.95 382.51 460.85 383 460.75 383.49 460.65 383.98 460.54 384.47 460.43 384.96 460.32 385.45 460.2 385.94 460.07 386.43 459.94 386.92 459.8 387.41 459.66 387.9 459.52 388.39 459.37 388.88 459.22 389.37 459.06 389.86 458.89 390.35 458.72 390.84 458.55 391.33 458.37 391.82 458.18 392.31 458 392.8 457.8 393.29 457.6 393.78 457.4 394.27 457.19 394.76 456.98 395.25 456.76 395.74 456.54 396.23 456.32 396.72 456.09 397.21 455.86 397.7 455.63 398.19 455.39 398.68 455.15 399.17 454.9 399.66 454.66 400.15 454.41 400.64 454.16 401.13 453.9 401.62 453.65 402.11 453.4 402.6 453.14 403.09 452.89 403.58 452.63 404.07 452.37 404.56 452.12 405.05 451.87 405.54 451.61 406.03 451.36 406.52 451.12 407.01 450.87 407.5 450.63 407.99 450.39 408.48 450.16 408.97 449.93 409.46 449.7 409.95 449.48 410.44 449.26 410.93 449.05 411.42 448.85 411.91 448.65 412.4 448.47 412.89 448.28 413.38 448.11 413.87 447.94 414.36 447.78 414.85 447.63 415.34 447.49 415.83 447.36 416.32 447.24 416.81 447.13 417.3 447.03 417.79 446.93 418.28 446.85 418.77 446.78 419.26 446.72 419.75 446.67 420.24 446.63 420.73 446.61 421.22 446.59 421.71 446.58 422.2 446.59 422.69 446.61 423.18 446.63 423.67 446.67 424.16 446.72 424.65 446.78 425.14 446.85 425.63 446.93 426.12 447.03 426.61 447.13 427.1 447.24 427.59 447.36 428.08 447.49 428.57 447.63 429.06 447.78 429.55 447.94 430.04 448.11 430.53 448.28 431.02 448.47 431.51 448.65 432 448.85 432.49 449.05 432.98 449.26 433.47 449.48 433.96 449.7 434.45 449.93 434.94 450.16 435.43 450.39 435.92 450.63 436.41 450.87 436.9 451.12 437.39 451.36 437.88 451.61 438.37 451.87 438.86 452.12 439.35 452.37 439.84 452.63 440.33 452.89 440.82 453.14 441.31 453.4 441.8 453.65 442.29 453.9 442.78 454.16 443.27 454.41 443.76 454.66 444.25 454.9 444.74 455.15 445.23 455.39 445.72 455.63 446.21 455.86 446.7 456.09 447.19 456.32 447.68 456.54 448.17 456.76 448.66 456.98 449.15 457.19 449.64 457.4 450.13 457.6 450.62 457.8 451.11 458 451.6 458.18 452.09 458.37 452.58 458.55 453.07 458.72 453.56 458.89 454.05 459.06 454.54 459.22 455.03 459.37 455.52 459.52 456.01 459.66 456.5 459.8 456.99 459.94 457.48 460.07 457.97 460.2 458.46 460.32 458.95 460.43 459.44 460.54 459.93 460.65 460.42 460.75 460.91 460.85 461.4 460.95 461.89 461.04 462.38 461.13 462.87 461.21 463.36 461.29 463.85 461.36 464.34 461.43 464.83 461.5 465.32 461.57 465.81 461.63 466.3 461.69 466.79 461.75 467.28 461.8 467.77 461.85 468.26 461.9 468.75 461.94 469.24 461.98 469.73 462.02 470.22 462.06 470.71 462.1 471.2 462.13 471.69 462.16 472.18 462.19 472.67 462.22 473.16 462.25 473.65 462.27 474.14 462.3 474.63 462.32 475.12 462.34 475.61 462.36 476.1 462.38 476.59 462.39 477.08 462.41 477.57 462.42 478.06 462.44 478.55 462.45 479.04 462.46 479.53 462.47 480.02 462.48 480.51 462.49 481 462.5 481.49 462.51 481.98 462.51 482.47 462.52 482.96 462.53 483.45 462.53 483.94 462.54 484.43 462.54 484.92 462.55 485.41 462.55 485.9 462.56 486.39 462.56 486.88 462.56 487.37 462.57 487.86 462.57 488.35 462.57 488.84 462.58 489.33 462.58 489.82 462.58 490.31 462.58" fill="none" stroke="#33bb33" stroke-width="1.8" stroke-linejoin="round" />
<path d="M343.8 462.49 344.29 462.47 344.78 462.45 345.27 462.42 345.76 462.38 346.25 462.34 346.74 462.29 347.23 462.23 347.72 462.16 348.21 462.08 348.7 461.99 349.19 461.88 349.68 461.75 350.17 461.61 350.66 461.45 351.15 461.26 351.64 461.05 352.13 460.81 352.62 460.53 353.11 460.22 353.6 459.87 354.09 459.48 354.58 459.04 355.07 458.56 355.56 458.01 356.05 457.41 356.54 456.75 357.03 456.02 357.52 455.22 358.01 454.34 358.5 453.39 358.99 452.35 359.48 451.23 359.97 450.02 360.46 448.73 360.95 447.33 361.44 445.85 361.93 444.27 362.42 442.6 362.91 440.84 363.4 438.99 363.89 437.05 364.38 435.02 364.87 432.92 365.36 430.75 365.85 428.51 366.34 426.21 366.83 423.87 367.32 421.49 367.81 419.08 368.3 416.66 368.79 414.24 369.28 411.83 369.77 409.45 370.26 407.1 370.75 404.82 371.24 402.6 371.73 400.47 372.22 398.44 372.71 396.53 373.2 394.75 373.69 393.1 374.18 391.62 374.67 390.3 375.16 389.15 375.65 388.19 376.14 387.42 376.63 386.85 377.12 386.49 377.61 386.32 378.1 386.36 378.59 386.61 379.08 387.06 379.57 387.71 380.06 388.54 380.55 389.56 381.04 390.76 381.53 392.12 382.02 393.63 382.51 395.29 383 397.07 383.49 398.96 383.98 400.95 384.47 403.03 384.96 405.17 385.45 407.37 385.94 409.6 386.43 411.86 386.92 414.13 387.41 416.39 387.9 418.63 388.39 420.85 388.88 423.02 389.37 425.14 389.86 427.2 390.35 429.2 390.84 431.11 391.33 432.94 391.82 434.69 392.31 436.34 392.8 437.9 393.29 439.37 393.78 440.74 394.27 442 394.76 443.18 395.25 444.25 395.74 445.24 396.23 446.13 396.72 446.93 397.21 447.65 397.7 448.29 398.19 448.84 398.68 449.33 399.17 449.75 399.66 450.1 400.15 450.39 400.64 450.62 401.13 450.81 401.62 450.94 402.11 451.04 402.6 451.09 403.09 451.11 403.58 451.09 404.07 451.05 404.56 450.98 405.05 450.89 405.54 450.78 406.03 450.65 406.52 450.51 407.01 450.36 407.5 450.19 407.99 450.02 408.48 449.85 408.97 449.67 409.46 449.48 409.95 449.3 410.44 449.11 410.93 448.93 411.42 448.75 411.91 448.57 412.4 448.4 412.89 448.23 413.38 448.06 413.87 447.9 414.36 447.75 414.85 447.61 415.34 447.47 415.83 447.35 416.32 447.23 416.81 447.12 417.3 447.02 417.79 446.93 418.28 446.85 418.77 446.78 419.26 446.72 419.75 446.67 420.24 446.63 420.73 446.6 421.22 446.59 421.71 446.58 422.2 446.59 422.69 446.6 423.18 446.63 423.67 446.67 424.16 446.72 424.65 446.78 425.14 446.85 425.63 446.93 426.12 447.03 426.61 447.13 427.1 447.24 427.59 447.36 428.08 447.49 428.57 447.63 429.06 447.78 429.55 447.94 430.04 448.11 430.53 448.28 431.02 448.47 431.51 448.65 432 448.85 432.49 449.05 432.98 449.26 433.47 449.48 433.96 449.7 434.45 449.93 434.94 450.16 435.43 450.39 435.92 450.63 436.41 450.87 436.9 451.12 437.39 451.36 437.88 451.61 438.37 451.87 438.86 452.12 439.35 452.37 439.84 452.63 440.33 452.89 440.82 453.14 441.31 453.4 441.8 453.65 442.29 453.9 442.78 454.16 443.27 454.41 443.76 454.66 444.25 454.9 444.74 455.15 445.23 455.39 445.72 455.63 446.21 455.86 446.7 456.09 447.19 456.32 447.68 456.54 448.17 456.76 448.66 456.98 449.15 457.19 449.64 457.4 450.13 457.6 450.62 457.8 451.11 458 451.6 458.18 452.09 458.37 452.58 458.55 453.07 458.72 453.56 458.89 454.05 459.06 454.54 459.22 455.03 459.37 455.52 459.52 456.01 459.66 456.5 459.8 456.99 459.94 457.48 460.07 457.97 460.2 458.46 460.32 458.95 460.43 459.44 460.54 459.93 460.65 460.42 460.75 460.91 460.85 461.4 460.95 461.89 461.04 462.38 461.13 462.87 461.21 463.36 461.29 463.85 461.36 464.34 461.43 464.83 461.5 465.32 461.57 465.81 461.63 466.3 461.69 466.79 461.75 467.28 461.8 467.77 461.85 468.26 461.9 468.75 461.94 469.24 461.98 469.73 462.02 470.22 462.06 470.71 462.1 471.2 462.13 471.69 462.16 472.18 462.19 472.67 462.22 473.16 462.25 473.65 462.27 474.14 462.3 474.63 462.32 475.12 462.34 475.61 462.36 476.1 462.38 476.59 462.39 477.08 462.41 477.57 462.42 478.06 462.44 478.55 462.45 479.04 462.46 479.53 462.47 480.02 462.48 480.51 462.49 481 462.5 481.49 462.51 481.98 462.51 482.47 462.52 482.96 462.53 483.45 462.53 483.94 462.54 484.43 462.54 484.92 462.55 485.41 462.55 485.9 462.56 486.39 462.56 486.88 462.56 487.37 462.57 487.86 462.57 488.35 462.57 488.84 462.58 489.33 462.58 489.82 462.58 490.31 462.58" fill="none" stroke="#000" stroke-width="2" stroke-linejoin="round" />
<line x1="343.8" y1="361" x2="343.8" y2="462.6" stroke="#1a1a1a" stroke-width="1.1" />
<line x1="343.8" y1="462.6" x2="346.8" y2="462.6" stroke="#1a1a1a" stroke-width="1.1" />
<line x1="343.8" y1="440.12" x2="346.8" y2="440.12" stroke="#1a1a1a" stroke-width="1.1" />
<line x1="343.8" y1="417.64" x2="346.8" y2="417.64" stroke="#1a1a1a" stroke-width="1.1" />
<line x1="343.8" y1="395.16" x2="346.8" y2="395.16" stroke="#1a1a1a" stroke-width="1.1" />
<line x1="343.8" y1="372.68" x2="346.8" y2="372.68" stroke="#1a1a1a" stroke-width="1.1" />
<line x1="343.8" y1="451.36" x2="345.6" y2="451.36" stroke="#1a1a1a" stroke-width="1.1" />
<line x1="343.8" y1="428.88" x2="345.6" y2="428.88" stroke="#1a1a1a" stroke-width="1.1" />
<line x1="343.8" y1="406.4" x2="345.6" y2="406.4" stroke="#1a1a1a" stroke-width="1.1" />
<line x1="343.8" y1="383.92" x2="345.6" y2="383.92" stroke="#1a1a1a" stroke-width="1.1" />
<line x1="343.8" y1="361.44" x2="345.6" y2="361.44" stroke="#1a1a1a" stroke-width="1.1" />
<line x1="343.8" y1="462.6" x2="489.82" y2="462.6" stroke="#1a1a1a" stroke-width="1.1" />
<line x1="367.81" y1="462.6" x2="367.81" y2="459.6" stroke="#1a1a1a" stroke-width="1.1" />
<line x1="416.81" y1="462.6" x2="416.81" y2="459.6" stroke="#1a1a1a" stroke-width="1.1" />
<line x1="465.81" y1="462.6" x2="465.81" y2="459.6" stroke="#1a1a1a" stroke-width="1.1" />
<line x1="358.01" y1="462.6" x2="358.01" y2="460.8" stroke="#1a1a1a" stroke-width="1.1" />
<line x1="377.61" y1="462.6" x2="377.61" y2="460.8" stroke="#1a1a1a" stroke-width="1.1" />
<line x1="387.41" y1="462.6" x2="387.41" y2="460.8" stroke="#1a1a1a" stroke-width="1.1" />
<line x1="397.21" y1="462.6" x2="397.21" y2="460.8" stroke="#1a1a1a" stroke-width="1.1" />
<line x1="407.01" y1="462.6" x2="407.01" y2="460.8" stroke="#1a1a1a" stroke-width="1.1" />
<line x1="426.61" y1="462.6" x2="426.61" y2="460.8" stroke="#1a1a1a" stroke-width="1.1" />
<line x1="436.41" y1="462.6" x2="436.41" y2="460.8" stroke="#1a1a1a" stroke-width="1.1" />
<line x1="446.21" y1="462.6" x2="446.21" y2="460.8" stroke="#1a1a1a" stroke-width="1.1" />
<line x1="456.01" y1="462.6" x2="456.01" y2="460.8" stroke="#1a1a1a" stroke-width="1.1" />
<line x1="475.61" y1="462.6" x2="475.61" y2="460.8" stroke="#1a1a1a" stroke-width="1.1" />
<line x1="485.41" y1="462.6" x2="485.41" y2="460.8" stroke="#1a1a1a" stroke-width="1.1" />
<g fill="#808080"><rect x="353.81" y="584.14" width="4.3" height="1.66"/><rect x="358.71" y="580.57" width="4.3" height="5.23"/><rect x="363.61" y="573.34" width="4.3" height="12.46"/><rect x="368.51" y="560.79" width="4.3" height="25.01"/><rect x="373.41" y="547.27" width="4.3" height="38.53"/><rect x="378.31" y="537.14" width="4.3" height="48.66"/><rect x="383.21" y="537.01" width="4.3" height="48.79"/><rect x="388.11" y="548.88" width="4.3" height="36.92"/><rect x="393.01" y="558.67" width="4.3" height="27.13"/><rect x="397.91" y="568.88" width="4.3" height="16.92"/><rect x="402.81" y="573.07" width="4.3" height="12.73"/><rect x="407.71" y="569.27" width="4.3" height="16.53"/><rect x="412.61" y="563.32" width="4.3" height="22.48"/><rect x="417.51" y="556.31" width="4.3" height="29.49"/><rect x="422.41" y="550.57" width="4.3" height="35.23"/><rect x="427.31" y="548.34" width="4.3" height="37.46"/><rect x="432.21" y="550.38" width="4.3" height="35.42"/><rect x="437.11" y="556.32" width="4.3" height="29.48"/><rect x="442.01" y="563.27" width="4.3" height="22.53"/><rect x="446.91" y="569.13" width="4.3" height="16.67"/><rect x="451.81" y="576.36" width="4.3" height="9.44"/><rect x="456.71" y="580.89" width="4.3" height="4.91"/><rect x="461.61" y="583.59" width="4.3" height="2.21"/><rect x="466.51" y="584.55" width="4.3" height="1.25"/></g>
<path d="M344.2 585.75 344.69 585.75 345.18 585.74 345.67 585.72 346.16 585.71 346.65 585.69 347.14 585.67 347.63 585.65 348.12 585.62 348.61 585.59 349.1 585.56 349.59 585.52 350.08 585.47 350.57 585.42 351.06 585.36 351.55 585.29 352.04 585.21 352.53 585.12 353.02 585.02 353.51 584.91 354 584.78 354.49 584.63 354.98 584.47 355.47 584.29 355.96 584.09 356.45 583.87 356.94 583.62 357.43 583.35 357.92 583.05 358.41 582.72 358.9 582.36 359.39 581.96 359.88 581.53 360.37 581.05 360.86 580.54 361.35 579.99 361.84 579.39 362.33 578.75 362.82 578.06 363.31 577.33 363.8 576.54 364.29 575.71 364.78 574.82 365.27 573.88 365.76 572.9 366.25 571.86 366.74 570.77 367.23 569.64 367.72 568.46 368.21 567.23 368.7 565.97 369.19 564.66 369.68 563.32 370.17 561.95 370.66 560.55 371.15 559.14 371.64 557.7 372.13 556.26 372.62 554.81 373.11 553.36 373.6 551.93 374.09 550.51 374.58 549.11 375.07 547.75 375.56 546.42 376.05 545.15 376.54 543.92 377.03 542.75 377.52 541.66 378.01 540.63 378.5 539.69 378.99 538.84 379.48 538.08 379.97 537.41 380.46 536.85 380.95 536.39 381.44 536.04 381.93 535.81 382.42 535.68 382.91 535.67 383.4 535.77 383.89 535.99 384.38 536.31 384.87 536.75 385.36 537.29 385.85 537.94 386.34 538.68 386.83 539.51 387.32 540.44 387.81 541.45 388.3 542.53 388.79 543.68 389.28 544.9 389.77 546.16 390.26 547.48 390.75 548.84 391.24 550.23 391.73 551.64 392.22 553.08 392.71 554.52 393.2 555.97 393.69 557.41 394.18 558.85 394.67 560.27 395.16 561.67 395.65 563.05 396.14 564.4 396.63 565.71 397.12 566.98 397.61 568.22 398.1 569.41 398.59 570.55 399.08 571.65 399.57 572.69 400.06 573.69 400.55 574.64 401.04 575.53 401.53 576.38 402.02 577.17 402.51 577.92 403 578.62 403.49 579.27 403.98 579.87 404.47 580.44 404.96 580.96 405.45 581.43 405.94 581.87 406.43 582.28 406.92 582.65 407.41 582.99 407.9 583.29 408.39 583.57 408.88 583.82 409.37 584.05 409.86 584.25 410.35 584.44 410.84 584.6 411.33 584.75 411.82 584.88 412.31 585 412.8 585.1 413.29 585.19 413.78 585.27 414.27 585.34 414.76 585.41 415.25 585.46 415.74 585.51 416.23 585.55 416.72 585.59 417.21 585.62 417.7 585.65 418.19 585.67 418.68 585.69 419.17 585.71 419.66 585.72 420.15 585.73 420.64 585.74 421.13 585.75 421.62 585.76 422.11 585.77 422.6 585.77 423.09 585.78 423.58 585.78 424.07 585.78 424.56 585.79 425.05 585.79 425.54 585.79 426.03 585.79 426.52 585.79 427.01 585.8 427.5 585.8 427.99 585.8 428.48 585.8 428.97 585.8 429.46 585.8 429.95 585.8 430.44 585.8 430.93 585.8 431.42 585.8 431.91 585.8 432.4 585.8 432.89 585.8 433.38 585.8 433.87 585.8 434.36 585.8 434.85 585.8 435.34 585.8 435.83 585.8 436.32 585.8 436.81 585.8 437.3 585.8 437.79 585.8 438.28 585.8 438.77 585.8 439.26 585.8 439.75 585.8 440.24 585.8 440.73 585.8 441.22 585.8 441.71 585.8 442.2 585.8 442.69 585.8 443.18 585.8 443.67 585.8 444.16 585.8 444.65 585.8 445.14 585.8 445.63 585.8 446.12 585.8 446.61 585.8 447.1 585.8 447.59 585.8 448.08 585.8 448.57 585.8 449.06 585.8 449.55 585.8 450.04 585.8 450.53 585.8 451.02 585.8 451.51 585.8 452 585.8 452.49 585.8 452.98 585.8 453.47 585.8 453.96 585.8 454.45 585.8 454.94 585.8 455.43 585.8 455.92 585.8 456.41 585.8 456.9 585.8 457.39 585.8 457.88 585.8 458.37 585.8 458.86 585.8 459.35 585.8 459.84 585.8 460.33 585.8 460.82 585.8 461.31 585.8 461.8 585.8 462.29 585.8 462.78 585.8 463.27 585.8 463.76 585.8 464.25 585.8 464.74 585.8 465.23 585.8 465.72 585.8 466.21 585.8 466.7 585.8 467.19 585.8 467.68 585.8 468.17 585.8 468.66 585.8 469.15 585.8 469.64 585.8 470.13 585.8 470.62 585.8 471.11 585.8 471.6 585.8 472.09 585.8 472.58 585.8 473.07 585.8 473.56 585.8 474.05 585.8 474.54 585.8 475.03 585.8 475.52 585.8 476.01 585.8 476.5 585.8 476.99 585.8 477.48 585.8 477.97 585.8 478.46 585.8 478.95 585.8 479.44 585.8 479.93 585.8 480.42 585.8 480.91 585.8 481.4 585.8 481.89 585.8 482.38 585.8 482.87 585.8 483.36 585.8 483.85 585.8 484.34 585.8 484.83 585.8 485.32 585.8 485.81 585.8 486.3 585.8 486.79 585.8 487.28 585.8 487.77 585.8 488.26 585.8 488.75 585.8 489.24 585.8 489.73 585.8 490.22 585.8 490.71 585.8" fill="none" stroke="#e81010" stroke-width="1.8" stroke-linejoin="round" />
<path d="M344.2 585.8 344.69 585.8 345.18 585.8 345.67 585.8 346.16 585.8 346.65 585.8 347.14 585.8 347.63 585.8 348.12 585.8 348.61 585.8 349.1 585.8 349.59 585.8 350.08 585.8 350.57 585.8 351.06 585.8 351.55 585.8 352.04 585.8 352.53 585.8 353.02 585.8 353.51 585.8 354 585.8 354.49 585.8 354.98 585.8 355.47 585.8 355.96 585.8 356.45 585.8 356.94 585.8 357.43 585.8 357.92 585.8 358.41 585.8 358.9 585.8 359.39 585.8 359.88 585.8 360.37 585.8 360.86 585.8 361.35 585.8 361.84 585.8 362.33 585.8 362.82 585.8 363.31 585.8 363.8 585.8 364.29 585.8 364.78 585.8 365.27 585.8 365.76 585.8 366.25 585.8 366.74 585.8 367.23 585.8 367.72 585.8 368.21 585.8 368.7 585.79 369.19 585.79 369.68 585.79 370.17 585.79 370.66 585.79 371.15 585.79 371.64 585.79 372.13 585.79 372.62 585.78 373.11 585.78 373.6 585.78 374.09 585.78 374.58 585.77 375.07 585.77 375.56 585.77 376.05 585.76 376.54 585.76 377.03 585.75 377.52 585.75 378.01 585.74 378.5 585.73 378.99 585.72 379.48 585.71 379.97 585.7 380.46 585.69 380.95 585.68 381.44 585.66 381.93 585.64 382.42 585.62 382.91 585.6 383.4 585.58 383.89 585.56 384.38 585.53 384.87 585.5 385.36 585.47 385.85 585.43 386.34 585.39 386.83 585.35 387.32 585.3 387.81 585.25 388.3 585.19 388.79 585.13 389.28 585.06 389.77 584.99 390.26 584.91 390.75 584.82 391.24 584.73 391.73 584.63 392.22 584.52 392.71 584.41 393.2 584.28 393.69 584.15 394.18 584 394.67 583.85 395.16 583.68 395.65 583.5 396.14 583.32 396.63 583.11 397.12 582.9 397.61 582.67 398.1 582.43 398.59 582.17 399.08 581.9 399.57 581.61 400.06 581.3 400.55 580.98 401.04 580.64 401.53 580.29 402.02 579.91 402.51 579.52 403 579.11 403.49 578.68 403.98 578.23 404.47 577.76 404.96 577.28 405.45 576.77 405.94 576.25 406.43 575.7 406.92 575.14 407.41 574.56 407.9 573.96 408.39 573.34 408.88 572.71 409.37 572.06 409.86 571.39 410.35 570.71 410.84 570.01 411.33 569.3 411.82 568.58 412.31 567.85 412.8 567.11 413.29 566.36 413.78 565.6 414.27 564.84 414.76 564.07 415.25 563.3 415.74 562.53 416.23 561.76 416.72 560.99 417.21 560.23 417.7 559.48 418.19 558.73 418.68 557.99 419.17 557.27 419.66 556.56 420.15 555.87 420.64 555.2 421.13 554.54 421.62 553.91 422.11 553.31 422.6 552.73 423.09 552.17 423.58 551.65 424.07 551.16 424.56 550.7 425.05 550.28 425.54 549.89 426.03 549.54 426.52 549.23 427.01 548.96 427.5 548.73 427.99 548.54 428.48 548.39 428.97 548.28 429.46 548.22 429.95 548.19 430.44 548.22 430.93 548.28 431.42 548.39 431.91 548.54 432.4 548.73 432.89 548.96 433.38 549.23 433.87 549.54 434.36 549.89 434.85 550.28 435.34 550.7 435.83 551.16 436.32 551.65 436.81 552.17 437.3 552.73 437.79 553.31 438.28 553.91 438.77 554.54 439.26 555.2 439.75 555.87 440.24 556.56 440.73 557.27 441.22 557.99 441.71 558.73 442.2 559.48 442.69 560.23 443.18 560.99 443.67 561.76 444.16 562.53 444.65 563.3 445.14 564.07 445.63 564.84 446.12 565.6 446.61 566.36 447.1 567.11 447.59 567.85 448.08 568.58 448.57 569.3 449.06 570.01 449.55 570.71 450.04 571.39 450.53 572.06 451.02 572.71 451.51 573.34 452 573.96 452.49 574.56 452.98 575.14 453.47 575.7 453.96 576.25 454.45 576.77 454.94 577.28 455.43 577.76 455.92 578.23 456.41 578.68 456.9 579.11 457.39 579.52 457.88 579.91 458.37 580.29 458.86 580.64 459.35 580.98 459.84 581.3 460.33 581.61 460.82 581.9 461.31 582.17 461.8 582.43 462.29 582.67 462.78 582.9 463.27 583.11 463.76 583.32 464.25 583.5 464.74 583.68 465.23 583.85 465.72 584 466.21 584.15 466.7 584.28 467.19 584.41 467.68 584.52 468.17 584.63 468.66 584.73 469.15 584.82 469.64 584.91 470.13 584.99 470.62 585.06 471.11 585.13 471.6 585.19 472.09 585.25 472.58 585.3 473.07 585.35 473.56 585.39 474.05 585.43 474.54 585.47 475.03 585.5 475.52 585.53 476.01 585.56 476.5 585.58 476.99 585.6 477.48 585.62 477.97 585.64 478.46 585.66 478.95 585.68 479.44 585.69 479.93 585.7 480.42 585.71 480.91 585.72 481.4 585.73 481.89 585.74 482.38 585.75 482.87 585.75 483.36 585.76 483.85 585.76 484.34 585.77 484.83 585.77 485.32 585.77 485.81 585.78 486.3 585.78 486.79 585.78 487.28 585.78 487.77 585.79 488.26 585.79 488.75 585.79 489.24 585.79 489.73 585.79 490.22 585.79 490.71 585.79" fill="none" stroke="#33bb33" stroke-width="1.8" stroke-linejoin="round" />
<path d="M344.2 585.75 344.69 585.75 345.18 585.74 345.67 585.72 346.16 585.71 346.65 585.69 347.14 585.67 347.63 585.65 348.12 585.62 348.61 585.59 349.1 585.56 349.59 585.52 350.08 585.47 350.57 585.42 351.06 585.36 351.55 585.29 352.04 585.21 352.53 585.12 353.02 585.02 353.51 584.91 354 584.78 354.49 584.63 354.98 584.47 355.47 584.29 355.96 584.09 356.45 583.87 356.94 583.62 357.43 583.35 357.92 583.05 358.41 582.72 358.9 582.35 359.39 581.96 359.88 581.52 360.37 581.05 360.86 580.54 361.35 579.99 361.84 579.39 362.33 578.75 362.82 578.06 363.31 577.33 363.8 576.54 364.29 575.7 364.78 574.82 365.27 573.88 365.76 572.89 366.25 571.86 366.74 570.77 367.23 569.63 367.72 568.45 368.21 567.23 368.7 565.96 369.19 564.65 369.68 563.31 370.17 561.94 370.66 560.54 371.15 559.13 371.64 557.69 372.13 556.24 372.62 554.79 373.11 553.35 373.6 551.91 374.09 550.49 374.58 549.09 375.07 547.72 375.56 546.39 376.05 545.11 376.54 543.88 377.03 542.71 377.52 541.6 378.01 540.57 378.5 539.62 378.99 538.76 379.48 537.99 379.97 537.31 380.46 536.74 380.95 536.27 381.44 535.9 381.93 535.65 382.42 535.51 382.91 535.47 383.4 535.55 383.89 535.74 384.38 536.04 384.87 536.45 385.36 536.96 385.85 537.57 386.34 538.27 386.83 539.06 387.32 539.94 387.81 540.89 388.3 541.92 388.79 543.01 389.28 544.16 389.77 545.35 390.26 546.59 390.75 547.86 391.24 549.16 391.73 550.48 392.22 551.8 392.71 553.13 393.2 554.45 393.69 555.76 394.18 557.05 394.67 558.32 395.16 559.55 395.65 560.75 396.14 561.91 396.63 563.02 397.12 564.08 397.61 565.08 398.1 566.03 398.59 566.92 399.08 567.74 399.57 568.5 400.06 569.19 400.55 569.82 401.04 570.37 401.53 570.86 402.02 571.29 402.51 571.64 403 571.93 403.49 572.15 403.98 572.31 404.47 572.4 404.96 572.43 405.45 572.4 405.94 572.32 406.43 572.18 406.92 571.99 407.41 571.74 407.9 571.45 408.39 571.11 408.88 570.73 409.37 570.31 409.86 569.85 410.35 569.35 410.84 568.82 411.33 568.26 411.82 567.67 412.31 567.05 412.8 566.41 413.29 565.75 413.78 565.07 414.27 564.38 414.76 563.68 415.25 562.96 415.74 562.24 416.23 561.51 416.72 560.78 417.21 560.05 417.7 559.32 418.19 558.6 418.68 557.88 419.17 557.18 419.66 556.48 420.15 555.8 420.64 555.14 421.13 554.5 421.62 553.87 422.11 553.27 422.6 552.7 423.09 552.15 423.58 551.63 424.07 551.15 424.56 550.69 425.05 550.27 425.54 549.89 426.03 549.54 426.52 549.23 427.01 548.95 427.5 548.72 427.99 548.53 428.48 548.39 428.97 548.28 429.46 548.21 429.95 548.19 430.44 548.22 430.93 548.28 431.42 548.39 431.91 548.54 432.4 548.73 432.89 548.96 433.38 549.23 433.87 549.54 434.36 549.89 434.85 550.28 435.34 550.7 435.83 551.16 436.32 551.65 436.81 552.17 437.3 552.73 437.79 553.31 438.28 553.91 438.77 554.54 439.26 555.2 439.75 555.87 440.24 556.56 440.73 557.27 441.22 557.99 441.71 558.73 442.2 559.48 442.69 560.23 443.18 560.99 443.67 561.76 444.16 562.53 444.65 563.3 445.14 564.07 445.63 564.84 446.12 565.6 446.61 566.36 447.1 567.11 447.59 567.85 448.08 568.58 448.57 569.3 449.06 570.01 449.55 570.71 450.04 571.39 450.53 572.06 451.02 572.71 451.51 573.34 452 573.96 452.49 574.56 452.98 575.14 453.47 575.7 453.96 576.25 454.45 576.77 454.94 577.28 455.43 577.76 455.92 578.23 456.41 578.68 456.9 579.11 457.39 579.52 457.88 579.91 458.37 580.29 458.86 580.64 459.35 580.98 459.84 581.3 460.33 581.61 460.82 581.9 461.31 582.17 461.8 582.43 462.29 582.67 462.78 582.9 463.27 583.11 463.76 583.32 464.25 583.5 464.74 583.68 465.23 583.85 465.72 584 466.21 584.15 466.7 584.28 467.19 584.41 467.68 584.52 468.17 584.63 468.66 584.73 469.15 584.82 469.64 584.91 470.13 584.99 470.62 585.06 471.11 585.13 471.6 585.19 472.09 585.25 472.58 585.3 473.07 585.35 473.56 585.39 474.05 585.43 474.54 585.47 475.03 585.5 475.52 585.53 476.01 585.56 476.5 585.58 476.99 585.6 477.48 585.62 477.97 585.64 478.46 585.66 478.95 585.68 479.44 585.69 479.93 585.7 480.42 585.71 480.91 585.72 481.4 585.73 481.89 585.74 482.38 585.75 482.87 585.75 483.36 585.76 483.85 585.76 484.34 585.77 484.83 585.77 485.32 585.77 485.81 585.78 486.3 585.78 486.79 585.78 487.28 585.78 487.77 585.79 488.26 585.79 488.75 585.79 489.24 585.79 489.73 585.79 490.22 585.79 490.71 585.79" fill="none" stroke="#000" stroke-width="2" stroke-linejoin="round" />
<line x1="344.2" y1="487.4" x2="344.2" y2="585.8" stroke="#1a1a1a" stroke-width="1.1" />
<line x1="344.2" y1="585.8" x2="347.2" y2="585.8" stroke="#1a1a1a" stroke-width="1.1" />
<line x1="344.2" y1="564" x2="347.2" y2="564" stroke="#1a1a1a" stroke-width="1.1" />
<line x1="344.2" y1="542.2" x2="347.2" y2="542.2" stroke="#1a1a1a" stroke-width="1.1" />
<line x1="344.2" y1="520.4" x2="347.2" y2="520.4" stroke="#1a1a1a" stroke-width="1.1" />
<line x1="344.2" y1="498.6" x2="347.2" y2="498.6" stroke="#1a1a1a" stroke-width="1.1" />
<line x1="344.2" y1="574.9" x2="346" y2="574.9" stroke="#1a1a1a" stroke-width="1.1" />
<line x1="344.2" y1="553.1" x2="346" y2="553.1" stroke="#1a1a1a" stroke-width="1.1" />
<line x1="344.2" y1="531.3" x2="346" y2="531.3" stroke="#1a1a1a" stroke-width="1.1" />
<line x1="344.2" y1="509.5" x2="346" y2="509.5" stroke="#1a1a1a" stroke-width="1.1" />
<line x1="344.2" y1="487.7" x2="346" y2="487.7" stroke="#1a1a1a" stroke-width="1.1" />
<line x1="344.2" y1="585.8" x2="490.22" y2="585.8" stroke="#1a1a1a" stroke-width="1.1" />
<line x1="368.21" y1="585.8" x2="368.21" y2="582.8" stroke="#1a1a1a" stroke-width="1.1" />
<line x1="417.21" y1="585.8" x2="417.21" y2="582.8" stroke="#1a1a1a" stroke-width="1.1" />
<line x1="466.21" y1="585.8" x2="466.21" y2="582.8" stroke="#1a1a1a" stroke-width="1.1" />
<line x1="358.41" y1="585.8" x2="358.41" y2="584" stroke="#1a1a1a" stroke-width="1.1" />
<line x1="378.01" y1="585.8" x2="378.01" y2="584" stroke="#1a1a1a" stroke-width="1.1" />
<line x1="387.81" y1="585.8" x2="387.81" y2="584" stroke="#1a1a1a" stroke-width="1.1" />
<line x1="397.61" y1="585.8" x2="397.61" y2="584" stroke="#1a1a1a" stroke-width="1.1" />
<line x1="407.41" y1="585.8" x2="407.41" y2="584" stroke="#1a1a1a" stroke-width="1.1" />
<line x1="427.01" y1="585.8" x2="427.01" y2="584" stroke="#1a1a1a" stroke-width="1.1" />
<line x1="436.81" y1="585.8" x2="436.81" y2="584" stroke="#1a1a1a" stroke-width="1.1" />
<line x1="446.61" y1="585.8" x2="446.61" y2="584" stroke="#1a1a1a" stroke-width="1.1" />
<line x1="456.41" y1="585.8" x2="456.41" y2="584" stroke="#1a1a1a" stroke-width="1.1" />
<line x1="476.01" y1="585.8" x2="476.01" y2="584" stroke="#1a1a1a" stroke-width="1.1" />
<line x1="485.81" y1="585.8" x2="485.81" y2="584" stroke="#1a1a1a" stroke-width="1.1" />
<g clip-path="url(#hc7)"><g filter="url(#jet)"><rect x="551.8" y="236.7" width="97.9" height="97.6" fill="#000"/><ellipse cx="0" cy="0" rx="19.8" ry="7.2" fill="url(#bg1)" transform="translate(569 317.1) rotate(-45)"/><ellipse cx="0" cy="0" rx="25.5" ry="12.6" fill="url(#bg2)" transform="translate(569 317.1) rotate(-45)"/><ellipse cx="0" cy="0" rx="15" ry="15" fill="url(#bg3)" transform="translate(573.8 277.2) rotate(0)"/><ellipse cx="0" cy="0" rx="7.5" ry="7.5" fill="url(#bg4)" transform="translate(585 284) rotate(0)"/><ellipse cx="0" cy="0" rx="18" ry="18" fill="url(#bg5)" transform="translate(608 311.4) rotate(0)"/><ellipse cx="0" cy="0" rx="12" ry="12" fill="url(#bg6)" transform="translate(602.9 301.7) rotate(0)"/></g></g>
<line x1="551.8" y1="330.6" x2="555.8" y2="330.6" stroke="#000033" stroke-width="1" />
<line x1="556.6" y1="334.3" x2="556.6" y2="330.8" stroke="#000033" stroke-width="1" />
<line x1="551.8" y1="312.6" x2="555.8" y2="312.6" stroke="#000033" stroke-width="1" />
<line x1="574.36" y1="334.3" x2="574.36" y2="330.8" stroke="#000033" stroke-width="1" />
<line x1="551.8" y1="294.6" x2="555.8" y2="294.6" stroke="#000033" stroke-width="1" />
<line x1="592.12" y1="334.3" x2="592.12" y2="330.8" stroke="#000033" stroke-width="1" />
<line x1="551.8" y1="276.6" x2="555.8" y2="276.6" stroke="#000033" stroke-width="1" />
<line x1="609.88" y1="334.3" x2="609.88" y2="330.8" stroke="#000033" stroke-width="1" />
<line x1="551.8" y1="258.6" x2="555.8" y2="258.6" stroke="#000033" stroke-width="1" />
<line x1="627.64" y1="334.3" x2="627.64" y2="330.8" stroke="#000033" stroke-width="1" />
<line x1="551.8" y1="240.6" x2="555.8" y2="240.6" stroke="#000033" stroke-width="1" />
<line x1="645.4" y1="334.3" x2="645.4" y2="330.8" stroke="#000033" stroke-width="1" />
<line x1="551.8" y1="334.3" x2="649.7" y2="236.7" stroke="#fff" stroke-width="2.4" stroke-dasharray="13.3 3.3"/>
<rect x="654" y="236.7" width="5.6" height="97.6" fill="url(#jetbar)"/>
<g clip-path="url(#hc18)"><g filter="url(#jet)"><rect x="551.3" y="365.5" width="94.5" height="97.4" fill="#000"/><ellipse cx="0" cy="0" rx="15" ry="10.2" fill="url(#bg8)" transform="translate(571.2 402.1) rotate(-62)"/><ellipse cx="0" cy="0" rx="27" ry="13.8" fill="url(#bg9)" transform="translate(570 405) rotate(-64)"/><ellipse cx="0" cy="0" rx="12" ry="9" fill="url(#bg10)" transform="translate(567 413) rotate(-70)"/><ellipse cx="0" cy="0" rx="15" ry="8.4" fill="url(#bg11)" transform="translate(565.3 446.7) rotate(-45)"/><ellipse cx="0" cy="0" rx="21" ry="12" fill="url(#bg12)" transform="translate(565.3 446.7) rotate(-45)"/><ellipse cx="0" cy="0" rx="16.8" ry="10.2" fill="url(#bg13)" transform="translate(609.1 442) rotate(-18)"/><ellipse cx="0" cy="0" rx="27" ry="15" fill="url(#bg14)" transform="translate(605 444) rotate(-18)"/><ellipse cx="0" cy="0" rx="15" ry="10.5" fill="url(#bg15)" transform="translate(595 448) rotate(-10)"/><ellipse cx="0" cy="0" rx="12" ry="12" fill="url(#bg16)" transform="translate(584 383) rotate(0)"/><ellipse cx="0" cy="0" rx="15" ry="15" fill="url(#bg17)" transform="translate(627 424) rotate(0)"/></g></g>
<line x1="551.3" y1="459" x2="555.3" y2="459" stroke="#000033" stroke-width="1" />
<line x1="555.4" y1="462.9" x2="555.4" y2="459.4" stroke="#000033" stroke-width="1" />
<line x1="551.3" y1="441.2" x2="555.3" y2="441.2" stroke="#000033" stroke-width="1" />
<line x1="572.52" y1="462.9" x2="572.52" y2="459.4" stroke="#000033" stroke-width="1" />
<line x1="551.3" y1="423.4" x2="555.3" y2="423.4" stroke="#000033" stroke-width="1" />
<line x1="589.64" y1="462.9" x2="589.64" y2="459.4" stroke="#000033" stroke-width="1" />
<line x1="551.3" y1="405.6" x2="555.3" y2="405.6" stroke="#000033" stroke-width="1" />
<line x1="606.76" y1="462.9" x2="606.76" y2="459.4" stroke="#000033" stroke-width="1" />
<line x1="551.3" y1="387.8" x2="555.3" y2="387.8" stroke="#000033" stroke-width="1" />
<line x1="623.88" y1="462.9" x2="623.88" y2="459.4" stroke="#000033" stroke-width="1" />
<line x1="551.3" y1="370" x2="555.3" y2="370" stroke="#000033" stroke-width="1" />
<line x1="641" y1="462.9" x2="641" y2="459.4" stroke="#000033" stroke-width="1" />
<line x1="551.3" y1="462.9" x2="645.8" y2="365.5" stroke="#fff" stroke-width="1.4" stroke-dasharray="13.6 2.6"/>
<rect x="650" y="365.5" width="5.4" height="97.4" fill="url(#jetbar)"/>
<g clip-path="url(#hc27)"><g filter="url(#jet)"><rect x="552.4" y="491.4" width="94.6" height="96.2" fill="#000"/><ellipse cx="0" cy="0" rx="15.6" ry="10.8" fill="url(#bg19)" transform="translate(573.4 528.1) rotate(-58)"/><ellipse cx="0" cy="0" rx="25.5" ry="15" fill="url(#bg20)" transform="translate(572 530.5) rotate(-60)"/><ellipse cx="0" cy="0" rx="18" ry="6.6" fill="url(#bg21)" transform="translate(569.5 570) rotate(-42)"/><ellipse cx="0" cy="0" rx="24" ry="10.5" fill="url(#bg22)" transform="translate(569.5 570) rotate(-42)"/><ellipse cx="0" cy="0" rx="15.6" ry="11.4" fill="url(#bg23)" transform="translate(610.6 565.4) rotate(-35)"/><ellipse cx="0" cy="0" rx="27" ry="16.5" fill="url(#bg24)" transform="translate(612 563.5) rotate(-35)"/><ellipse cx="0" cy="0" rx="21" ry="15" fill="url(#bg25)" transform="translate(619 556) rotate(-40)"/><ellipse cx="0" cy="0" rx="12" ry="12" fill="url(#bg26)" transform="translate(598 556) rotate(0)"/></g></g>
<line x1="552.4" y1="583.4" x2="556.4" y2="583.4" stroke="#000033" stroke-width="1" />
<line x1="557" y1="587.6" x2="557" y2="584.1" stroke="#000033" stroke-width="1" />
<line x1="552.4" y1="565.92" x2="556.4" y2="565.92" stroke="#000033" stroke-width="1" />
<line x1="574.08" y1="587.6" x2="574.08" y2="584.1" stroke="#000033" stroke-width="1" />
<line x1="552.4" y1="548.44" x2="556.4" y2="548.44" stroke="#000033" stroke-width="1" />
<line x1="591.16" y1="587.6" x2="591.16" y2="584.1" stroke="#000033" stroke-width="1" />
<line x1="552.4" y1="530.96" x2="556.4" y2="530.96" stroke="#000033" stroke-width="1" />
<line x1="608.24" y1="587.6" x2="608.24" y2="584.1" stroke="#000033" stroke-width="1" />
<line x1="552.4" y1="513.48" x2="556.4" y2="513.48" stroke="#000033" stroke-width="1" />
<line x1="625.32" y1="587.6" x2="625.32" y2="584.1" stroke="#000033" stroke-width="1" />
<line x1="552.4" y1="496" x2="556.4" y2="496" stroke="#000033" stroke-width="1" />
<line x1="642.4" y1="587.6" x2="642.4" y2="584.1" stroke="#000033" stroke-width="1" />
<line x1="552.4" y1="587.6" x2="647" y2="491.4" stroke="#fff" stroke-width="1.4" stroke-dasharray="13.6 2.6"/>
<rect x="651.6" y="491.4" width="5.4" height="96.2" fill="url(#jetbar)"/>
<rect x="423.2" y="9.3" width="226.8" height="164.2" fill="none" stroke="#1a1a1a" stroke-width="1.2"/>
<line x1="423.2" y1="163.6" x2="419.7" y2="163.6" stroke="#1a1a1a" stroke-width="1.1" />
<line x1="650" y1="163.6" x2="646.5" y2="163.6" stroke="#1a1a1a" stroke-width="1.1" />
<line x1="423.2" y1="125.03" x2="419.7" y2="125.03" stroke="#1a1a1a" stroke-width="1.1" />
<line x1="650" y1="125.03" x2="646.5" y2="125.03" stroke="#1a1a1a" stroke-width="1.1" />
<line x1="423.2" y1="86.45" x2="419.7" y2="86.45" stroke="#1a1a1a" stroke-width="1.1" />
<line x1="650" y1="86.45" x2="646.5" y2="86.45" stroke="#1a1a1a" stroke-width="1.1" />
<line x1="423.2" y1="47.88" x2="419.7" y2="47.88" stroke="#1a1a1a" stroke-width="1.1" />
<line x1="650" y1="47.88" x2="646.5" y2="47.88" stroke="#1a1a1a" stroke-width="1.1" />
<line x1="423.2" y1="9.3" x2="419.7" y2="9.3" stroke="#1a1a1a" stroke-width="1.1" />
<line x1="650" y1="9.3" x2="646.5" y2="9.3" stroke="#1a1a1a" stroke-width="1.1" />
<line x1="423.2" y1="144.31" x2="421.2" y2="144.31" stroke="#1a1a1a" stroke-width="1.1" />
<line x1="650" y1="144.31" x2="648" y2="144.31" stroke="#1a1a1a" stroke-width="1.1" />
<line x1="423.2" y1="105.74" x2="421.2" y2="105.74" stroke="#1a1a1a" stroke-width="1.1" />
<line x1="650" y1="105.74" x2="648" y2="105.74" stroke="#1a1a1a" stroke-width="1.1" />
<line x1="423.2" y1="67.16" x2="421.2" y2="67.16" stroke="#1a1a1a" stroke-width="1.1" />
<line x1="650" y1="67.16" x2="648" y2="67.16" stroke="#1a1a1a" stroke-width="1.1" />
<line x1="423.2" y1="28.59" x2="421.2" y2="28.59" stroke="#1a1a1a" stroke-width="1.1" />
<line x1="650" y1="28.59" x2="648" y2="28.59" stroke="#1a1a1a" stroke-width="1.1" />
<line x1="442.8" y1="173.5" x2="442.8" y2="177" stroke="#1a1a1a" stroke-width="1.1" />
<line x1="442.8" y1="9.3" x2="442.8" y2="12.8" stroke="#1a1a1a" stroke-width="1.1" />
<line x1="508.4" y1="173.5" x2="508.4" y2="177" stroke="#1a1a1a" stroke-width="1.1" />
<line x1="508.4" y1="9.3" x2="508.4" y2="12.8" stroke="#1a1a1a" stroke-width="1.1" />
<line x1="574" y1="173.5" x2="574" y2="177" stroke="#1a1a1a" stroke-width="1.1" />
<line x1="574" y1="9.3" x2="574" y2="12.8" stroke="#1a1a1a" stroke-width="1.1" />
<line x1="639.6" y1="173.5" x2="639.6" y2="177" stroke="#1a1a1a" stroke-width="1.1" />
<line x1="639.6" y1="9.3" x2="639.6" y2="12.8" stroke="#1a1a1a" stroke-width="1.1" />
<line x1="428.25" y1="173.5" x2="428.25" y2="175.5" stroke="#1a1a1a" stroke-width="1" />
<line x1="428.25" y1="9.3" x2="428.25" y2="11.3" stroke="#1a1a1a" stroke-width="1" />
<line x1="432.64" y1="173.5" x2="432.64" y2="175.5" stroke="#1a1a1a" stroke-width="1" />
<line x1="432.64" y1="9.3" x2="432.64" y2="11.3" stroke="#1a1a1a" stroke-width="1" />
<line x1="436.44" y1="173.5" x2="436.44" y2="175.5" stroke="#1a1a1a" stroke-width="1" />
<line x1="436.44" y1="9.3" x2="436.44" y2="11.3" stroke="#1a1a1a" stroke-width="1" />
<line x1="439.8" y1="173.5" x2="439.8" y2="175.5" stroke="#1a1a1a" stroke-width="1" />
<line x1="439.8" y1="9.3" x2="439.8" y2="11.3" stroke="#1a1a1a" stroke-width="1" />
<line x1="462.55" y1="173.5" x2="462.55" y2="175.5" stroke="#1a1a1a" stroke-width="1" />
<line x1="462.55" y1="9.3" x2="462.55" y2="11.3" stroke="#1a1a1a" stroke-width="1" />
<line x1="474.1" y1="173.5" x2="474.1" y2="175.5" stroke="#1a1a1a" stroke-width="1" />
<line x1="474.1" y1="9.3" x2="474.1" y2="11.3" stroke="#1a1a1a" stroke-width="1" />
<line x1="482.3" y1="173.5" x2="482.3" y2="175.5" stroke="#1a1a1a" stroke-width="1" />
<line x1="482.3" y1="9.3" x2="482.3" y2="11.3" stroke="#1a1a1a" stroke-width="1" />
<line x1="488.65" y1="173.5" x2="488.65" y2="175.5" stroke="#1a1a1a" stroke-width="1" />
<line x1="488.65" y1="9.3" x2="488.65" y2="11.3" stroke="#1a1a1a" stroke-width="1" />
<line x1="493.85" y1="173.5" x2="493.85" y2="175.5" stroke="#1a1a1a" stroke-width="1" />
<line x1="493.85" y1="9.3" x2="493.85" y2="11.3" stroke="#1a1a1a" stroke-width="1" />
<line x1="498.24" y1="173.5" x2="498.24" y2="175.5" stroke="#1a1a1a" stroke-width="1" />
<line x1="498.24" y1="9.3" x2="498.24" y2="11.3" stroke="#1a1a1a" stroke-width="1" />
<line x1="502.04" y1="173.5" x2="502.04" y2="175.5" stroke="#1a1a1a" stroke-width="1" />
<line x1="502.04" y1="9.3" x2="502.04" y2="11.3" stroke="#1a1a1a" stroke-width="1" />
<line x1="505.4" y1="173.5" x2="505.4" y2="175.5" stroke="#1a1a1a" stroke-width="1" />
<line x1="505.4" y1="9.3" x2="505.4" y2="11.3" stroke="#1a1a1a" stroke-width="1" />
<line x1="528.15" y1="173.5" x2="528.15" y2="175.5" stroke="#1a1a1a" stroke-width="1" />
<line x1="528.15" y1="9.3" x2="528.15" y2="11.3" stroke="#1a1a1a" stroke-width="1" />
<line x1="539.7" y1="173.5" x2="539.7" y2="175.5" stroke="#1a1a1a" stroke-width="1" />
<line x1="539.7" y1="9.3" x2="539.7" y2="11.3" stroke="#1a1a1a" stroke-width="1" />
<line x1="547.9" y1="173.5" x2="547.9" y2="175.5" stroke="#1a1a1a" stroke-width="1" />
<line x1="547.9" y1="9.3" x2="547.9" y2="11.3" stroke="#1a1a1a" stroke-width="1" />
<line x1="554.25" y1="173.5" x2="554.25" y2="175.5" stroke="#1a1a1a" stroke-width="1" />
<line x1="554.25" y1="9.3" x2="554.25" y2="11.3" stroke="#1a1a1a" stroke-width="1" />
<line x1="559.45" y1="173.5" x2="559.45" y2="175.5" stroke="#1a1a1a" stroke-width="1" />
<line x1="559.45" y1="9.3" x2="559.45" y2="11.3" stroke="#1a1a1a" stroke-width="1" />
<line x1="563.84" y1="173.5" x2="563.84" y2="175.5" stroke="#1a1a1a" stroke-width="1" />
<line x1="563.84" y1="9.3" x2="563.84" y2="11.3" stroke="#1a1a1a" stroke-width="1" />
<line x1="567.64" y1="173.5" x2="567.64" y2="175.5" stroke="#1a1a1a" stroke-width="1" />
<line x1="567.64" y1="9.3" x2="567.64" y2="11.3" stroke="#1a1a1a" stroke-width="1" />
<line x1="571" y1="173.5" x2="571" y2="175.5" stroke="#1a1a1a" stroke-width="1" />
<line x1="571" y1="9.3" x2="571" y2="11.3" stroke="#1a1a1a" stroke-width="1" />
<line x1="593.75" y1="173.5" x2="593.75" y2="175.5" stroke="#1a1a1a" stroke-width="1" />
<line x1="593.75" y1="9.3" x2="593.75" y2="11.3" stroke="#1a1a1a" stroke-width="1" />
<line x1="605.3" y1="173.5" x2="605.3" y2="175.5" stroke="#1a1a1a" stroke-width="1" />
<line x1="605.3" y1="9.3" x2="605.3" y2="11.3" stroke="#1a1a1a" stroke-width="1" />
<line x1="613.5" y1="173.5" x2="613.5" y2="175.5" stroke="#1a1a1a" stroke-width="1" />
<line x1="613.5" y1="9.3" x2="613.5" y2="11.3" stroke="#1a1a1a" stroke-width="1" />
<line x1="619.85" y1="173.5" x2="619.85" y2="175.5" stroke="#1a1a1a" stroke-width="1" />
<line x1="619.85" y1="9.3" x2="619.85" y2="11.3" stroke="#1a1a1a" stroke-width="1" />
<line x1="625.05" y1="173.5" x2="625.05" y2="175.5" stroke="#1a1a1a" stroke-width="1" />
<line x1="625.05" y1="9.3" x2="625.05" y2="11.3" stroke="#1a1a1a" stroke-width="1" />
<line x1="629.44" y1="173.5" x2="629.44" y2="175.5" stroke="#1a1a1a" stroke-width="1" />
<line x1="629.44" y1="9.3" x2="629.44" y2="11.3" stroke="#1a1a1a" stroke-width="1" />
<line x1="633.24" y1="173.5" x2="633.24" y2="175.5" stroke="#1a1a1a" stroke-width="1" />
<line x1="633.24" y1="9.3" x2="633.24" y2="11.3" stroke="#1a1a1a" stroke-width="1" />
<line x1="636.6" y1="173.5" x2="636.6" y2="175.5" stroke="#1a1a1a" stroke-width="1" />
<line x1="636.6" y1="9.3" x2="636.6" y2="11.3" stroke="#1a1a1a" stroke-width="1" />
<circle cx="442.8" cy="161.67" r="4.4" fill="#000"/>
<circle cx="488.65" cy="159.74" r="4.4" fill="#000"/>
<circle cx="508.4" cy="153.96" r="4.4" fill="#000"/>
<circle cx="534.5" cy="138.53" r="4.4" fill="#000"/>
<circle cx="554.25" cy="107.67" r="4.4" fill="#000"/>
<circle cx="574" cy="67.16" r="4.4" fill="#000"/>
<circle cx="639.6" cy="29.56" r="4.4" fill="#000"/>
<path d="M442.8 163.46 443.79 163.45 444.78 163.45 445.77 163.44 446.76 163.43 447.74 163.42 448.73 163.41 449.72 163.39 450.71 163.38 451.7 163.37 452.69 163.35 453.68 163.34 454.67 163.32 455.66 163.31 456.65 163.29 457.63 163.27 458.62 163.25 459.61 163.23 460.6 163.21 461.59 163.18 462.58 163.16 463.57 163.13 464.56 163.1 465.55 163.07 466.53 163.04 467.52 163.01 468.51 162.97 469.5 162.94 470.49 162.9 471.48 162.85 472.47 162.81 473.46 162.76 474.45 162.71 475.44 162.66 476.42 162.6 477.41 162.54 478.4 162.48 479.39 162.41 480.38 162.34 481.37 162.26 482.36 162.18 483.35 162.1 484.34 162.01 485.32 161.91 486.31 161.81 487.3 161.71 488.29 161.59 489.28 161.47 490.27 161.35 491.26 161.21 492.25 161.07 493.24 160.92 494.23 160.76 495.21 160.6 496.2 160.42 497.19 160.23 498.18 160.03 499.17 159.83 500.16 159.6 501.15 159.37 502.14 159.12 503.13 158.86 504.11 158.59 505.1 158.3 506.09 157.99 507.08 157.66 508.07 157.32 509.06 156.96 510.05 156.58 511.04 156.18 512.03 155.76 513.02 155.31 514 154.85 514.99 154.35 515.98 153.83 516.97 153.29 517.96 152.72 518.95 152.12 519.94 151.48 520.93 150.82 521.92 150.13 522.9 149.4 523.89 148.64 524.88 147.84 525.87 147 526.86 146.13 527.85 145.22 528.84 144.27 529.83 143.27 530.82 142.24 531.81 141.17 532.79 140.05 533.78 138.88 534.77 137.68 535.76 136.43 536.75 135.13 537.74 133.79 538.73 132.41 539.72 130.98 540.71 129.51 541.69 127.99 542.68 126.43 543.67 124.83 544.66 123.19 545.65 121.51 546.64 119.8 547.63 118.05 548.62 116.26 549.61 114.44 550.59 112.6 551.58 110.72 552.57 108.83 553.56 106.91 554.55 104.97 555.54 103.02 556.53 101.06 557.52 99.09 558.51 97.11 559.5 95.14 560.48 93.16 561.47 91.19 562.46 89.23 563.45 87.28 564.44 85.35 565.43 83.43 566.42 81.53 567.41 79.66 568.4 77.82 569.38 76 570.37 74.22 571.36 72.47 572.35 70.76 573.34 69.08 574.33 67.44 575.32 65.84 576.31 64.29 577.3 62.78 578.29 61.31 579.27 59.88 580.26 58.5 581.25 57.16 582.24 55.87 583.23 54.62 584.22 53.42 585.21 52.26 586.2 51.15 587.19 50.07 588.17 49.04 589.16 48.05 590.15 47.1 591.14 46.19 592.13 45.32 593.12 44.49 594.11 43.7 595.1 42.94 596.09 42.21 597.08 41.52 598.06 40.86 599.05 40.23 600.04 39.63 601.03 39.06 602.02 38.51 603.01 38 604 37.51 604.99 37.04 605.98 36.6 606.96 36.18 607.95 35.78 608.94 35.4 609.93 35.04 610.92 34.7 611.91 34.37 612.9 34.07 613.89 33.78 614.88 33.5 615.87 33.24 616.85 33 617.84 32.76 618.83 32.54 619.82 32.34 620.81 32.14 621.8 31.95 622.79 31.78 623.78 31.61 624.77 31.45 625.75 31.3 626.74 31.16 627.73 31.03 628.72 30.9 629.71 30.78 630.7 30.67 631.69 30.56 632.68 30.46 633.67 30.37 634.66 30.28 635.64 30.2 636.63 30.12 637.62 30.04 638.61 29.97 639.6 29.9" fill="none" stroke="#f50000" stroke-width="3.2" stroke-linejoin="round" stroke-linecap="butt"/>
<line x1="40.4" y1="649" x2="40.4" y2="725.6" stroke="#1a1a1a" stroke-width="1.1" />
<line x1="40.4" y1="717" x2="37.4" y2="717" stroke="#1a1a1a" stroke-width="1.1" />
<line x1="40.4" y1="700.25" x2="37.4" y2="700.25" stroke="#1a1a1a" stroke-width="1.1" />
<line x1="40.4" y1="683.5" x2="37.4" y2="683.5" stroke="#1a1a1a" stroke-width="1.1" />
<line x1="40.4" y1="666.75" x2="37.4" y2="666.75" stroke="#1a1a1a" stroke-width="1.1" />
<line x1="40.4" y1="650" x2="37.4" y2="650" stroke="#1a1a1a" stroke-width="1.1" />
<line x1="40.4" y1="708.62" x2="38.6" y2="708.62" stroke="#1a1a1a" stroke-width="1.1" />
<line x1="40.4" y1="691.88" x2="38.6" y2="691.88" stroke="#1a1a1a" stroke-width="1.1" />
<line x1="40.4" y1="675.12" x2="38.6" y2="675.12" stroke="#1a1a1a" stroke-width="1.1" />
<line x1="40.4" y1="658.38" x2="38.6" y2="658.38" stroke="#1a1a1a" stroke-width="1.1" />
<line x1="40.4" y1="755.6" x2="40.4" y2="831.6" stroke="#1a1a1a" stroke-width="1.1" />
<line x1="40.4" y1="827" x2="37.4" y2="827" stroke="#1a1a1a" stroke-width="1.1" />
<line x1="40.4" y1="801.5" x2="37.4" y2="801.5" stroke="#1a1a1a" stroke-width="1.1" />
<line x1="40.4" y1="776" x2="37.4" y2="776" stroke="#1a1a1a" stroke-width="1.1" />
<line x1="40.4" y1="814.25" x2="38.6" y2="814.25" stroke="#1a1a1a" stroke-width="1.1" />
<line x1="40.4" y1="788.75" x2="38.6" y2="788.75" stroke="#1a1a1a" stroke-width="1.1" />
<line x1="40.4" y1="763.25" x2="38.6" y2="763.25" stroke="#1a1a1a" stroke-width="1.1" />
<line x1="40.4" y1="725.6" x2="214" y2="725.6" stroke="#1a1a1a" stroke-width="1.1" />
<line x1="40.4" y1="725.6" x2="40.4" y2="728.6" stroke="#1a1a1a" stroke-width="1.1" />
<line x1="88.2" y1="725.6" x2="88.2" y2="728.6" stroke="#1a1a1a" stroke-width="1.1" />
<line x1="136" y1="725.6" x2="136" y2="728.6" stroke="#1a1a1a" stroke-width="1.1" />
<line x1="64.3" y1="725.6" x2="64.3" y2="727.6" stroke="#1a1a1a" stroke-width="1.1" />
<line x1="112.1" y1="725.6" x2="112.1" y2="727.6" stroke="#1a1a1a" stroke-width="1.1" />
<line x1="169.5" y1="725.6" x2="169.5" y2="728.6" stroke="#1a1a1a" stroke-width="1.1" />
<rect x="158.5" y="722.6" width="4" height="6" fill="#fff"/>
<line x1="157.8" y1="728.4" x2="160.8" y2="722.8" stroke="#1a1a1a" stroke-width="1" />
<line x1="160.6" y1="728.4" x2="163.6" y2="722.8" stroke="#1a1a1a" stroke-width="1" />
<line x1="40.4" y1="831.6" x2="214" y2="831.6" stroke="#1a1a1a" stroke-width="1.1" />
<line x1="40.4" y1="831.6" x2="40.4" y2="834.6" stroke="#1a1a1a" stroke-width="1.1" />
<line x1="88.2" y1="831.6" x2="88.2" y2="834.6" stroke="#1a1a1a" stroke-width="1.1" />
<line x1="136" y1="831.6" x2="136" y2="834.6" stroke="#1a1a1a" stroke-width="1.1" />
<line x1="64.3" y1="831.6" x2="64.3" y2="833.6" stroke="#1a1a1a" stroke-width="1.1" />
<line x1="112.1" y1="831.6" x2="112.1" y2="833.6" stroke="#1a1a1a" stroke-width="1.1" />
<line x1="169.5" y1="831.6" x2="169.5" y2="834.6" stroke="#1a1a1a" stroke-width="1.1" />
<rect x="158.5" y="828.6" width="4" height="6" fill="#fff"/>
<line x1="157.8" y1="834.4" x2="160.8" y2="828.8" stroke="#1a1a1a" stroke-width="1" />
<line x1="160.6" y1="834.4" x2="163.6" y2="828.8" stroke="#1a1a1a" stroke-width="1" />
<line x1="177" y1="642" x2="177" y2="655" stroke="#8a8a8a" stroke-width="1.8" />
<line x1="177" y1="669" x2="177" y2="681.6" stroke="#8a8a8a" stroke-width="1.8" />
<line x1="177" y1="695" x2="177" y2="708" stroke="#8a8a8a" stroke-width="1.8" />
<line x1="177" y1="758" x2="177" y2="770" stroke="#8a8a8a" stroke-width="1.8" />
<line x1="177" y1="784.4" x2="177" y2="796.4" stroke="#8a8a8a" stroke-width="1.8" />
<line x1="177" y1="810.6" x2="177" y2="823.4" stroke="#8a8a8a" stroke-width="1.8" />
<circle cx="49.96" cy="711.98" r="3.05" fill="#f01010"/>
<circle cx="64.3" cy="711.14" r="3.05" fill="#f01010"/>
<circle cx="88.2" cy="713.23" r="3.05" fill="#f01010"/>
<circle cx="136" cy="710.72" r="3.05" fill="#f01010"/>
<circle cx="169.5" cy="711.14" r="3.05" fill="#f01010"/>
<circle cx="88.2" cy="697.74" r="3.05" fill="#1010f0"/>
<circle cx="136" cy="665.08" r="3.05" fill="#1010f0"/>
<circle cx="169.5" cy="670.4" r="3.05" fill="#1010f0"/>
<path d="M185.4 665.3L190.5 670.4L185.4 675.5L180.3 670.4Z" fill="#1010f0"/>
<path d="M185.4 707.9L190.5 713L185.4 718.1L180.3 713Z" fill="#f01010"/>
<path d="M196.4 664.8L206 664.8L201.2 672.48Z" fill="#1010f0"/>
<path d="M196.4 703.4L206 703.4L201.2 711.08Z" fill="#f01010"/>
<circle cx="49.96" cy="763" r="3.05" fill="#1010f0"/>
<circle cx="64.3" cy="777.4" r="3.05" fill="#1010f0"/>
<circle cx="88.2" cy="798.4" r="3.05" fill="#1010f0"/>
<circle cx="136" cy="807.6" r="3.05" fill="#1010f0"/>
<circle cx="169.5" cy="807.6" r="3.05" fill="#1010f0"/>
<circle cx="64.3" cy="819" r="3.05" fill="#f01010"/>
<circle cx="88.2" cy="819" r="3.05" fill="#f01010"/>
<circle cx="136" cy="820.4" r="3.05" fill="#f01010"/>
<circle cx="169.5" cy="824" r="3.05" fill="#f01010"/>
<path d="M185.8 801.9L190.9 807L185.8 812.1L180.7 807Z" fill="#1010f0"/>
<path d="M185.8 820.3L190.9 825.4L185.8 830.5L180.7 825.4Z" fill="#f01010"/>
<path d="M196.8 814.4L206.4 814.4L201.6 822.08Z" fill="#1010f0"/>
<path d="M196.8 822.8L206.4 822.8L201.6 830.48Z" fill="#f01010"/>
<line x1="262.4" y1="656" x2="262.4" y2="722.4" stroke="#1a1a1a" stroke-width="1.1" />
<line x1="262.4" y1="717" x2="265.4" y2="717" stroke="#1a1a1a" stroke-width="1.1" />
<line x1="262.4" y1="694.8" x2="265.4" y2="694.8" stroke="#1a1a1a" stroke-width="1.1" />
<line x1="262.4" y1="672.6" x2="265.4" y2="672.6" stroke="#1a1a1a" stroke-width="1.1" />
<line x1="262.4" y1="705.9" x2="264.2" y2="705.9" stroke="#1a1a1a" stroke-width="1.1" />
<line x1="262.4" y1="683.7" x2="264.2" y2="683.7" stroke="#1a1a1a" stroke-width="1.1" />
<line x1="262.4" y1="661.5" x2="264.2" y2="661.5" stroke="#1a1a1a" stroke-width="1.1" />
<line x1="262.4" y1="722.4" x2="412.4" y2="722.4" stroke="#1a1a1a" stroke-width="1.1" />
<line x1="262.4" y1="722.4" x2="262.4" y2="718.9" stroke="#1a1a1a" stroke-width="1.1" />
<line x1="292.4" y1="722.4" x2="292.4" y2="718.9" stroke="#1a1a1a" stroke-width="1.1" />
<line x1="322.4" y1="722.4" x2="322.4" y2="718.9" stroke="#1a1a1a" stroke-width="1.1" />
<line x1="352.4" y1="722.4" x2="352.4" y2="718.9" stroke="#1a1a1a" stroke-width="1.1" />
<line x1="382.4" y1="722.4" x2="382.4" y2="718.9" stroke="#1a1a1a" stroke-width="1.1" />
<line x1="412.4" y1="722.4" x2="412.4" y2="718.9" stroke="#1a1a1a" stroke-width="1.1" />
<line x1="277.4" y1="722.4" x2="277.4" y2="720.3" stroke="#1a1a1a" stroke-width="1.1" />
<line x1="307.4" y1="722.4" x2="307.4" y2="720.3" stroke="#1a1a1a" stroke-width="1.1" />
<line x1="337.4" y1="722.4" x2="337.4" y2="720.3" stroke="#1a1a1a" stroke-width="1.1" />
<line x1="367.4" y1="722.4" x2="367.4" y2="720.3" stroke="#1a1a1a" stroke-width="1.1" />
<line x1="397.4" y1="722.4" x2="397.4" y2="720.3" stroke="#1a1a1a" stroke-width="1.1" />
<path d="M262.7 678.79 262.91 683.34 263.13 670.14 263.34 679.57 263.56 706.44 263.77 675.2 263.99 682.77 264.2 680.83 264.41 683.96 264.63 680.72 264.84 682.37 265.06 678.62 265.27 681.32 265.49 683.22 265.7 681.99 265.91 681.29 266.13 682.87 266.34 677.03 266.56 678.1 266.77 680.22 266.99 685.6 267.2 698.78 267.41 685.96 267.63 680.06 267.84 680.62 268.06 683.18 268.27 684.15 268.49 683.61 268.7 672.55 268.91 681.88 269.13 681.64 269.34 676.95 269.56 679.13 269.77 676.56 269.99 685.75 270.2 685.19 270.41 667.42 270.63 680.98 270.84 681.98 271.06 680.17 271.27 676.83 271.49 685.59 271.7 679.68 271.91 680.93 272.13 678.11 272.34 680.12 272.56 682.95 272.77 684.29 272.99 690.59 273.2 676.88 273.41 686.71 273.63 682.43 273.84 674.14 274.06 682.49 274.27 678.36 274.49 681.66 274.7 704.1 274.91 680.7 275.13 682.86 275.34 675.4 275.56 681.88 275.77 686.18 275.99 682.13 276.2 678.66 276.41 685.28 276.63 703.75 276.84 703.83 277.06 698.4 277.27 709.47 277.49 704.25 277.7 713.59 277.91 708.58 278.13 680.4 278.34 679.19 278.56 681.04 278.77 681.18 278.99 683.27 279.2 682.6 279.41 679.6 279.63 678.58 279.84 678.26 280.06 676.84 280.27 676.07 280.49 688.02 280.7 682.9 280.91 707.55 281.13 709.48 281.34 702.72 281.56 703.91 281.77 681.25 281.99 680.33 282.2 675.77 282.41 682.21 282.63 682.07 282.84 677.2 283.06 678.94 283.27 675.15 283.49 679.34 283.7 677.83 283.91 682.99 284.13 684.57 284.34 680.85 284.56 691.41 284.77 679.19 284.99 676.94 285.2 680.51 285.41 707.78 285.63 702.57 285.84 680.99 286.06 702.99 286.27 698.16 286.49 702.31 286.7 677.08 286.91 678.85 287.13 679.81 287.34 679.72 287.56 680.55 287.77 676.5 287.99 687.24 288.2 692.18 288.41 678.2 288.63 684.18 288.84 681.23 289.06 683.58 289.27 679.06 289.49 677.37 289.7 701.11 289.91 704.9 290.13 709.76 290.34 679.81 290.56 678.55 290.77 675.2 290.99 689.35 291.2 679.34 291.41 688.09 291.63 677.97 291.84 679.04 292.06 678.83 292.27 677.29 292.49 679.28 292.7 683.39 292.91 679.42 293.13 676.04 293.34 707.36 293.56 706.79 293.77 711.72 293.99 676.2 294.2 682.82 294.41 683.77 294.63 708.68 294.84 710.32 295.06 681.81 295.27 675.74 295.49 677.66 295.7 675.15 295.91 700.99 296.13 684.37 296.34 678.9 296.56 674.86 296.77 671.69 296.99 686.44 297.2 686.48 297.41 678.95 297.63 682.15 297.84 684.77 298.06 705.39 298.27 710.04 298.49 715.92 298.7 680.91 298.91 680.32 299.13 681.66 299.34 677.09 299.56 680.1 299.77 681.76 299.99 683.47 300.2 713.46 300.41 682.57 300.63 678.05 300.84 678.24 301.06 672.68 301.27 707.52 301.49 714.01 301.7 677.55 301.91 676.71 302.13 685.48 302.34 687.25 302.56 680.23 302.77 678.01 302.99 685.29 303.2 682.19 303.41 683.92 303.63 685.54 303.84 686.07 304.06 706.37 304.27 682.32 304.49 683.51 304.7 691.21 304.91 673.9 305.13 684.6 305.34 681.39 305.56 685.37 305.77 679.35 305.99 686.85 306.2 680.48 306.41 681.6 306.63 677.21 306.84 685.21 307.06 683.44 307.27 681.8 307.49 672.54 307.7 686.72 307.91 679.71 308.13 683.47 308.34 679.63 308.56 678.27 308.77 680.31 308.99 705.91 309.2 705.85 309.41 709.29 309.63 707.82 309.84 713.55 310.06 682.29 310.27 683.93 310.49 681.89 310.7 677.96 310.91 679.36 311.13 679.01 311.34 676.5 311.56 716.44 311.77 679.18 311.99 680.98 312.2 685.37 312.41 686.08 312.63 678.71 312.84 676.33 313.06 676.81 313.27 681.24 313.49 704.44 313.7 677.23 313.91 673.66 314.13 694.26 314.34 680.34 314.56 706.61 314.77 706.32 314.99 682.03 315.2 682.87 315.41 677.84 315.63 683.65 315.84 684.09 316.06 679.49 316.27 683.18 316.49 681.88 316.7 689.15 316.91 677.75 317.13 680.93 317.34 707.5 317.56 705.15 317.77 706.16 317.99 683.69 318.2 672.95 318.41 682.7 318.63 677.04 318.84 673.64 319.06 709.46 319.27 706.62 319.49 710.25 319.7 702.83 319.91 721.6 320.13 711.37 320.34 701.77 320.56 703.35 320.77 710.53 320.99 702.3 321.2 706.22 321.41 696.21 321.63 674.1 321.84 683.12 322.06 681.99 322.27 684.4 322.49 680.39 322.7 680.73 322.91 677.99 323.13 680.57 323.34 686.76 323.56 684.14 323.77 675.3 323.99 676.33 324.2 681.56 324.41 681.46 324.63 681.59 324.84 680.83 325.06 687.59 325.27 677.37 325.49 683.54 325.7 706.42 325.91 717.05 326.13 679.99 326.34 675.61 326.56 715.89 326.77 674.89 326.99 679.05 327.2 709.92 327.41 713.31 327.63 676.3 327.84 679.89 328.06 678.57 328.27 682 328.49 684.09 328.7 677.46 328.91 684.72 329.13 677.34 329.34 687.57 329.56 710.69 329.77 686.7 329.99 675.72 330.2 713.97 330.41 711.54 330.63 704.38 330.84 706.1 331.06 698.29 331.27 699.69 331.49 704.55 331.7 704.27 331.91 714.27 332.13 710.52 332.34 708.32 332.56 707.72 332.77 699.58 332.99 684.63 333.2 684.3 333.41 676.7 333.63 679.23 333.84 682.25 334.06 682.02 334.27 679.77 334.49 683.7 334.7 681.97 334.91 687.78 335.13 678.26 335.34 677.1 335.56 679.48 335.77 679.03 335.99 679.47 336.2 672.8 336.41 706.2 336.63 712.28 336.84 711.19 337.06 704.18 337.27 702.76 337.49 677.86 337.7 677.58 337.91 680.19 338.13 686.86 338.34 683.76 338.56 688.14 338.77 682.47 338.99 686.37 339.2 680.55 339.41 681.61 339.63 688.71 339.84 678.02 340.06 677.9 340.27 686.49 340.49 680.36 340.7 678.08 340.91 682.1 341.13 677.53 341.34 680.19 341.56 690.65 341.77 680.21 341.99 681.61 342.2 678.91 342.41 677.82 342.63 679.96 342.84 682.75 343.06 684.12 343.27 682.45 343.49 683.26 343.7 680.15 343.91 680.29 344.13 681.31 344.34 680.98 344.56 680.28 344.77 674.7 344.99 676.16 345.2 683.29 345.41 679.29 345.63 708.38 345.84 707.46 346.06 681.96 346.27 683.49 346.49 686.44 346.7 701.43 346.91 680.18 347.13 676.25 347.34 684.62 347.56 678.96 347.77 682.54 347.99 679.87 348.2 684.23 348.41 681.92 348.63 681.44 348.84 690.54 349.06 680.13 349.27 681.55 349.49 690.96 349.7 678.4 349.91 681.14 350.13 706.27 350.34 705.64 350.56 682.68 350.77 685.33 350.99 682.8 351.2 682.73 351.41 672.09 351.63 673.6 351.84 682.98 352.06 682.68 352.27 679.72 352.49 678.75 352.7 683.81 352.91 685.05 353.13 673.24 353.34 676.77 353.56 687.29 353.77 688.14 353.99 684.36 354.2 680.15 354.41 678.83 354.63 682.41 354.84 687.55 355.06 680.15 355.27 678.61 355.49 681.04 355.7 683.04 355.91 678.72 356.13 681.27 356.34 685.57 356.56 680.66 356.77 686.28 356.99 677.15 357.2 679.15 357.41 685.07 357.63 680.19 357.84 688.51 358.06 689.72 358.27 681.61 358.49 674.38 358.7 687.33 358.91 681.73 359.13 686.82 359.34 681.32 359.56 690.78 359.77 687.63 359.99 683.23 360.2 680.49 360.41 679.52 360.63 679.32 360.84 676.39 361.06 678.22 361.27 678.05 361.49 685.03 361.7 681.69 361.91 668.1 362.13 671.83 362.34 677.68 362.56 678.04 362.77 677.03 362.99 682.69 363.2 673.07 363.41 682.58 363.63 681.38 363.84 698.26 364.06 689.54 364.27 679.57 364.49 688.08 364.7 683.72 364.91 681.42 365.13 682.49 365.34 706.42 365.56 710.27 365.77 707.56 365.99 711.99 366.2 708.72 366.41 720.94 366.63 678.36 366.84 686.35 367.06 678.21 367.27 682.75 367.49 682.29 367.7 676.21 367.91 680.61 368.13 688.82 368.34 679 368.56 709.44 368.77 679.95 368.99 682.69 369.2 686.8 369.41 680.73 369.63 708.4 369.84 698.89 370.06 682.85 370.27 673.06 370.49 701.45 370.7 709.65 370.91 710.49 371.13 701.7 371.34 707.7 371.56 706.48 371.77 682.1 371.99 686.04 372.2 682.59 372.41 685.01 372.63 713.45 372.84 682.26 373.06 674.05 373.27 674.38 373.49 681.3 373.7 680.49 373.91 678.93 374.13 675.43 374.34 679.73 374.56 683.02 374.77 682.67 374.99 676.36 375.2 670.28 375.41 692.64 375.63 689.53 375.84 677.7 376.06 681.37 376.27 680.47 376.49 675.93 376.7 680.77 376.91 686.54 377.13 689.18 377.34 681.24 377.56 689.62 377.77 679.85 377.99 686.33 378.2 682.51 378.41 687.14 378.63 682.55 378.84 705.72 379.06 678.58 379.27 675.48 379.49 681.81 379.7 684.62 379.91 672.93 380.13 679.54 380.34 678.51 380.56 678.52 380.77 675.01 380.99 676.85 381.2 678.23 381.41 677.86 381.63 710.69 381.84 683.56 382.06 681.48 382.27 680.65 382.49 680.96 382.7 705.84 382.91 707.01 383.13 708.89 383.34 713.86 383.56 703.65 383.77 704.68 383.99 684.68 384.2 678.97 384.41 679.39 384.63 680.73 384.84 688.67 385.06 686.04 385.27 683.53 385.49 674.33 385.7 699.33 385.91 682.47 386.13 685.65 386.34 683.08 386.56 679.61 386.77 689.65 386.99 692.82 387.2 678.28 387.41 680.89 387.63 683.55 387.84 677.01 388.06 677 388.27 689.74 388.49 681.73 388.7 676.43 388.91 683.81 389.13 682.34 389.34 696.37 389.56 682.15 389.77 686.01 389.99 683.89 390.2 686.55 390.41 678.73 390.63 688.2 390.84 676.87 391.06 687.88 391.27 680.85 391.49 687.13 391.7 682.35 391.91 702.87 392.13 702.45 392.34 701.69 392.56 707.49 392.77 706.67 392.99 706.15 393.2 708.03 393.41 708.78 393.63 702.54 393.84 679.68 394.06 676.28 394.27 679.05 394.49 678.21 394.7 684.07 394.91 682.77 395.13 703.09 395.34 682.27 395.56 681.77 395.77 677.56 395.99 712.36 396.2 693.66 396.41 707.63 396.63 701.88 396.84 676.71 397.06 695.62 397.27 682.13 397.49 674.9 397.7 691.13 397.91 677.84 398.13 684.85 398.34 682.98 398.56 680.1 398.77 688.8 398.99 680.22 399.2 683.73 399.41 684.16 399.63 678.12 399.84 672.91 400.06 679.61 400.27 678.74 400.49 681.25 400.7 684.05 400.91 679.96 401.13 674.72 401.34 680.25 401.56 677.34 401.77 681.99 401.99 670.55 402.2 687.91 402.41 678.61 402.63 678.79 402.84 679.94 403.06 685.7 403.27 685.79 403.49 682.03 403.7 680.64 403.91 686.1 404.13 685.49 404.34 678.73 404.56 676.76 404.77 683.4 404.99 683.97 405.2 684.09 405.41 670.75 405.63 679.03 405.84 716.79 406.06 702.96 406.27 697.6 406.49 702.28 406.7 713.1 406.91 707.51 407.13 708.84 407.34 708.59 407.56 686.15 407.77 682.71 407.99 685.6 408.2 679.67 408.41 706.98 408.63 713.06 408.84 714.29 409.06 683.08 409.27 678.37 409.49 679.02 409.7 681.36 409.91 694.87 410.13 683.15 410.34 684.18 410.56 682.49 410.77 686.18 410.99 682.9 411.2 683.86 411.41 669.76 411.63 678.15 411.84 681.9 412.06 681.29 412.27 681.59 412.49 680.31" fill="none" stroke="#000" stroke-width="0.75" stroke-linejoin="round" />
<line x1="262.4" y1="760.4" x2="262.4" y2="826.4" stroke="#1a1a1a" stroke-width="1.1" />
<line x1="262.4" y1="821" x2="265.4" y2="821" stroke="#1a1a1a" stroke-width="1.1" />
<line x1="262.4" y1="799" x2="265.4" y2="799" stroke="#1a1a1a" stroke-width="1.1" />
<line x1="262.4" y1="777" x2="265.4" y2="777" stroke="#1a1a1a" stroke-width="1.1" />
<line x1="262.4" y1="810" x2="264.2" y2="810" stroke="#1a1a1a" stroke-width="1.1" />
<line x1="262.4" y1="788" x2="264.2" y2="788" stroke="#1a1a1a" stroke-width="1.1" />
<line x1="262.4" y1="766" x2="264.2" y2="766" stroke="#1a1a1a" stroke-width="1.1" />
<line x1="262.4" y1="826.4" x2="412.4" y2="826.4" stroke="#1a1a1a" stroke-width="1.1" />
<line x1="262.4" y1="826.4" x2="262.4" y2="822.9" stroke="#1a1a1a" stroke-width="1.1" />
<line x1="292.4" y1="826.4" x2="292.4" y2="822.9" stroke="#1a1a1a" stroke-width="1.1" />
<line x1="322.4" y1="826.4" x2="322.4" y2="822.9" stroke="#1a1a1a" stroke-width="1.1" />
<line x1="352.4" y1="826.4" x2="352.4" y2="822.9" stroke="#1a1a1a" stroke-width="1.1" />
<line x1="382.4" y1="826.4" x2="382.4" y2="822.9" stroke="#1a1a1a" stroke-width="1.1" />
<line x1="412.4" y1="826.4" x2="412.4" y2="822.9" stroke="#1a1a1a" stroke-width="1.1" />
<line x1="277.4" y1="826.4" x2="277.4" y2="824.3" stroke="#1a1a1a" stroke-width="1.1" />
<line x1="307.4" y1="826.4" x2="307.4" y2="824.3" stroke="#1a1a1a" stroke-width="1.1" />
<line x1="337.4" y1="826.4" x2="337.4" y2="824.3" stroke="#1a1a1a" stroke-width="1.1" />
<line x1="367.4" y1="826.4" x2="367.4" y2="824.3" stroke="#1a1a1a" stroke-width="1.1" />
<line x1="397.4" y1="826.4" x2="397.4" y2="824.3" stroke="#1a1a1a" stroke-width="1.1" />
<path d="M262.7 808.96 262.91 817.23 263.13 816.26 263.34 815.42 263.56 815.16 263.77 813.62 263.99 815.14 264.2 812.75 264.41 813.73 264.63 812.31 264.84 808.64 265.06 817.77 265.27 807.49 265.49 816.14 265.7 811.55 265.91 813.63 266.13 789.12 266.34 795.98 266.56 807.66 266.77 817.42 266.99 817.54 267.2 809.92 267.41 813.99 267.63 806.47 267.84 807.38 268.06 811.38 268.27 813.26 268.49 811.16 268.7 819.72 268.91 813.6 269.13 813.7 269.34 816.24 269.56 813.26 269.77 820.31 269.99 810.6 270.2 809.01 270.41 819.63 270.63 813.71 270.84 807.96 271.06 812.59 271.27 818.54 271.49 818.37 271.7 810.81 271.91 806.78 272.13 818.77 272.34 814.16 272.56 817.5 272.77 815.48 272.99 813.05 273.2 814.48 273.41 817.13 273.63 805.68 273.84 814.96 274.06 815.06 274.27 809.77 274.49 814.27 274.7 815.15 274.91 810.43 275.13 818.55 275.34 811.25 275.56 810.1 275.77 800.79 275.99 815.05 276.2 814.35 276.41 821.35 276.63 814.85 276.84 813.13 277.06 810.77 277.27 813.74 277.49 815.91 277.7 817.75 277.91 814.51 278.13 813.77 278.34 809.37 278.56 814.28 278.77 816.37 278.99 814.76 279.2 816.3 279.41 815.28 279.63 823.34 279.84 820.83 280.06 819.2 280.27 786.02 280.49 788.24 280.7 787.32 280.91 783.18 281.13 818.58 281.34 809.66 281.56 812.76 281.77 817.24 281.99 808.25 282.2 820.15 282.41 818.92 282.63 788.78 282.84 812.67 283.06 815.11 283.27 796.64 283.49 815.54 283.7 814.67 283.91 803.95 284.13 808.73 284.34 813.83 284.56 818.78 284.77 786.54 284.99 819.08 285.2 813.5 285.41 786.44 285.63 789.56 285.84 813.31 286.06 815.68 286.27 816.66 286.49 808.08 286.7 811.96 286.91 815.58 287.13 817.46 287.34 813.61 287.56 812.02 287.77 810.86 287.99 808.33 288.2 812.45 288.41 818.89 288.63 806.07 288.84 809.61 289.06 810.95 289.27 808.89 289.49 820.4 289.7 815.86 289.91 816.42 290.13 809.49 290.34 819.14 290.56 815.65 290.77 808.16 290.99 811.7 291.2 815.91 291.41 806.69 291.63 819.75 291.84 812.5 292.06 815.27 292.27 812.26 292.49 815.46 292.7 817.74 292.91 813.48 293.13 819.7 293.34 812.18 293.56 815.64 293.77 810.59 293.99 816.17 294.2 817.08 294.41 812.72 294.63 809.33 294.84 822.77 295.06 813.86 295.27 811.8 295.49 820.13 295.7 817.93 295.91 811.74 296.13 817.71 296.34 816.95 296.56 807.37 296.77 818.19 296.99 817.86 297.2 823.76 297.41 818.81 297.63 819.36 297.84 807.38 298.06 809.41 298.27 793.1 298.49 806.36 298.7 811.22 298.91 815.09 299.13 811.07 299.34 812.81 299.56 817.47 299.77 821.51 299.99 818.06 300.2 814.38 300.41 815.81 300.63 817.37 300.84 810.4 301.06 818.69 301.27 810.74 301.49 816.32 301.7 813.92 301.91 818.92 302.13 814.4 302.34 817.55 302.56 821.46 302.77 814.45 302.99 814.58 303.2 811 303.41 813.21 303.63 818.49 303.84 816.86 304.06 824.47 304.27 818.92 304.49 809.09 304.7 808.21 304.91 811.27 305.13 813.14 305.34 811.98 305.56 812.39 305.77 821.43 305.99 817.92 306.2 809.55 306.41 809.57 306.63 771.82 306.84 815.64 307.06 815.94 307.27 816.59 307.49 818.14 307.7 822.22 307.91 813.77 308.13 816.22 308.34 815.25 308.56 807.4 308.77 811.97 308.99 817.24 309.2 812.01 309.41 820.5 309.63 810.09 309.84 813.3 310.06 815.17 310.27 812.05 310.49 808.45 310.7 816.27 310.91 818.4 311.13 805.76 311.34 814.31 311.56 808.29 311.77 817.13 311.99 812.84 312.2 816.99 312.41 811.8 312.63 815.51 312.84 817.11 313.06 808.05 313.27 813 313.49 822.66 313.7 815.34 313.91 818.13 314.13 819.36 314.34 816.77 314.56 816.33 314.77 814.25 314.99 817.63 315.2 821.99 315.41 816.57 315.63 810.79 315.84 819.97 316.06 811.86 316.27 812.51 316.49 816.22 316.7 813.12 316.91 817.45 317.13 816.03 317.34 818.57 317.56 812.49 317.77 808.78 317.99 817.17 318.2 809.49 318.41 823.13 318.63 818.02 318.84 818.54 319.06 807.34 319.27 816.81 319.49 811.2 319.7 822.79 319.91 813.93 320.13 812.07 320.34 814.55 320.56 825.56 320.77 813.67 320.99 811.07 321.2 782.58 321.41 786.36 321.63 794.93 321.84 788.85 322.06 784.29 322.27 817.76 322.49 812.08 322.7 816.36 322.91 814.02 323.13 784.88 323.34 790.91 323.56 802.63 323.77 813.77 323.99 812.99 324.2 817.45 324.41 814.14 324.63 815.5 324.84 820.4 325.06 820.7 325.27 813.22 325.49 788.36 325.7 825.23 325.91 823.23 326.13 815.67 326.34 814.68 326.56 811.9 326.77 819.5 326.99 811.96 327.2 815.67 327.41 803.47 327.63 814.98 327.84 810.34 328.06 812.1 328.27 810.73 328.49 817.24 328.7 815.57 328.91 819.19 329.13 816.68 329.34 816.04 329.56 816.32 329.77 811.46 329.99 812.65 330.2 811.27 330.41 813.87 330.63 809.98 330.84 811.17 331.06 810.42 331.27 812.33 331.49 811.37 331.7 814.68 331.91 819.51 332.13 820.36 332.34 806.33 332.56 812.8 332.77 812.57 332.99 815.09 333.2 816.29 333.41 802.55 333.63 819.02 333.84 814.66 334.06 814.61 334.27 819.07 334.49 819.65 334.7 790.9 334.91 815.82 335.13 816.4 335.34 811.05 335.56 819.26 335.77 812.73 335.99 808.34 336.2 810.72 336.41 819.1 336.63 825.6 336.84 784.51 337.06 785.95 337.27 816.82 337.49 809.12 337.7 816.07 337.91 813.95 338.13 818.68 338.34 813.08 338.56 816.17 338.77 816.48 338.99 809.95 339.2 813.52 339.41 820.57 339.63 811.55 339.84 810.95 340.06 817.83 340.27 816.02 340.49 814.18 340.7 815.43 340.91 813.89 341.13 811.72 341.34 816.43 341.56 805.82 341.77 817.34 341.99 816.62 342.2 806.28 342.41 804.56 342.63 814.24 342.84 815.17 343.06 818.83 343.27 809.69 343.49 813.69 343.7 817.89 343.91 812.73 344.13 808.75 344.34 811.57 344.56 805.29 344.77 809.62 344.99 812.58 345.2 814.54 345.41 812.13 345.63 809.38 345.84 810.86 346.06 810.05 346.27 813.48 346.49 811.24 346.7 809.39 346.91 815.08 347.13 819.75 347.34 807.28 347.56 811.99 347.77 816.21 347.99 813.43 348.2 815.42 348.41 821.43 348.63 815.16 348.84 820.27 349.06 813.56 349.27 814.85 349.49 809.72 349.7 814.9 349.91 812.86 350.13 815.63 350.34 815.97 350.56 820.16 350.77 810.31 350.99 813.7 351.2 816.8 351.41 813.54 351.63 816.11 351.84 817.39 352.06 813.37 352.27 809.39 352.49 815.51 352.7 820.28 352.91 816.94 353.13 806.99 353.34 817.75 353.56 809.5 353.77 815.39 353.99 811.35 354.2 814.84 354.41 820.91 354.63 816.1 354.84 805.69 355.06 814.94 355.27 812.07 355.49 815.79 355.7 814.94 355.91 813.07 356.13 812.44 356.34 805.24 356.56 814.46 356.77 815.14 356.99 817.13 357.2 819.81 357.41 821.04 357.63 790.71 357.84 822.07 358.06 808.59 358.27 810.85 358.49 815.61 358.7 819.15 358.91 814.28 359.13 814.3 359.34 809.74 359.56 817.45 359.77 815.95 359.99 814.61 360.2 815.53 360.41 816.96 360.63 821.46 360.84 821.15 361.06 817.17 361.27 815.31 361.49 810.27 361.7 804.86 361.91 807.32 362.13 812.76 362.34 806.64 362.56 814.86 362.77 816.56 362.99 804.84 363.2 818.79 363.41 816.09 363.63 815.47 363.84 808.37 364.06 816.84 364.27 811.16 364.49 816.06 364.7 819.43 364.91 813.41 365.13 813.69 365.34 819.15 365.56 817.95 365.77 817.65 365.99 810.41 366.2 812.48 366.41 813.4 366.63 812.36 366.84 816.34 367.06 812.41 367.27 816.87 367.49 819.87 367.7 817.28 367.91 813.51 368.13 814.01 368.34 810.02 368.56 821.34 368.77 815.28 368.99 812.75 369.2 818.34 369.41 813.35 369.63 816.06 369.84 819.03 370.06 792.57 370.27 820.1 370.49 810.25 370.7 816.08 370.91 818.25 371.13 818.02 371.34 817.41 371.56 817.87 371.77 813.26 371.99 822.07 372.2 809.26 372.41 810.93 372.63 808.65 372.84 818.42 373.06 823.93 373.27 816.94 373.49 811.64 373.7 813.12 373.91 799.73 374.13 814.71 374.34 813.75 374.56 820.75 374.77 806.92 374.99 818.99 375.2 813.28 375.41 809.92 375.63 817.59 375.84 814.35 376.06 807.63 376.27 815.52 376.49 810.05 376.7 813.16 376.91 813.41 377.13 811.4 377.34 815.31 377.56 815.22 377.77 810.39 377.99 813.27 378.2 812.3 378.41 819.28 378.63 814.28 378.84 809.35 379.06 810.64 379.27 812.93 379.49 816.48 379.7 816.87 379.91 812.54 380.13 808.49 380.34 814.16 380.56 808.96 380.77 815.57 380.99 789.73 381.2 818.46 381.41 809.39 381.63 818.74 381.84 811.62 382.06 811.98 382.27 818.25 382.49 817.41 382.7 816.16 382.91 820.47 383.13 818.15 383.34 817.9 383.56 811.11 383.77 808.64 383.99 816.17 384.2 815.52 384.41 813.46 384.63 816.49 384.84 815.48 385.06 784.49 385.27 786.99 385.49 788.29 385.7 790.3 385.91 808.28 386.13 816.87 386.34 813.84 386.56 818.59 386.77 816.79 386.99 813.95 387.2 815.96 387.41 785.74 387.63 814.06 387.84 820.04 388.06 823.85 388.27 810.24 388.49 816.74 388.7 808.24 388.91 814.28 389.13 817.49 389.34 812.04 389.56 815.46 389.77 814.29 389.99 818.17 390.2 811.71 390.41 809.83 390.63 816.51 390.84 806.99 391.06 816.69 391.27 813.32 391.49 821.08 391.7 822.27 391.91 805.68 392.13 808.47 392.34 783.21 392.56 821.34 392.77 813.41 392.99 812.61 393.2 814.02 393.41 813.12 393.63 802.5 393.84 815.01 394.06 819.04 394.27 815.79 394.49 812.82 394.7 817.57 394.91 815.49 395.13 816.12 395.34 814.29 395.56 810.56 395.77 813.38 395.99 812.72 396.2 820.28 396.41 815.85 396.63 810.98 396.84 817.9 397.06 816.14 397.27 818.35 397.49 782.46 397.7 816.22 397.91 817.36 398.13 811.81 398.34 809.83 398.56 812.32 398.77 810.31 398.99 813.49 399.2 814.89 399.41 816.17 399.63 816.45 399.84 816.82 400.06 812.85 400.27 814.83 400.49 814 400.7 811.87 400.91 814.59 401.13 820.01 401.34 817.63 401.56 818.98 401.77 822.22 401.99 813.94 402.2 819.31 402.41 819.65 402.63 818.81 402.84 810.77 403.06 815.65 403.27 810.25 403.49 814.74 403.7 816.17 403.91 812.04 404.13 811.91 404.34 813.9 404.56 818.65 404.77 816.26 404.99 819.24 405.2 815.44 405.41 813.99 405.63 808.27 405.84 808.56 406.06 811.59 406.27 784.05 406.49 813.43 406.7 802.96 406.91 808.09 407.13 803.48 407.34 812.81 407.56 812.68 407.77 783.65 407.99 787.21 408.2 786.71 408.41 792.06 408.63 810.51 408.84 813.83 409.06 811.05 409.27 815.3 409.49 821.71 409.7 812.32 409.91 783.19 410.13 793.27 410.34 791.99 410.56 789.23 410.77 815.41 410.99 821.4 411.2 807.15 411.41 810.23 411.63 816.94 411.84 821.87 412.06 812.9 412.27 806.22 412.49 810.98" fill="none" stroke="#000" stroke-width="0.75" stroke-linejoin="round" />
<path d="M429.3 710.3L429.54 710.3L429.54 709.5L430.21 709.5L430.21 708.7L430.86 708.7L430.86 707.9L431.22 707.9L431.22 707.1L431.72 707.1L431.72 706.3L432.7 706.3L432.7 705.5L432.82 705.5L432.82 704.7L432.66 704.7L432.66 703.9L432.3 703.9L432.3 703.1L432.35 703.1L432.35 702.3L431.89 702.3L431.89 701.5L433.45 701.5L433.45 700.7L434.41 700.7L434.41 699.9L433.03 699.9L433.03 699.1L432.58 699.1L432.58 698.3L432.09 698.3L432.09 697.5L432.75 697.5L432.75 696.7L433.16 696.7L433.16 695.9L433.42 695.9L433.42 695.1L432.47 695.1L432.47 694.3L432.63 694.3L432.63 693.5L432.43 693.5L432.43 692.7L432.81 692.7L432.81 691.9L432.12 691.9L432.12 691.1L432.43 691.1L432.43 690.3L432.98 690.3L432.98 689.5L433.69 689.5L433.69 688.7L434.56 688.7L434.56 687.9L436.78 687.9L436.78 687.1L441.21 687.1L441.21 686.3L446.93 686.3L446.93 685.5L451.73 685.5L451.73 684.7L452.21 684.7L452.21 683.9L454.42 683.9L454.42 683.1L455.77 683.1L455.77 682.3L456.19 682.3L456.19 681.5L455.06 681.5L455.06 680.7L454.04 680.7L454.04 679.9L451.98 679.9L451.98 679.1L447.69 679.1L447.69 678.3L444.02 678.3L444.02 677.5L442.76 677.5L442.76 676.7L440.6 676.7L440.6 675.9L438.23 675.9L438.23 675.1L435.85 675.1L435.85 674.3L433.94 674.3L433.94 673.5L431.64 673.5L431.64 672.7L430.17 672.7L430.17 671.9L429.43 671.9L429.43 671.1L429.34 671.1L429.34 670.3L429.3 670.3Z" fill="#3a3a3a"/>
<rect x="454.2" y="681.9" width="7.95" height="1.8" fill="#8c8c8c"/>
<line x1="429.3" y1="658.7" x2="429.3" y2="717.8" stroke="#1a1a1a" stroke-width="1" />
<line x1="429.3" y1="658.7" x2="470.8" y2="658.7" stroke="#1a1a1a" stroke-width="1" />
<line x1="429.3" y1="658.7" x2="429.3" y2="660.9" stroke="#1a1a1a" stroke-width="1" />
<line x1="436.22" y1="658.7" x2="436.22" y2="660" stroke="#1a1a1a" stroke-width="1" />
<line x1="443.13" y1="658.7" x2="443.13" y2="660.9" stroke="#1a1a1a" stroke-width="1" />
<line x1="450.05" y1="658.7" x2="450.05" y2="660" stroke="#1a1a1a" stroke-width="1" />
<line x1="456.97" y1="658.7" x2="456.97" y2="660.9" stroke="#1a1a1a" stroke-width="1" />
<line x1="463.88" y1="658.7" x2="463.88" y2="660" stroke="#1a1a1a" stroke-width="1" />
<line x1="470.8" y1="658.7" x2="470.8" y2="660.9" stroke="#1a1a1a" stroke-width="1" />
<line x1="429.3" y1="668.3" x2="431.5" y2="668.3" stroke="#1a1a1a" stroke-width="1" />
<line x1="429.3" y1="678.3" x2="430.6" y2="678.3" stroke="#1a1a1a" stroke-width="1" />
<line x1="429.3" y1="688.3" x2="431.5" y2="688.3" stroke="#1a1a1a" stroke-width="1" />
<line x1="429.3" y1="698.3" x2="430.6" y2="698.3" stroke="#1a1a1a" stroke-width="1" />
<line x1="429.3" y1="708.3" x2="431.5" y2="708.3" stroke="#1a1a1a" stroke-width="1" />
<path d="M429.2 822.62L429.53 822.62L429.53 821.88L430.19 821.88L430.19 821.14L430.89 821.14L430.89 820.39L431.51 820.39L431.51 819.65L432.22 819.65L432.22 818.9L432.87 818.9L432.87 818.16L433.4 818.16L433.4 817.42L435.16 817.42L435.16 816.67L437.39 816.67L437.39 815.93L440.53 815.93L440.53 815.18L443.49 815.18L443.49 814.44L447.44 814.44L447.44 813.7L450.05 813.7L450.05 812.95L456.55 812.95L456.55 812.21L461.36 812.21L461.36 811.46L460.6 811.46L460.6 810.72L456.62 810.72L456.62 809.98L454.57 809.98L454.57 809.23L450.54 809.23L450.54 808.49L448.56 808.49L448.56 807.74L446.81 807.74L446.81 807L443.41 807L443.41 806.26L441.52 806.26L441.52 805.51L438.11 805.51L438.11 804.77L436.92 804.77L436.92 804.02L435.6 804.02L435.6 803.28L434.42 803.28L434.42 802.54L433.69 802.54L433.69 801.79L432.66 801.79L432.66 801.05L431.98 801.05L431.98 800.3L431.96 800.3L431.96 799.56L431.42 799.56L431.42 798.82L431.14 798.82L431.14 798.07L430.8 798.07L430.8 797.33L430.94 797.33L430.94 796.58L431.14 796.58L431.14 795.84L431.01 795.84L431.01 795.1L430.75 795.1L430.75 794.35L431.24 794.35L431.24 793.61L431.03 793.61L431.03 792.86L431.03 792.86L431.03 792.12L430.81 792.12L430.81 791.38L430.94 791.38L430.94 790.63L430.34 790.63L430.34 789.89L430.32 789.89L430.32 789.14L430.49 789.14L430.49 788.4L430.19 788.4L430.19 787.66L430.31 787.66L430.31 786.91L430.2 786.91L430.2 786.17L429.66 786.17L429.66 785.42L429.42 785.42L429.42 784.68L429.2 784.68Z" fill="#3a3a3a"/>
<line x1="429.2" y1="769.5" x2="429.2" y2="825.6" stroke="#1a1a1a" stroke-width="1" />
<line x1="429.2" y1="769.5" x2="469.3" y2="769.5" stroke="#1a1a1a" stroke-width="1" />
<line x1="429.2" y1="769.5" x2="429.2" y2="771.7" stroke="#1a1a1a" stroke-width="1" />
<line x1="435.88" y1="769.5" x2="435.88" y2="770.8" stroke="#1a1a1a" stroke-width="1" />
<line x1="442.57" y1="769.5" x2="442.57" y2="771.7" stroke="#1a1a1a" stroke-width="1" />
<line x1="449.25" y1="769.5" x2="449.25" y2="770.8" stroke="#1a1a1a" stroke-width="1" />
<line x1="455.93" y1="769.5" x2="455.93" y2="771.7" stroke="#1a1a1a" stroke-width="1" />
<line x1="462.62" y1="769.5" x2="462.62" y2="770.8" stroke="#1a1a1a" stroke-width="1" />
<line x1="469.3" y1="769.5" x2="469.3" y2="771.7" stroke="#1a1a1a" stroke-width="1" />
<line x1="429.2" y1="779.1" x2="431.4" y2="779.1" stroke="#1a1a1a" stroke-width="1" />
<line x1="429.2" y1="788.4" x2="430.5" y2="788.4" stroke="#1a1a1a" stroke-width="1" />
<line x1="429.2" y1="797.7" x2="431.4" y2="797.7" stroke="#1a1a1a" stroke-width="1" />
<line x1="429.2" y1="807" x2="430.5" y2="807" stroke="#1a1a1a" stroke-width="1" />
<line x1="429.2" y1="816.3" x2="431.4" y2="816.3" stroke="#1a1a1a" stroke-width="1" />
<line x1="522.8" y1="655.6" x2="522.8" y2="723" stroke="#1a1a1a" stroke-width="1.1" />
<line x1="522.8" y1="717.4" x2="525.8" y2="717.4" stroke="#1a1a1a" stroke-width="1.1" />
<line x1="522.8" y1="695" x2="525.8" y2="695" stroke="#1a1a1a" stroke-width="1.1" />
<line x1="522.8" y1="672.6" x2="525.8" y2="672.6" stroke="#1a1a1a" stroke-width="1.1" />
<line x1="522.8" y1="706.2" x2="524.6" y2="706.2" stroke="#1a1a1a" stroke-width="1.1" />
<line x1="522.8" y1="683.8" x2="524.6" y2="683.8" stroke="#1a1a1a" stroke-width="1.1" />
<line x1="522.8" y1="661.4" x2="524.6" y2="661.4" stroke="#1a1a1a" stroke-width="1.1" />
<line x1="522.8" y1="723" x2="675.8" y2="723" stroke="#1a1a1a" stroke-width="1.1" />
<line x1="522.8" y1="723" x2="522.8" y2="719.5" stroke="#1a1a1a" stroke-width="1.1" />
<line x1="553.4" y1="723" x2="553.4" y2="719.5" stroke="#1a1a1a" stroke-width="1.1" />
<line x1="584" y1="723" x2="584" y2="719.5" stroke="#1a1a1a" stroke-width="1.1" />
<line x1="614.6" y1="723" x2="614.6" y2="719.5" stroke="#1a1a1a" stroke-width="1.1" />
<line x1="645.2" y1="723" x2="645.2" y2="719.5" stroke="#1a1a1a" stroke-width="1.1" />
<line x1="675.8" y1="723" x2="675.8" y2="719.5" stroke="#1a1a1a" stroke-width="1.1" />
<line x1="538.1" y1="723" x2="538.1" y2="720.9" stroke="#1a1a1a" stroke-width="1.1" />
<line x1="568.7" y1="723" x2="568.7" y2="720.9" stroke="#1a1a1a" stroke-width="1.1" />
<line x1="599.3" y1="723" x2="599.3" y2="720.9" stroke="#1a1a1a" stroke-width="1.1" />
<line x1="629.9" y1="723" x2="629.9" y2="720.9" stroke="#1a1a1a" stroke-width="1.1" />
<line x1="660.5" y1="723" x2="660.5" y2="720.9" stroke="#1a1a1a" stroke-width="1.1" />
<path d="M523.1 685.35 523.41 682.6 523.71 719.66 524.02 669.96 524.32 680.18 524.63 679.89 524.94 710.97 525.24 682.02 525.55 674.57 525.85 699.72 526.16 683.56 526.47 689.53 526.77 707.24 527.08 709.34 527.38 680.02 527.69 689.7 528 708.82 528.3 682.66 528.61 686.01 528.91 679.09 529.22 713.13 529.53 713.58 529.83 709.56 530.14 704.19 530.44 685.26 530.75 686.58 531.06 680.22 531.36 706.94 531.67 710.36 531.97 707.4 532.28 684.97 532.59 705.19 532.89 683.23 533.2 711.6 533.5 686.06 533.81 685.77 534.12 706.27 534.42 706.25 534.73 711.75 535.03 708.83 535.34 706.56 535.65 678.88 535.95 682.74 536.26 699.07 536.56 683.77 536.87 680.53 537.18 685.37 537.48 712.5 537.79 707.48 538.09 681.68 538.4 682.41 538.71 707.3 539.01 709.48 539.32 687.62 539.62 685.26 539.93 705.83 540.24 679.53 540.54 721.88 540.85 705.19 541.15 703.03 541.46 702.21 541.77 706.22 542.07 680.83 542.38 685.91 542.68 684.29 542.99 681.49 543.3 688.88 543.6 687.49 543.91 707.07 544.21 714.05 544.52 707.73 544.83 714.74 545.13 683 545.44 683.76 545.74 686.45 546.05 688.19 546.36 686.2 546.66 694.11 546.97 685.7 547.27 707.43 547.58 702.47 547.89 710.29 548.19 708.77 548.5 701.63 548.8 700.05 549.11 710.19 549.42 703.19 549.72 702.6 550.03 681.54 550.33 712.47 550.64 712.27 550.95 681.26 551.25 673.24 551.56 684.71 551.86 676.73 552.17 675.24 552.48 713.67 552.78 686.62 553.09 676.99 553.39 679.43 553.7 681.38 554.01 683.94 554.31 681.01 554.62 710.85 554.92 696.54 555.23 713.23 555.54 716.18 555.84 683.21 556.15 701.37 556.45 710.22 556.76 684.13 557.07 688.56 557.37 684.23 557.68 712.61 557.98 688.47 558.29 714.7 558.6 710.47 558.9 699.46 559.21 708.24 559.51 707.09 559.82 673.68 560.13 710.87 560.43 688.45 560.74 705.58 561.04 689.52 561.35 706.45 561.66 702.69 561.96 688.83 562.27 710.35 562.57 676.13 562.88 688.74 563.19 711.09 563.49 682.8 563.8 709.42 564.1 687.79 564.41 700.65 564.72 686.55 565.02 706.46 565.33 709.85 565.63 684.94 565.94 690.18 566.25 679.65 566.55 685.86 566.86 678.06 567.16 713.3 567.47 686.11 567.78 681.7 568.08 683.39 568.39 686.9 568.69 684.52 569 689.83 569.31 683.64 569.61 720.11 569.92 683.1 570.22 677.68 570.53 679.8 570.84 704.07 571.14 709.9 571.45 681.65 571.75 685.74 572.06 708.39 572.37 684.35 572.67 699.32 572.98 679.66 573.28 681.81 573.59 680.04 573.9 712.33 574.2 680.72 574.51 681.69 574.81 694.12 575.12 691.97 575.43 707.73 575.73 711.02 576.04 683.97 576.34 710.91 576.65 701.12 576.96 692.6 577.26 714.22 577.57 712.45 577.87 714.23 578.18 686.54 578.49 684.04 578.79 690.04 579.1 706.3 579.4 677.88 579.71 678.88 580.02 674.69 580.32 678.69 580.63 708.11 580.93 699.8 581.24 704.73 581.55 699.36 581.85 708.84 582.16 693.51 582.46 689.22 582.77 683.05 583.08 681.35 583.38 684.81 583.69 703.36 583.99 689.13 584.3 687.08 584.61 679.33 584.91 683.61 585.22 683.41 585.52 701.47 585.83 702.9 586.14 687.49 586.44 707 586.75 715.72 587.05 683.89 587.36 682.04 587.67 691.78 587.97 676.68 588.28 674.67 588.58 681.55 588.89 679.59 589.2 701.02 589.5 708.69 589.81 703.12 590.11 706.13 590.42 714.91 590.73 712.03 591.03 710.48 591.34 702.98 591.64 707.43 591.95 679.28 592.26 710.04 592.56 689.66 592.87 674.34 593.17 671.31 593.48 682.04 593.79 684.7 594.09 678.35 594.4 688.87 594.7 684.75 595.01 714.45 595.32 705.66 595.62 682.66 595.93 685.64 596.23 686.77 596.54 714.83 596.85 687.58 597.15 702.23 597.46 685.41 597.76 678.02 598.07 687.76 598.38 708.24 598.68 685.9 598.99 709.06 599.29 704.34 599.6 670.84 599.91 681.74 600.21 711.72 600.52 677.29 600.82 672.82 601.13 711.89 601.44 707.03 601.74 710.93 602.05 701.03 602.35 703.7 602.66 676.06 602.97 677.19 603.27 706.98 603.58 705.66 603.88 679.31 604.19 680.15 604.5 680.95 604.8 676.98 605.11 679.84 605.41 673.94 605.72 684.46 606.03 675.02 606.33 704.26 606.64 672.73 606.94 677.92 607.25 682.34 607.56 680.3 607.86 673.03 608.17 678.11 608.47 678.49 608.78 679.1 609.09 677.26 609.39 677.84 609.7 682.55 610 679.15 610.31 673.47 610.62 671.91 610.92 677.47 611.23 678.87 611.53 672.24 611.84 677.67 612.15 681.21 612.45 677.49 612.76 674.58 613.06 671.52 613.37 678.77 613.68 675.13 613.98 678.21 614.29 673 614.59 676.13 614.9 705.23 615.21 680.53 615.51 678.18 615.82 678.19 616.12 689.8 616.43 674.01 616.74 677.08 617.04 677.78 617.35 678.32 617.65 676.96 617.96 676.19 618.27 710.8 618.57 676.61 618.88 676.65 619.18 676.95 619.49 682.31 619.8 706.66 620.1 710.71 620.41 704.93 620.71 672.39 621.02 673.97 621.33 678.25 621.63 678.97 621.94 679.05 622.24 675.81 622.55 708.53 622.86 678.95 623.16 685.93 623.47 680.06 623.77 679.83 624.08 678.96 624.39 672.75 624.69 710.98 625 681.76 625.3 704.05 625.61 709.65 625.92 677.63 626.22 676.44 626.53 677 626.83 679.8 627.14 673.8 627.45 671.75 627.75 680.61 628.06 678.02 628.36 673.73 628.67 677.79 628.98 680.6 629.28 707.7 629.59 674.11 629.89 680.58 630.2 676.16 630.51 675.71 630.81 679.37 631.12 675.06 631.42 674.7 631.73 702.65 632.04 673.76 632.34 682.33 632.65 673.89 632.95 675 633.26 673.6 633.57 680.06 633.87 673.86 634.18 675.74 634.48 681.15 634.79 672.56 635.1 679.81 635.4 680.64 635.71 675.65 636.01 679.19 636.32 675.78 636.63 707.04 636.93 676.05 637.24 674.17 637.54 677.17 637.85 703.1 638.16 674.06 638.46 680.01 638.77 674.03 639.07 703.99 639.38 676.57 639.69 673.1 639.99 671.2 640.3 674.36 640.6 682.23 640.91 675.47 641.22 677.51 641.52 677.99 641.83 675.82 642.13 678.19 642.44 700.4 642.75 705.19 643.05 706.09 643.36 674.27 643.66 674.21 643.97 701.98 644.28 703.92 644.58 706.28 644.89 705.67 645.19 713.77 645.5 682.21 645.81 673.36 646.11 707.3 646.42 670.63 646.72 670.67 647.03 681.44 647.34 675.93 647.64 695.96 647.95 679.8 648.25 675.63 648.56 706.96 648.87 677.87 649.17 678.01 649.48 677.08 649.78 674.33 650.09 708.98 650.4 704.36 650.7 708.63 651.01 704.29 651.31 705.02 651.62 708.88 651.93 676.52 652.23 679.61 652.54 680 652.84 672.89 653.15 683.44 653.46 675.05 653.76 674.52 654.07 679.11 654.37 702.3 654.68 702.93 654.99 710.71 655.29 704.29 655.6 704.49 655.9 679.62 656.21 674.99 656.52 674.37 656.82 679.56 657.13 684.06 657.43 675.6 657.74 679.64 658.05 683.09 658.35 678.37 658.66 685.43 658.96 678.21 659.27 671.72 659.58 687.09 659.88 704.52 660.19 709.4 660.49 707.59 660.8 709.36 661.11 703.89 661.41 706.18 661.72 708.9 662.02 681.64 662.33 707.65 662.64 702.06 662.94 710.43 663.25 704.67 663.55 704.94 663.86 713.21 664.17 702.23 664.47 706.28 664.78 698.24 665.08 699.98 665.39 707.02 665.7 706.68 666 680.58 666.31 681.89 666.61 703.32 666.92 707.03 667.23 678.44 667.53 677.62 667.84 674.6 668.14 673.67 668.45 677.01 668.76 677.7 669.06 676.65 669.37 669.66 669.67 684.39 669.98 710.25 670.29 704.45 670.59 705.61 670.9 701.76 671.2 672.35 671.51 669.97 671.82 679.85 672.12 674.83 672.43 677.85 672.73 673.55 673.04 676.34 673.35 673.85 673.65 679.65 673.96 676.42 674.26 678.83 674.57 677.93 674.88 678.62 675.18 709.79 675.49 702.14 675.79 675.95" fill="none" stroke="#000" stroke-width="0.85" stroke-linejoin="round" />
<line x1="599.4" y1="655" x2="599.4" y2="665.5" stroke="#1ec3f0" stroke-width="2.2" />
<path d="M593.6 664.5L605.2 664.5L599.4 675.5Z" fill="#1ec3f0"/>
<line x1="521.3" y1="758.4" x2="521.3" y2="826.2" stroke="#1a1a1a" stroke-width="1.1" />
<line x1="521.3" y1="820.6" x2="524.3" y2="820.6" stroke="#1a1a1a" stroke-width="1.1" />
<line x1="521.3" y1="798.3" x2="524.3" y2="798.3" stroke="#1a1a1a" stroke-width="1.1" />
<line x1="521.3" y1="776" x2="524.3" y2="776" stroke="#1a1a1a" stroke-width="1.1" />
<line x1="521.3" y1="809.45" x2="523.1" y2="809.45" stroke="#1a1a1a" stroke-width="1.1" />
<line x1="521.3" y1="787.15" x2="523.1" y2="787.15" stroke="#1a1a1a" stroke-width="1.1" />
<line x1="521.3" y1="764.85" x2="523.1" y2="764.85" stroke="#1a1a1a" stroke-width="1.1" />
<line x1="521.3" y1="826.2" x2="676.6" y2="826.2" stroke="#1a1a1a" stroke-width="1.1" />
<line x1="521.3" y1="826.2" x2="521.3" y2="822.7" stroke="#1a1a1a" stroke-width="1.1" />
<line x1="552" y1="826.2" x2="552" y2="822.7" stroke="#1a1a1a" stroke-width="1.1" />
<line x1="582.7" y1="826.2" x2="582.7" y2="822.7" stroke="#1a1a1a" stroke-width="1.1" />
<line x1="536.65" y1="826.2" x2="536.65" y2="824.2" stroke="#1a1a1a" stroke-width="1.1" />
<line x1="567.35" y1="826.2" x2="567.35" y2="824.2" stroke="#1a1a1a" stroke-width="1.1" />
<line x1="615.7" y1="826.2" x2="615.7" y2="822.7" stroke="#1a1a1a" stroke-width="1.1" />
<line x1="646.3" y1="826.2" x2="646.3" y2="822.7" stroke="#1a1a1a" stroke-width="1.1" />
<line x1="676.9" y1="826.2" x2="676.9" y2="822.7" stroke="#1a1a1a" stroke-width="1.1" />
<line x1="631" y1="826.2" x2="631" y2="824.2" stroke="#1a1a1a" stroke-width="1.1" />
<line x1="661.6" y1="826.2" x2="661.6" y2="824.2" stroke="#1a1a1a" stroke-width="1.1" />
<rect x="596.3" y="823.2" width="5" height="6" fill="#fff"/>
<line x1="595.6" y1="829" x2="598.8" y2="823.4" stroke="#f01010" stroke-width="1.1" />
<line x1="598.8" y1="829" x2="602" y2="823.4" stroke="#f01010" stroke-width="1.1" />
<path d="M521.6 785.88 521.75 780.21 521.91 782.65 522.06 784.24 522.21 786.01 522.37 786.97 522.52 787.83 522.67 779.51 522.83 788 522.98 781.83 523.13 784.47 523.29 785.46 523.44 785.15 523.6 784.02 523.75 781 523.9 782.03 524.06 783.73 524.21 787.85 524.36 789.09 524.52 778.11 524.67 811.59 524.82 802.39 524.98 780.35 525.13 788.24 525.28 781.49 525.44 780.92 525.59 782.98 525.74 780.83 525.9 787.92 526.05 787.41 526.2 784.31 526.36 783.74 526.51 783.99 526.67 782.33 526.82 785.95 526.97 790.15 527.13 782.51 527.28 784.42 527.43 781.28 527.59 777.47 527.74 783.49 527.89 781.98 528.05 786.43 528.2 781 528.35 782.71 528.51 782.99 528.66 780.98 528.81 787.14 528.97 782.04 529.12 782.36 529.27 778.95 529.43 789.17 529.58 784.01 529.74 777.14 529.89 784.97 530.04 785.05 530.2 778.37 530.35 776.19 530.5 783.39 530.66 785.89 530.81 785.53 530.96 784.93 531.12 786.28 531.27 786.17 531.42 783.22 531.58 783.62 531.73 782.3 531.88 783.66 532.04 787.38 532.19 781.52 532.34 783 532.5 785.5 532.65 812.43 532.81 810.65 532.96 811.38 533.11 812.01 533.27 809.31 533.42 808.42 533.57 812.57 533.73 811.68 533.88 814.96 534.03 812.13 534.19 810.19 534.34 809.02 534.49 811.12 534.65 811.88 534.8 813.78 534.95 810.97 535.11 814.91 535.26 811.24 535.41 811.56 535.57 814.35 535.72 810.63 535.88 812.27 536.03 809.82 536.18 813.08 536.34 810.17 536.49 806.93 536.64 811.09 536.8 809.25 536.95 785.68 537.1 784.81 537.26 789.42 537.41 784.21 537.56 787.15 537.72 783.41 537.87 789.95 538.02 786.34 538.18 783.5 538.33 782.58 538.48 788.73 538.64 785 538.79 776.05 538.95 781.38 539.1 783.27 539.25 792.03 539.41 786.52 539.56 782.19 539.71 783.05 539.87 782.39 540.02 780.88 540.17 783.46 540.33 781.2 540.48 789.14 540.63 776.25 540.79 784.65 540.94 785.7 541.09 779.25 541.25 781.95 541.4 780.84 541.55 785.62 541.71 782.92 541.86 781.63 542.02 787.18 542.17 784.42 542.32 817.64 542.48 784.64 542.63 785.87 542.78 787.55 542.94 782.48 543.09 783.04 543.24 780.3 543.4 783.97 543.55 785.78 543.7 788.12 543.86 783.51 544.01 784.7 544.16 777.73 544.32 776.89 544.47 779.04 544.62 786.48 544.78 787.96 544.93 784.48 545.09 786.46 545.24 779.51 545.39 783.42 545.55 784.99 545.7 783.82 545.85 780 546.01 786.61 546.16 782.31 546.31 787.75 546.47 784.4 546.62 785.76 546.77 782.83 546.93 783.31 547.08 780.18 547.23 781.72 547.39 785.59 547.54 787.75 547.69 786.22 547.85 785.06 548 812.34 548.16 813.93 548.31 808.41 548.46 808.86 548.62 812.47 548.77 813.14 548.92 812.37 549.08 811.79 549.23 811.73 549.38 816.51 549.54 812.95 549.69 817.29 549.84 811.55 550 809.63 550.15 814.85 550.3 811.16 550.46 813.5 550.61 813.75 550.76 805.77 550.92 808.99 551.07 810.21 551.23 812.97 551.38 810.43 551.53 812.24 551.69 810.3 551.84 814.36 551.99 811.88 552.15 812.85 552.3 788.03 552.45 778.71 552.61 781.34 552.76 786.16 552.91 788.2 553.07 785.97 553.22 786.31 553.37 785.62 553.53 788.33 553.68 786.28 553.83 783.6 553.99 782.55 554.14 789.74 554.3 783.8 554.45 786.76 554.6 786.93 554.76 784.75 554.91 785.86 555.06 781.7 555.22 781.69 555.37 784.71 555.52 785.73 555.68 778.41 555.83 778.18 555.98 782.63 556.14 784.26 556.29 780.76 556.44 779.43 556.6 785.38 556.75 778.36 556.9 814.28 557.06 780.5 557.21 785.35 557.37 783.59 557.52 785.17 557.67 783.72 557.83 780.73 557.98 786.5 558.13 784.7 558.29 782.15 558.44 785.21 558.59 777.65 558.75 788.22 558.9 776.13 559.05 785.79 559.21 780.85 559.36 778.91 559.51 782.19 559.67 788.06 559.82 784.81 559.97 783.59 560.13 782.08 560.28 780.82 560.44 780.39 560.59 779.33 560.74 786.68 560.9 780.79 561.05 817.31 561.2 783.35 561.36 787.04 561.51 789.2 561.66 781.01 561.82 783.89 561.97 780.79 562.12 788.6 562.28 787.5 562.43 784.1 562.58 785.82 562.74 783.58 562.89 785.69 563.04 784.83 563.2 787.27 563.35 779.9 563.51 784.77 563.66 787.39 563.81 781.73 563.97 782.33 564.12 783.14 564.27 783.12 564.43 785 564.58 784.2 564.73 790.53 564.89 788.54 565.04 787.54 565.19 807.85 565.35 794.02 565.5 784.3 565.65 784.61 565.81 780.37 565.96 784.91 566.11 781.81 566.27 782.49 566.42 787.84 566.58 782.84 566.73 783.18 566.88 787.3 567.04 786.95 567.19 787.68 567.34 779.62 567.5 777.37 567.65 781.65 567.8 779.02 567.96 787.91 568.11 779.51 568.26 777.79 568.42 778.87 568.57 786.67 568.72 780.49 568.88 784.15 569.03 780.52 569.18 785.76 569.34 783.76 569.49 785.54 569.65 782.35 569.8 784.11 569.95 780.4 570.11 809.16 570.26 810.4 570.41 811.79 570.57 812.59 570.72 811.66 570.87 809.38 571.03 783.4 571.18 782.91 571.33 783.91 571.49 784.03 571.64 785.83 571.79 789.53 571.95 782.05 572.1 782.09 572.25 786.76 572.41 777.96 572.56 815.24 572.72 808.62 572.87 810.9 573.02 810.71 573.18 808.19 573.33 808.85 573.48 783.72 573.64 787.03 573.79 787.52 573.94 783.21 574.1 778.97 574.25 781.11 574.4 783.89 574.56 782.78 574.71 781.7 574.86 778.54 575.02 786.12 575.17 781.58 575.32 782.94 575.48 786.11 575.63 786.9 575.79 779.91 575.94 782.78 576.09 784.43 576.25 783.49 576.4 780.79 576.55 783.5 576.71 778.88 576.86 784.58 577.01 786.19 577.17 784.13 577.32 786.66 577.47 784.86 577.63 780.04 577.78 778.57 577.93 781.86 578.09 783.19 578.24 786.57 578.39 786.86 578.55 782.66 578.7 783.28 578.86 809.17 579.01 799.09 579.16 779.02 579.32 780.76 579.47 783.63 579.62 783.09 579.78 779.88 579.93 782.69 580.08 783.06 580.24 788.6 580.39 788.95 580.54 789.63 580.7 790.69 580.85 783.83 581 782.78 581.16 786.46 581.31 782.44 581.46 782.43 581.62 784.03 581.77 788.3 581.93 779.37 582.08 779.58 582.23 812.76 582.39 791.78 582.54 783.65 582.69 786.19 582.85 785.04 583 789.47 583.15 784.86 583.31 788.69 583.46 780.32 583.61 782.81 583.77 788.04 583.92 782.03 584.07 789.05 584.23 783.31 584.38 782.33 584.53 783.58 584.69 787.24 584.84 784.13 585 784.35 585.15 783.61 585.3 779.24 585.46 778.6 585.61 778.95 585.76 785.73 585.92 786.09 586.07 783.73 586.22 782.46 586.38 790.1 586.53 813.17 586.68 778.3 586.84 787.6 586.99 786.06 587.14 785.96 587.3 782.3 587.45 783.99 587.6 784.79 587.76 788.45 587.91 781.93 588.07 783.79 588.22 785.84 588.37 783.72 588.53 781.38 588.68 788.33 588.83 788.56 588.99 786.93 589.14 786.48 589.29 793.15 589.45 785.65 589.6 780.39 589.75 784.81 589.91 780.68 590.06 792.62 590.21 784.15 590.37 779.55 590.52 778.98 590.67 785.34 590.83 786.34 590.98 782.62 591.14 787.54 591.29 784.92 591.44 788.93 591.6 783.55 591.75 783.79 591.9 778.81 592.06 782.71 592.21 785.83 592.36 784.09 592.52 787.76 592.67 783.7 592.82 784.46 592.98 782.51 593.13 806.87 593.28 803.88 593.44 782.8 593.59 781.54 593.74 787.49 593.9 777.97 594.05 786.02 594.21 776.24 594.36 781.4 594.51 780.83 594.67 782.97 594.82 780.7 594.97 786.99 595.13 786.28 595.28 789.83 595.43 782.14 595.59 785.99 595.74 781.49 595.89 781.97" fill="none" stroke="#000" stroke-width="0.85" stroke-linejoin="round" />
<path d="M600.4 809.11 600.55 806.92 600.71 819.54 600.86 809.9 601.01 810.77 601.17 814.24 601.32 813.14 601.47 810.79 601.62 811.59 601.78 812.45 601.93 815.27 602.08 810.8 602.24 813.72 602.39 811.42 602.54 813.49 602.7 811.07 602.85 809.39 603 810.96 603.15 809.66 603.31 815.94 603.46 810.26 603.61 810.79 603.77 813.61 603.92 784.31 604.07 792.41 604.23 783.57 604.38 785.07 604.53 790.78 604.68 782.26 604.84 813.65 604.99 810.84 605.14 812.42 605.3 810.2 605.45 811.42 605.6 812.57 605.76 810.18 605.91 809.13 606.06 818.65 606.21 811.61 606.37 813.52 606.52 815.09 606.67 807.69 606.83 808.75 606.98 787 607.13 787.25 607.29 781.31 607.44 785.75 607.59 784.82 607.74 789.88 607.9 784.24 608.05 808.21 608.2 813.11 608.36 812.06 608.51 806.34 608.66 809 608.82 807.33 608.97 809.76 609.12 808.02 609.27 816.81 609.43 814.22 609.58 816.78 609.73 804.88 609.89 811.14 610.04 812.09 610.19 814.02 610.35 814.81 610.5 792.43 610.65 776.94 610.8 784.08 610.96 783.64 611.11 788.14 611.26 784.01 611.42 782.67 611.57 811.95 611.72 809.81 611.88 814.28 612.03 810.71 612.18 808.96 612.33 809.98 612.49 810.53 612.64 812.02 612.79 814.73 612.95 810.01 613.1 812.91 613.25 814.6 613.41 809.36 613.56 816.64 613.71 813.42 613.86 809.33 614.02 808.8 614.17 812.85 614.32 811.51 614.48 810.04 614.63 811.92 614.78 814.07 614.94 810.37 615.09 811.2 615.24 811.38 615.39 808.29 615.55 810.77 615.7 813.11 615.85 811.21 616.01 805.75 616.16 813.9 616.31 812.51 616.47 814.16 616.62 810.62 616.77 815.57 616.92 810.33 617.08 809.37 617.23 814.08 617.38 814.31 617.54 816.27 617.69 811.57 617.84 815.14 618 785.75 618.15 785.12 618.3 785.94 618.45 781.27 618.61 778.93 618.76 790.36 618.91 786.32 619.07 783.06 619.22 787.05 619.37 785.47 619.53 783.18 619.68 779.56 619.83 780.23 619.98 784.72 620.14 783.43 620.29 784.94 620.44 784.36 620.6 787.43 620.75 789.25 620.9 784.95 621.06 780.83 621.21 781.48 621.36 789.55 621.51 808.55 621.67 799.69 621.82 782.94 621.97 787.19 622.13 781.02 622.28 784.45 622.43 782.06 622.59 781.14 622.74 789.78 622.89 784.49 623.04 779.18 623.2 783.76 623.35 780.62 623.5 782.53 623.66 785.35 623.81 782.96 623.96 780.6 624.12 779.87 624.27 779.38 624.42 787.21 624.57 781.28 624.73 788.04 624.88 784.22 625.03 784.46 625.19 781.9 625.34 782.85 625.49 779.99 625.65 785.69 625.8 781.24 625.95 782.62 626.1 783.81 626.26 815.37 626.41 809.95 626.56 810.73 626.72 809.28 626.87 811.81 627.02 812.48 627.18 810.5 627.33 810.28 627.48 809.59 627.63 805.89 627.79 813.58 627.94 805.55 628.09 820.76 628.25 808.75 628.4 814.2 628.55 805.55 628.71 814.41 628.86 808.44 629.01 814.72 629.16 815.15 629.32 809.23 629.47 809.03 629.62 813.83 629.78 804.33 629.93 812.67 630.08 806.91 630.24 814.79 630.39 814.64 630.54 811.41 630.69 814.79 630.85 810.29 631 818.26 631.15 811.15 631.31 813.41 631.46 814.63 631.61 811.04 631.77 812.37 631.92 813.06 632.07 809.21 632.22 810.79 632.38 810.53 632.53 807.62 632.68 811.91 632.84 809.13 632.99 812.96 633.14 809.83 633.3 810.08 633.45 813.36 633.6 816.32 633.75 815.6 633.91 814.57 634.06 809.99 634.21 812.1 634.37 812.6 634.52 810.23 634.67 809.46 634.83 807.43 634.98 813.51 635.13 810.01 635.28 809.53 635.44 814.59 635.59 811.31 635.74 814.48 635.9 812.37 636.05 810.4 636.2 816.88 636.36 814.35 636.51 814.15 636.66 811.4 636.81 813.94 636.97 810.55 637.12 814.3 637.27 813.26 637.43 809.84 637.58 810.72 637.73 811.23 637.89 811.8 638.04 808.63 638.19 807.5 638.34 812.82 638.5 813.9 638.65 814.86 638.8 806.4 638.96 814.42 639.11 815.72 639.26 810.87 639.42 808.48 639.57 815.45 639.72 812.07 639.87 816.06 640.03 813.81 640.18 806.73 640.33 811.18 640.49 812.48 640.64 811.47 640.79 810.83 640.95 812 641.1 815.31 641.25 815.29 641.4 805.56 641.56 786.14 641.71 780.16 641.86 786 642.02 779.85 642.17 781.69 642.32 784.45 642.48 777.68 642.63 786.66 642.78 784.52 642.93 786.42 643.09 786.18 643.24 784.92 643.39 786.73 643.55 784.8 643.7 779 643.85 789.11 644.01 819.25 644.16 800.65 644.31 785.23 644.46 780.73 644.62 781.61 644.77 782.35 644.92 783.19 645.08 776.51 645.23 787.24 645.38 787.32 645.54 783.89 645.69 783.18 645.84 784.53 645.99 786.37 646.15 787.8 646.3 784.65 646.45 785.97 646.61 785.28 646.76 787.1 646.91 779.73 647.07 782.43 647.22 778.17 647.37 785.38 647.52 783.63 647.68 784.57 647.83 783.75 647.98 784.59 648.14 811.46 648.29 789.81 648.44 784.64 648.6 781.7 648.75 789.74 648.9 784.87 649.05 782.06 649.21 779.95 649.36 784.07 649.51 782.42 649.67 778.47 649.82 779.86 649.97 785.18 650.13 785.65 650.28 780.71 650.43 783.13 650.58 785.46 650.74 784.51 650.89 782.84 651.04 784.42 651.2 784.58 651.35 784.53 651.5 788.35 651.66 778.52 651.81 780.09 651.96 779.2 652.11 784.22 652.27 783.43 652.42 808.64 652.57 781.31 652.73 789.37 652.88 782.73 653.03 786.85 653.19 784.03 653.34 785.83 653.49 778.62 653.64 782.17 653.8 783.89 653.95 779.56 654.1 784.02 654.26 786.01 654.41 784.37 654.56 784.92 654.72 783.66 654.87 781.25 655.02 784.17 655.17 784.01 655.33 780.72 655.48 782.93 655.63 780.92 655.79 783.4 655.94 787.77 656.09 787.22 656.25 816.69 656.4 780.34 656.55 782.54 656.7 785.25 656.86 786.82 657.01 782.71 657.16 784.21 657.32 782.83 657.47 786.37 657.62 787.18 657.78 779.03 657.93 786.7 658.08 783.88 658.23 779.74 658.39 789.38 658.54 781.68 658.69 783.6 658.85 784.24 659 813.64 659.15 801.35 659.31 790.56 659.46 778.06 659.61 784.68 659.76 781.1 659.92 780.44 660.07 782.93 660.22 782.42 660.38 781.64 660.53 779.01 660.68 782.31 660.84 779.97 660.99 784.69 661.14 785.09 661.29 783.55 661.45 782.59 661.6 782.17 661.75 777.89 661.91 781.25 662.06 783.61 662.21 777.77 662.37 782.8 662.52 782.71 662.67 782.31 662.82 784.81 662.98 787.11 663.13 783.4 663.28 814.74 663.44 800.36 663.59 783.44 663.74 784.4 663.9 785.59 664.05 789.19 664.2 784.31 664.35 778.46 664.51 781.1 664.66 780.52 664.81 783.86 664.97 780.6 665.12 785.84 665.27 785.18 665.43 782.22 665.58 788.12 665.73 783.62 665.88 782.89 666.04 778.68 666.19 785.92 666.34 782.52 666.5 785.77 666.65 785.45 666.8 791.98 666.96 786.64 667.11 780.31 667.26 782.22 667.41 783.32 667.57 776.32 667.72 782.15 667.87 787.55 668.03 813.18 668.18 783.97 668.33 778.92 668.49 786.52 668.64 782.51 668.79 780.83 668.94 786.25 669.1 783.53 669.25 789.89 669.4 783.49 669.56 790.47 669.71 784.96 669.86 778.58 670.02 782.55 670.17 783.64 670.32 783.33 670.47 777.25 670.63 782.11 670.78 780.63 670.93 785.11 671.09 785.1 671.24 786.96 671.39 784.32 671.55 785.91 671.7 780.8 671.85 781.84 672 784.15 672.16 785.44 672.31 825.06 672.46 799.52 672.62 782.87 672.77 781.79 672.92 793.14 673.08 791.07 673.23 783.31 673.38 786.92 673.53 784.45 673.69 785.22 673.84 782.01 673.99 789.42 674.15 785.52 674.3 780.93 674.45 783.16 674.61 786.3 674.76 782.41 674.91 782.93 675.06 786.48 675.22 781.7 675.37 781.74 675.52 784.19 675.68 808.68 675.83 787.34 675.98 781.47 676.14 784.37 676.29 815.75 676.44 785.59 676.59 780.25 676.75 785.47" fill="none" stroke="#000" stroke-width="0.85" stroke-linejoin="round" />
<line x1="599.4" y1="761.6" x2="599.4" y2="771.5" stroke="#f01010" stroke-width="2.2" />
<path d="M593.6 770.5L605.2 770.5L599.4 781.5Z" fill="#f01010"/>
<g stroke="#000" stroke-width="0.18"><text x="6.2" y="235.2" font-size="13.5" font-weight="bold" >b</text>
<text x="51.4" y="288.32" font-size="10.4" text-anchor="end" >0</text>
<text x="51.4" y="273.02" font-size="10.4" text-anchor="end" >300</text>
<text x="51.4" y="257.72" font-size="10.4" text-anchor="end" >600</text>
<text x="51.4" y="340.32" font-size="10.4" text-anchor="end" >0.0</text>
<text x="51.4" y="325.02" font-size="10.4" text-anchor="end" >0.4</text>
<text x="51.4" y="309.72" font-size="10.4" text-anchor="end" >0.8</text>
<text x="56.4" y="353.72" font-size="10.4" text-anchor="middle" >0</text>
<text x="128.6" y="353.72" font-size="10.4" text-anchor="middle" >10</text>
<text x="200.8" y="353.72" font-size="10.4" text-anchor="middle" >20</text>
<text x="273" y="353.72" font-size="10.4" text-anchor="middle" >30</text>
<text transform="translate(15.14 266) rotate(-90)" font-size="11" text-anchor="middle" >Intensity</text>
<text transform="translate(27.76 266) rotate(-90)" font-size="10.5" text-anchor="middle" >(a.u.)</text>
<text transform="translate(27.29 317.8) rotate(-90)" font-size="10.3" text-anchor="middle" >FRET</text>
<text x="101.2" y="244.58" font-size="10" >100 mM KCl, 0.1 mM EDTA</text>
<text x="52.4" y="411.12" font-size="10.4" text-anchor="end" >0</text>
<text x="52.4" y="393.92" font-size="10.4" text-anchor="end" >300</text>
<text x="52.4" y="376.72" font-size="10.4" text-anchor="end" >600</text>
<text x="52.4" y="464.12" font-size="10.4" text-anchor="end" >0.0</text>
<text x="52.4" y="448.92" font-size="10.4" text-anchor="end" >0.4</text>
<text x="52.4" y="433.72" font-size="10.4" text-anchor="end" >0.8</text>
<text x="57.4" y="477.22" font-size="10.4" text-anchor="middle" >0</text>
<text x="130.03" y="477.22" font-size="10.4" text-anchor="middle" >10</text>
<text x="202.67" y="477.22" font-size="10.4" text-anchor="middle" >20</text>
<text x="275.3" y="477.22" font-size="10.4" text-anchor="middle" >30</text>
<text transform="translate(14.99 390) rotate(-90)" font-size="10.6" text-anchor="middle" >Intensity</text>
<text transform="translate(27.76 390) rotate(-90)" font-size="10.5" text-anchor="middle" >(a.u.)</text>
<text transform="translate(27.29 441.1) rotate(-90)" font-size="10.3" text-anchor="middle" >FRET</text>
<text x="100.8" y="371.3" font-size="12" >100 mM KCl, 0.5 mM Mg</text>
<text x="236.49" y="364.47" font-size="7" >2+</text>
<text x="52.4" y="536.12" font-size="10.4" text-anchor="end" >0</text>
<text x="52.4" y="520.42" font-size="10.4" text-anchor="end" >300</text>
<text x="52.4" y="504.72" font-size="10.4" text-anchor="end" >600</text>
<text x="52.4" y="588.32" font-size="10.4" text-anchor="end" >0.0</text>
<text x="52.4" y="572.72" font-size="10.4" text-anchor="end" >0.4</text>
<text x="52.4" y="557.12" font-size="10.4" text-anchor="end" >0.8</text>
<text x="57.4" y="601.12" font-size="10.4" text-anchor="middle" >0</text>
<text x="130.03" y="601.12" font-size="10.4" text-anchor="middle" >10</text>
<text x="202.67" y="601.12" font-size="10.4" text-anchor="middle" >20</text>
<text x="275.3" y="601.12" font-size="10.4" text-anchor="middle" >30</text>
<text transform="translate(14.99 514.4) rotate(-90)" font-size="10.6" text-anchor="middle" >Intensity</text>
<text transform="translate(27.76 514.4) rotate(-90)" font-size="10.5" text-anchor="middle" >(a.u.)</text>
<text transform="translate(27.29 565) rotate(-90)" font-size="10.3" text-anchor="middle" >FRET</text>
<text x="112.2" y="489.58" font-size="10" >100 mM KCl, 1 mM Mg</text>
<text x="214.74" y="484.13" font-size="6.5" >2+</text>
<text x="165.7" y="615.51" font-size="9.8" text-anchor="middle" >Time (s)</text>
<text x="5.6" y="7.9" font-size="13.5" font-weight="bold" >a</text>
<text x="117.7" y="122.32" font-size="10.4" text-anchor="middle" fill="#a0a0a0" stroke="none" >FRET</text>
<text x="289.2" y="114.45" font-size="10.2" stroke="none" >FRET</text>
<text x="173.9" y="51.9" font-size="10" fill="#a3309e" stroke="none">Mn<tspan font-size="7" dy="-4">2+</tspan></text>
<text x="202.6" y="51.9" font-size="10" stroke="none">Mg<tspan font-size="7" dy="-4">2+</tspan></text>
<text x="76.6" y="42.87" font-size="9.7" fill="#8c8c8c" stroke="none" >P4</text>
<text x="137.7" y="41.47" font-size="9.7" fill="#ec1c8c" stroke="none" >P2</text>
<text x="69.5" y="73.77" font-size="9.7" fill="#00a651" stroke="none" >P3.1</text>
<text x="143" y="74.67" font-size="9.7" fill="#00aeef" stroke="none" >P1.2</text>
<text x="152" y="95.17" font-size="9.7" fill="#fdb913" stroke="none" >L1</text>
<text x="109.8" y="108.47" font-size="9.7" fill="#f47b20" stroke="none" >L3</text>
<text x="59.5" y="105.07" font-size="9.7" fill="#00a651" stroke="none" >P3.2</text>
<text x="156.3" y="112.27" font-size="9.7" fill="#00aeef" stroke="none" >P1.1</text>
<text x="303.4" y="235.2" font-size="13.5" font-weight="bold" >c</text>
<text x="339.9" y="342.49" font-size="10.3" text-anchor="end" >0.00</text>
<text x="339.9" y="320.61" font-size="10.3" text-anchor="end" >0.04</text>
<text x="339.9" y="298.73" font-size="10.3" text-anchor="end" >0.08</text>
<text x="339.9" y="276.85" font-size="10.3" text-anchor="end" >0.12</text>
<text x="339.9" y="254.97" font-size="10.3" text-anchor="end" >0.16</text>
<text x="368.21" y="351.09" font-size="10.3" text-anchor="middle" >0.0</text>
<text x="417.21" y="351.09" font-size="10.3" text-anchor="middle" >0.5</text>
<text x="466.21" y="351.09" font-size="10.3" text-anchor="middle" >1.0</text>
<text x="383" y="240.15" font-size="10.2" text-anchor="middle" fill="#e81c1c" stroke="#e81c1c" >&gt; 99 %</text>
<text x="441" y="334.15" font-size="10.2" text-anchor="middle" fill="#3cbf5a" stroke="#3cbf5a" >&lt; 1 %</text>
<text x="476.6" y="247.29" font-size="10.3" text-anchor="end"><tspan font-style="italic">N</tspan> = 218</text>
<text transform="translate(311.44 289) rotate(-90)" font-size="8.5" text-anchor="middle" >Probability</text>
<text x="339.5" y="466.29" font-size="10.3" text-anchor="end" >0.00</text>
<text x="339.5" y="443.81" font-size="10.3" text-anchor="end" >0.04</text>
<text x="339.5" y="421.33" font-size="10.3" text-anchor="end" >0.08</text>
<text x="339.5" y="398.85" font-size="10.3" text-anchor="end" >0.12</text>
<text x="339.5" y="376.37" font-size="10.3" text-anchor="end" >0.16</text>
<text x="367.81" y="475.19" font-size="10.3" text-anchor="middle" >0.0</text>
<text x="416.81" y="475.19" font-size="10.3" text-anchor="middle" >0.5</text>
<text x="465.81" y="475.19" font-size="10.3" text-anchor="middle" >1.0</text>
<text x="383" y="382.32" font-size="10.4" text-anchor="middle" fill="#e81c1c" stroke="#e81c1c" >71 %</text>
<text x="427.4" y="441.62" font-size="11.8" text-anchor="middle" fill="#3cbf5a" stroke="#3cbf5a" >29 %</text>
<text x="479" y="379.89" font-size="10.3" text-anchor="end"><tspan font-style="italic">N</tspan> = 210</text>
<text transform="translate(310.74 411.5) rotate(-90)" font-size="9.9" text-anchor="middle" >Probability</text>
<text x="339.9" y="589.49" font-size="10.3" text-anchor="end" >0.00</text>
<text x="339.9" y="567.69" font-size="10.3" text-anchor="end" >0.04</text>
<text x="339.9" y="545.89" font-size="10.3" text-anchor="end" >0.08</text>
<text x="339.9" y="524.09" font-size="10.3" text-anchor="end" >0.12</text>
<text x="339.9" y="502.29" font-size="10.3" text-anchor="end" >0.16</text>
<text x="368.21" y="598.89" font-size="10.3" text-anchor="middle" >0.0</text>
<text x="417.21" y="598.89" font-size="10.3" text-anchor="middle" >0.5</text>
<text x="466.21" y="598.89" font-size="10.3" text-anchor="middle" >1.0</text>
<text x="388.6" y="528.72" font-size="10.4" text-anchor="middle" fill="#e81c1c" stroke="#e81c1c" >49 %</text>
<text x="440.6" y="542.32" font-size="10.4" text-anchor="middle" fill="#3cbf5a" stroke="#3cbf5a" >51 %</text>
<text x="477.5" y="504.32" font-size="10.4" text-anchor="end" font-style="italic" >N = 306</text>
<text transform="translate(310.74 536.5) rotate(-90)" font-size="9.9" text-anchor="middle" >Probability</text>
<text x="417" y="612.65" font-size="10.2" text-anchor="middle" >FRET Ratio</text>
<text x="519.4" y="235.2" font-size="13.5" font-weight="bold" >d</text>
<text x="548" y="334.04" font-size="9.6" text-anchor="end" stroke="none" >0</text>
<text x="556.6" y="346.64" font-size="9.6" text-anchor="middle" stroke="none" >0</text>
<text x="548" y="316.04" font-size="9.6" text-anchor="end" stroke="none" >0.2</text>
<text x="574.36" y="346.64" font-size="9.6" text-anchor="middle" stroke="none" >0.2</text>
<text x="548" y="298.04" font-size="9.6" text-anchor="end" stroke="none" >0.4</text>
<text x="592.12" y="346.64" font-size="9.6" text-anchor="middle" stroke="none" >0.4</text>
<text x="548" y="280.04" font-size="9.6" text-anchor="end" stroke="none" >0.6</text>
<text x="609.88" y="346.64" font-size="9.6" text-anchor="middle" stroke="none" >0.6</text>
<text x="548" y="262.04" font-size="9.6" text-anchor="end" stroke="none" >0.8</text>
<text x="627.64" y="346.64" font-size="9.6" text-anchor="middle" stroke="none" >0.8</text>
<text x="548" y="244.04" font-size="9.6" text-anchor="end" stroke="none" >1</text>
<text x="645.4" y="346.64" font-size="9.6" text-anchor="middle" stroke="none" >1</text>
<text x="663.2" y="337.74" font-size="9.6" stroke="none" >0</text>
<text x="663.2" y="315.71" font-size="9.6" stroke="none" >0.1</text>
<text x="663.2" y="293.67" font-size="9.6" stroke="none" >0.2</text>
<text x="663.2" y="271.64" font-size="9.6" stroke="none" >0.3</text>
<text x="663.2" y="249.61" font-size="9.6" stroke="none" >0.4</text>
<text transform="translate(526.64 286) rotate(-90)" font-size="8.5" text-anchor="middle" >Final FRET</text>
<text x="547.5" y="462.44" font-size="9.6" text-anchor="end" stroke="none" >0</text>
<text x="555.4" y="475.24" font-size="9.6" text-anchor="middle" stroke="none" >0</text>
<text x="547.5" y="444.64" font-size="9.6" text-anchor="end" stroke="none" >0.2</text>
<text x="572.52" y="475.24" font-size="9.6" text-anchor="middle" stroke="none" >0.2</text>
<text x="547.5" y="426.84" font-size="9.6" text-anchor="end" stroke="none" >0.4</text>
<text x="589.64" y="475.24" font-size="9.6" text-anchor="middle" stroke="none" >0.4</text>
<text x="547.5" y="409.04" font-size="9.6" text-anchor="end" stroke="none" >0.6</text>
<text x="606.76" y="475.24" font-size="9.6" text-anchor="middle" stroke="none" >0.6</text>
<text x="547.5" y="391.24" font-size="9.6" text-anchor="end" stroke="none" >0.8</text>
<text x="623.88" y="475.24" font-size="9.6" text-anchor="middle" stroke="none" >0.8</text>
<text x="547.5" y="373.44" font-size="9.6" text-anchor="end" stroke="none" >1</text>
<text x="641" y="475.24" font-size="9.6" text-anchor="middle" stroke="none" >1</text>
<text x="658.8" y="466.34" font-size="9.6" stroke="none" >0</text>
<text x="658.8" y="443.89" font-size="9.6" stroke="none" >0.05</text>
<text x="658.8" y="421.45" font-size="9.6" stroke="none" >0.1</text>
<text x="658.8" y="399.01" font-size="9.6" stroke="none" >0.15</text>
<text x="658.8" y="376.57" font-size="9.6" stroke="none" >0.2</text>
<text transform="translate(526.64 414.5) rotate(-90)" font-size="8.5" text-anchor="middle" >Final FRET</text>
<text x="548.6" y="586.84" font-size="9.6" text-anchor="end" stroke="none" >0</text>
<text x="557" y="598.64" font-size="9.6" text-anchor="middle" stroke="none" >0</text>
<text x="548.6" y="569.36" font-size="9.6" text-anchor="end" stroke="none" >0.2</text>
<text x="574.08" y="598.64" font-size="9.6" text-anchor="middle" stroke="none" >0.2</text>
<text x="548.6" y="551.88" font-size="9.6" text-anchor="end" stroke="none" >0.4</text>
<text x="591.16" y="598.64" font-size="9.6" text-anchor="middle" stroke="none" >0.4</text>
<text x="548.6" y="534.4" font-size="9.6" text-anchor="end" stroke="none" >0.6</text>
<text x="608.24" y="598.64" font-size="9.6" text-anchor="middle" stroke="none" >0.6</text>
<text x="548.6" y="516.92" font-size="9.6" text-anchor="end" stroke="none" >0.8</text>
<text x="625.32" y="598.64" font-size="9.6" text-anchor="middle" stroke="none" >0.8</text>
<text x="548.6" y="499.44" font-size="9.6" text-anchor="end" stroke="none" >1</text>
<text x="642.4" y="598.64" font-size="9.6" text-anchor="middle" stroke="none" >1</text>
<text x="660.2" y="591.04" font-size="9.6" stroke="none" >0</text>
<text x="660.2" y="571.8" font-size="9.6" stroke="none" >0.05</text>
<text x="660.2" y="552.56" font-size="9.6" stroke="none" >0.1</text>
<text x="660.2" y="533.32" font-size="9.6" stroke="none" >0.15</text>
<text x="660.2" y="514.08" font-size="9.6" stroke="none" >0.2</text>
<text transform="translate(526.64 539) rotate(-90)" font-size="8.5" text-anchor="middle" >Final FRET</text>
<text x="603.6" y="612.04" font-size="8.5" text-anchor="middle" >Initial FRET</text>
<text x="388" y="7.9" font-size="13.5" font-weight="bold" >e</text>
<text x="416.2" y="167.09" font-size="10.3" text-anchor="end" >0</text>
<text x="416.2" y="128.51" font-size="10.3" text-anchor="end" >20</text>
<text x="416.2" y="89.94" font-size="10.3" text-anchor="end" >40</text>
<text x="416.2" y="51.37" font-size="10.3" text-anchor="end" >60</text>
<text x="416.2" y="12.79" font-size="10.3" text-anchor="end" >80</text>
<text x="442.8" y="188.89" font-size="10.3" text-anchor="middle" >0.01</text>
<text x="508.4" y="188.89" font-size="10.3" text-anchor="middle" >0.1</text>
<text x="574" y="188.89" font-size="10.3" text-anchor="middle" >1</text>
<text x="639.6" y="188.89" font-size="10.3" text-anchor="middle" >10</text>
<text x="432.7" y="37.6" font-size="10">D<tspan font-size="7" dy="2">max</tspan><tspan dy="-2"> = 69.9 %</tspan></text>
<text x="432.7" y="52.2" font-size="10"><tspan font-style="italic">n</tspan> = 1.69</text>
<text x="432.7" y="65.6" font-size="10"><tspan font-style="italic">K</tspan><tspan font-size="7" dy="2" font-style="italic">1/2</tspan><tspan dy="-2"> = 0.59 mM</tspan></text>
<text transform="translate(397.98 90.7) rotate(-90)" font-size="10" text-anchor="middle" >% Docked</text>
<text x="536" y="205.08" font-size="10" text-anchor="middle">[Mg<tspan font-size="7" dy="-4">2+</tspan><tspan dy="4">] (mM)</tspan></text>
<text x="5.4" y="645.2" font-size="13.5" font-weight="bold" >f</text>
<text x="33.4" y="720.65" font-size="10.2" text-anchor="end" >0</text>
<text x="33.4" y="703.9" font-size="10.2" text-anchor="end" >2</text>
<text x="33.4" y="687.15" font-size="10.2" text-anchor="end" >4</text>
<text x="33.4" y="670.4" font-size="10.2" text-anchor="end" >6</text>
<text x="33.4" y="653.65" font-size="10.2" text-anchor="end" >8</text>
<text x="33.4" y="830.65" font-size="10.2" text-anchor="end" >0</text>
<text x="33.4" y="805.15" font-size="10.2" text-anchor="end" >5</text>
<text x="33.4" y="779.65" font-size="10.2" text-anchor="end" >10</text>
<text x="40.4" y="740.85" font-size="10.2" text-anchor="middle" >0.0</text>
<text x="88.2" y="740.85" font-size="10.2" text-anchor="middle" >0.5</text>
<text x="136" y="740.85" font-size="10.2" text-anchor="middle" >1.0</text>
<text x="169.5" y="740.85" font-size="10.2" text-anchor="middle" >10</text>
<text x="40.4" y="846.85" font-size="10.2" text-anchor="middle" >0.0</text>
<text x="88.2" y="846.85" font-size="10.2" text-anchor="middle" >0.5</text>
<text x="136" y="846.85" font-size="10.2" text-anchor="middle" >1.0</text>
<text x="169.5" y="846.85" font-size="10.2" text-anchor="middle" >10</text>
<text transform="translate(17.8 687) rotate(-90)" font-size="10.5" text-anchor="middle"><tspan fill="#f01010" stroke="#f01010" font-style="italic">k</tspan><tspan fill="#f01010" stroke="#f01010" font-size="7.5" font-style="italic" dy="-4.5">slow</tspan><tspan fill="#f01010" stroke="#f01010" font-size="7.5" font-style="italic" dx="-13.5" dy="8">dock</tspan><tspan dy="-3.5">, </tspan><tspan fill="#1010f0" stroke="#1010f0" font-style="italic">k</tspan><tspan fill="#1010f0" stroke="#1010f0" font-size="7.5" font-style="italic" dy="-4.5">fast</tspan><tspan fill="#1010f0" stroke="#1010f0" font-size="7.5" font-style="italic" dx="-11" dy="8">dock</tspan><tspan dy="-3.5"> (s</tspan><tspan font-size="7" dy="-4">−1</tspan><tspan dy="4">)</tspan></text>
<text transform="translate(17.8 793) rotate(-90)" font-size="10.5" text-anchor="middle"><tspan fill="#f01010" stroke="#f01010" font-style="italic">k</tspan><tspan fill="#f01010" stroke="#f01010" font-size="7.5" font-style="italic" dy="-4.5">slow</tspan><tspan fill="#f01010" stroke="#f01010" font-size="7.5" font-style="italic" dx="-13.5" dy="8">undock</tspan><tspan dy="-3.5">, </tspan><tspan fill="#1010f0" stroke="#1010f0" font-style="italic">k</tspan><tspan fill="#1010f0" stroke="#1010f0" font-size="7.5" font-style="italic" dy="-4.5">fast</tspan><tspan fill="#1010f0" stroke="#1010f0" font-size="7.5" font-style="italic" dx="-11" dy="8">undock</tspan><tspan dy="-3.5"> (s</tspan><tspan font-size="7" dy="-4">−1</tspan><tspan dy="4">)</tspan></text>
<text x="127" y="863.6" font-size="10" text-anchor="middle">[Mg<tspan font-size="7" dy="-4">2+</tspan><tspan dy="4">] (mM)</tspan></text>
<text x="228.6" y="645.2" font-size="13.5" font-weight="bold" >g</text>
<text x="258.2" y="720.65" font-size="10.2" text-anchor="end" >0.0</text>
<text x="258.2" y="698.45" font-size="10.2" text-anchor="end" >0.4</text>
<text x="258.2" y="676.25" font-size="10.2" text-anchor="end" >0.8</text>
<text x="262.4" y="735.25" font-size="10.2" text-anchor="middle" >0</text>
<text x="292.4" y="735.25" font-size="10.2" text-anchor="middle" >10</text>
<text x="322.4" y="735.25" font-size="10.2" text-anchor="middle" >20</text>
<text x="352.4" y="735.25" font-size="10.2" text-anchor="middle" >30</text>
<text x="382.4" y="735.25" font-size="10.2" text-anchor="middle" >40</text>
<text x="412.4" y="735.25" font-size="10.2" text-anchor="middle" >50</text>
<text x="340.6" y="663.58" font-size="10" text-anchor="middle" >DD</text>
<text transform="translate(236.98 689.2) rotate(-90)" font-size="10" text-anchor="middle" >FRET</text>
<text x="258.2" y="824.65" font-size="10.2" text-anchor="end" >0.0</text>
<text x="258.2" y="802.65" font-size="10.2" text-anchor="end" >0.4</text>
<text x="258.2" y="780.65" font-size="10.2" text-anchor="end" >0.8</text>
<text x="262.4" y="839.25" font-size="10.2" text-anchor="middle" >0</text>
<text x="292.4" y="839.25" font-size="10.2" text-anchor="middle" >10</text>
<text x="322.4" y="839.25" font-size="10.2" text-anchor="middle" >20</text>
<text x="352.4" y="839.25" font-size="10.2" text-anchor="middle" >30</text>
<text x="382.4" y="839.25" font-size="10.2" text-anchor="middle" >40</text>
<text x="412.4" y="839.25" font-size="10.2" text-anchor="middle" >50</text>
<text x="337.4" y="770.18" font-size="10" text-anchor="middle" >DU</text>
<text transform="translate(236.98 793.4) rotate(-90)" font-size="10" text-anchor="middle" >FRET</text>
<text transform="translate(426.9 648) rotate(90)" font-size="7" text-anchor="middle" stroke="none">0.00</text>
<text transform="translate(440.73 648) rotate(90)" font-size="7" text-anchor="middle" stroke="none">0.04</text>
<text transform="translate(454.57 648) rotate(90)" font-size="7" text-anchor="middle" stroke="none">0.08</text>
<text transform="translate(468.4 648) rotate(90)" font-size="7" text-anchor="middle" stroke="none">0.12</text>
<text transform="translate(418.7 668.3) rotate(90)" font-size="7" text-anchor="middle" stroke="none">1.0</text>
<text transform="translate(418.7 688.3) rotate(90)" font-size="7" text-anchor="middle" stroke="none">0.5</text>
<text transform="translate(418.7 708.3) rotate(90)" font-size="7" text-anchor="middle" stroke="none">0.0</text>
<text transform="translate(426.8 759.6) rotate(90)" font-size="7" text-anchor="middle" stroke="none">0.00</text>
<text transform="translate(440.17 759.6) rotate(90)" font-size="7" text-anchor="middle" stroke="none">0.04</text>
<text transform="translate(453.53 759.6) rotate(90)" font-size="7" text-anchor="middle" stroke="none">0.08</text>
<text transform="translate(466.9 759.6) rotate(90)" font-size="7" text-anchor="middle" stroke="none">0.12</text>
<text transform="translate(418.6 779.1) rotate(90)" font-size="7" text-anchor="middle" stroke="none">1.0</text>
<text transform="translate(418.6 797.7) rotate(90)" font-size="7" text-anchor="middle" stroke="none">0.5</text>
<text transform="translate(418.6 816.3) rotate(90)" font-size="7" text-anchor="middle" stroke="none">0.0</text>
<text x="337.4" y="854.12" font-size="11.5" text-anchor="middle" >Time (s)</text>
<text x="487.4" y="645.2" font-size="13.5" font-weight="bold" >h</text>
<text x="487.6" y="751.2" font-size="13.5" font-weight="bold" >i</text>
<text x="518.6" y="721.05" font-size="10.2" text-anchor="end" >0.0</text>
<text x="518.6" y="698.65" font-size="10.2" text-anchor="end" >0.4</text>
<text x="518.6" y="676.25" font-size="10.2" text-anchor="end" >0.8</text>
<text x="522.8" y="735.45" font-size="10.2" text-anchor="middle" >0</text>
<text x="553.4" y="735.45" font-size="10.2" text-anchor="middle" >10</text>
<text x="584" y="735.45" font-size="10.2" text-anchor="middle" >20</text>
<text x="614.6" y="735.45" font-size="10.2" text-anchor="middle" >30</text>
<text x="645.2" y="735.45" font-size="10.2" text-anchor="middle" >40</text>
<text x="675.8" y="735.45" font-size="10.2" text-anchor="middle" >50</text>
<text transform="translate(497.54 694.6) rotate(-90)" font-size="11" text-anchor="middle" >FRET</text>
<text x="556.6" y="662.18" font-size="10" text-anchor="middle" >DU</text>
<text x="650" y="661.78" font-size="10" text-anchor="middle" >DD</text>
<text x="514.8" y="824.32" font-size="10.4" text-anchor="end" >0.0</text>
<text x="514.8" y="802.02" font-size="10.4" text-anchor="end" >0.4</text>
<text x="514.8" y="779.72" font-size="10.4" text-anchor="end" >0.8</text>
<text x="521.3" y="841.05" font-size="10.2" text-anchor="middle" >0</text>
<text x="552" y="841.05" font-size="10.2" text-anchor="middle" >20</text>
<text x="582.7" y="841.05" font-size="10.2" text-anchor="middle" >40</text>
<text x="615.7" y="841.65" font-size="10.2" text-anchor="middle" >460</text>
<text x="646.3" y="841.65" font-size="10.2" text-anchor="middle" >480</text>
<text x="676.9" y="841.65" font-size="10.2" text-anchor="middle" >500</text>
<text transform="translate(497.34 792.5) rotate(-90)" font-size="11" text-anchor="middle" >FRET</text>
<text x="599.7" y="755.09" font-size="10.3" text-anchor="middle" >EDTA wash</text>
<text x="560" y="767.98" font-size="10" text-anchor="middle" >DD</text>
<text x="650" y="769.78" font-size="10" text-anchor="middle" >DU</text>
<text x="600.3" y="856.62" font-size="10.1" text-anchor="middle" >Time (s)</text></g>
</svg></body></html>
